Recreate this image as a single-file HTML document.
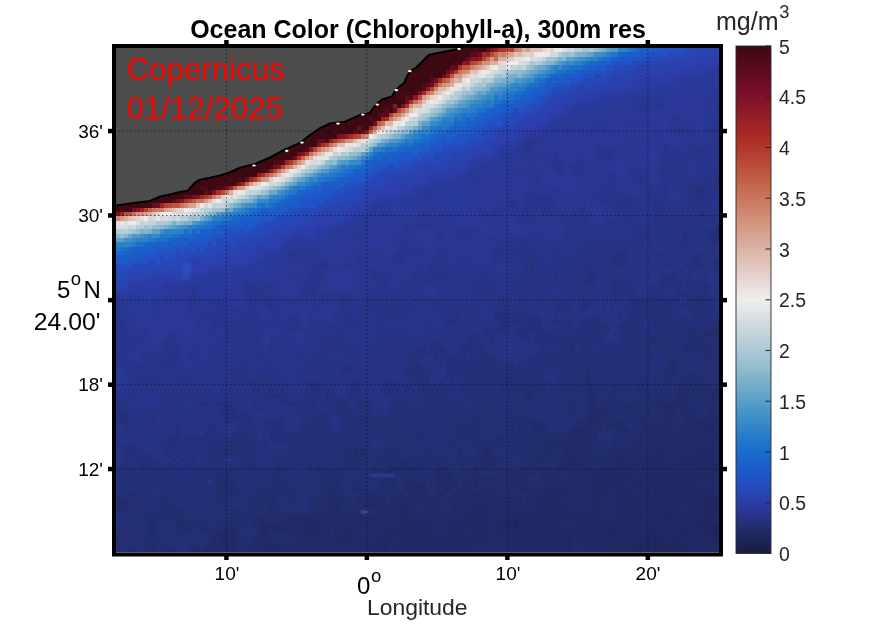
<!DOCTYPE html>
<html><head><meta charset="utf-8"><style>
html,body{margin:0;padding:0;background:#fff;overflow:hidden}
svg{display:block}
text{font-family:"Liberation Sans",sans-serif}
</style></head><body>
<svg width="895" height="626" viewBox="0 0 895 626">
<defs>
<filter id="bl" x="-50%" y="-50%" width="200%" height="200%"><feGaussianBlur stdDeviation="1"/></filter>
<clipPath id="cp"><rect x="116" y="48" width="603" height="505"/></clipPath>
<linearGradient id="cb" x1="0" y1="0" x2="0" y2="1"><stop offset="0.000" stop-color="#3c0911"/><stop offset="0.023" stop-color="#4b0a17"/><stop offset="0.045" stop-color="#5a0c1d"/><stop offset="0.068" stop-color="#690d22"/><stop offset="0.091" stop-color="#790e28"/><stop offset="0.114" stop-color="#851527"/><stop offset="0.136" stop-color="#921d26"/><stop offset="0.159" stop-color="#9f2425"/><stop offset="0.182" stop-color="#ac2b24"/><stop offset="0.205" stop-color="#b23a2d"/><stop offset="0.227" stop-color="#b84836"/><stop offset="0.250" stop-color="#be573f"/><stop offset="0.273" stop-color="#c46549"/><stop offset="0.295" stop-color="#c87359"/><stop offset="0.318" stop-color="#cd8169"/><stop offset="0.341" stop-color="#d18f79"/><stop offset="0.364" stop-color="#d59d89"/><stop offset="0.386" stop-color="#d9aa9a"/><stop offset="0.409" stop-color="#deb8ab"/><stop offset="0.432" stop-color="#e2c5bb"/><stop offset="0.455" stop-color="#e6d2cc"/><stop offset="0.477" stop-color="#ebe0dc"/><stop offset="0.500" stop-color="#f0edec"/><stop offset="0.523" stop-color="#e1e4e5"/><stop offset="0.545" stop-color="#d2dade"/><stop offset="0.568" stop-color="#c2d3da"/><stop offset="0.591" stop-color="#b2cbd6"/><stop offset="0.614" stop-color="#a1c3d1"/><stop offset="0.636" stop-color="#91bccd"/><stop offset="0.659" stop-color="#7db1cb"/><stop offset="0.682" stop-color="#69a7ca"/><stop offset="0.705" stop-color="#559cc8"/><stop offset="0.727" stop-color="#4291c6"/><stop offset="0.750" stop-color="#3486c8"/><stop offset="0.773" stop-color="#267ac9"/><stop offset="0.795" stop-color="#196ecb"/><stop offset="0.818" stop-color="#1a63ca"/><stop offset="0.841" stop-color="#1e58c9"/><stop offset="0.864" stop-color="#234dbf"/><stop offset="0.886" stop-color="#2943b1"/><stop offset="0.909" stop-color="#2a399d"/><stop offset="0.932" stop-color="#263282"/><stop offset="0.955" stop-color="#212b68"/><stop offset="0.977" stop-color="#1c2355"/><stop offset="1.000" stop-color="#171c42"/></linearGradient>
</defs>
<rect width="895" height="626" fill="#fff"/>
<g clip-path="url(#cp)">
<g shape-rendering="crispEdges"><path fill="#3c0911" d="M116 48h181v4h-181zM301 48h40v4h-40zM345 48h129v4h-129zM482 48h4v4h-4zM116 52h92v5h-92zM212 52h61v5h-61zM277 52h52v5h-52zM333 52h125v5h-125zM466 52h4v5h-4zM116 57h44v4h-44zM164 57h93v4h-93zM261 57h128v4h-128zM393 57h73v4h-73zM116 61h133v4h-133zM253 61h28v4h-28zM285 61h169v4h-169zM458 61h4v4h-4zM116 65h201v5h-201zM321 65h56v5h-56zM381 65h69v5h-69zM116 70h201v4h-201zM321 70h105v4h-105zM434 70h12v4h-12zM116 74h12v4h-12zM132 74h97v4h-97zM233 74h100v4h-100zM337 74h4v4h-4zM345 74h73v4h-73zM422 74h8v4h-8zM434 74h8v4h-8zM116 78h133v5h-133zM253 78h12v5h-12zM269 78h56v5h-56zM329 78h24v5h-24zM357 78h16v5h-16zM377 78h53v5h-53zM116 83h117v4h-117zM237 83h96v4h-96zM337 83h85v4h-85zM116 87h113v4h-113zM233 87h8v4h-8zM245 87h88v4h-88zM337 87h8v4h-8zM349 87h64v4h-64zM116 91h44v4h-44zM164 91h133v4h-133zM301 91h100v4h-100zM405 91h13v4h-13zM116 95h20v5h-20zM140 95h117v5h-117zM261 95h24v5h-24zM289 95h96v5h-96zM389 95h8v5h-8zM116 100h52v4h-52zM172 100h61v4h-61zM237 100h64v4h-64zM305 100h12v4h-12zM321 100h24v4h-24zM349 100h56v4h-56zM116 104h4v4h-4zM124 104h265v4h-265zM397 104h4v4h-4zM116 108h129v5h-129zM249 108h132v5h-132zM389 108h4v5h-4zM116 113h8v4h-8zM128 113h4v4h-4zM136 113h72v4h-72zM212 113h165v4h-165zM116 117h8v4h-8zM128 117h4v4h-4zM136 117h197v4h-197zM337 117h32v4h-32zM377 117h4v4h-4zM116 121h88v5h-88zM208 121h157v5h-157zM116 126h8v4h-8zM128 126h185v4h-185zM317 126h24v4h-24zM345 126h12v4h-12zM365 126h4v4h-4zM116 130h28v4h-28zM148 130h169v4h-169zM321 130h12v4h-12zM337 130h4v4h-4zM349 130h4v4h-4zM116 134h125v5h-125zM245 134h92v5h-92zM116 139h60v4h-60zM180 139h133v4h-133zM116 143h141v4h-141zM261 143h32v4h-32zM297 143h20v4h-20zM116 147h173v5h-173zM293 147h8v5h-8zM116 152h137v4h-137zM257 152h28v4h-28zM289 152h8v4h-8zM116 156h173v4h-173zM116 160h157v5h-157zM116 165h100v4h-100zM221 165h40v4h-40zM265 165h4v4h-4zM116 169h80v4h-80zM200 169h61v4h-61zM116 173h133v4h-133zM253 173h4v4h-4zM116 177h113v5h-113zM233 177h4v5h-4zM241 177h4v5h-4zM120 182h84v4h-84zM208 182h8v4h-8zM229 182h4v4h-4zM116 186h84v4h-84zM208 186h8v4h-8zM116 190h32v5h-32zM152 190h52v5h-52zM116 195h28v4h-28zM148 195h32v4h-32zM116 199h44v4h-44zM164 199h8v4h-8zM116 203h32v5h-32zM116 208h4v4h-4zM124 208h8v4h-8z"/><path fill="#410913" d="M297 48h4v4h-4zM341 48h4v4h-4zM478 48h4v4h-4zM208 52h4v5h-4zM458 52h8v5h-8zM257 57h4v4h-4zM281 61h4v4h-4zM317 65h4v5h-4zM377 65h4v5h-4zM317 70h4v4h-4zM426 70h8v4h-8zM128 74h4v4h-4zM229 74h4v4h-4zM333 74h4v4h-4zM341 74h4v4h-4zM418 74h4v4h-4zM430 74h4v4h-4zM249 78h4v5h-4zM353 78h4v5h-4zM373 78h4v5h-4zM233 83h4v4h-4zM333 83h4v4h-4zM229 87h4v4h-4zM241 87h4v4h-4zM333 87h4v4h-4zM345 87h4v4h-4zM413 87h9v4h-9zM160 91h4v4h-4zM297 91h4v4h-4zM401 91h4v4h-4zM136 95h4v5h-4zM257 95h4v5h-4zM285 95h4v5h-4zM385 95h4v5h-4zM397 95h8v5h-8zM301 100h4v4h-4zM317 100h4v4h-4zM345 100h4v4h-4zM120 104h4v4h-4zM389 104h4v4h-4zM245 108h4v5h-4zM381 108h4v5h-4zM124 113h4v4h-4zM124 117h4v4h-4zM132 117h4v4h-4zM373 117h4v4h-4zM204 121h4v5h-4zM365 121h8v5h-8zM124 126h4v4h-4zM313 126h4v4h-4zM361 126h4v4h-4zM144 130h4v4h-4zM317 130h4v4h-4zM341 130h8v4h-8zM241 134h4v5h-4zM176 139h4v4h-4zM313 139h4v4h-4zM257 143h4v4h-4zM293 143h4v4h-4zM289 147h4v5h-4zM301 147h4v5h-4zM253 152h4v4h-4zM285 152h4v4h-4zM289 156h4v4h-4zM216 165h5v4h-5zM261 165h4v4h-4zM269 165h4v4h-4zM196 169h4v4h-4zM261 169h4v4h-4zM249 173h4v4h-4zM204 182h4v4h-4zM216 182h13v4h-13zM148 190h4v5h-4zM144 195h4v4h-4zM180 195h4v4h-4zM160 199h4v4h-4zM148 203h4v5h-4z"/><path fill="#4c0a17" d="M474 48h4v4h-4zM329 52h4v5h-4zM160 57h4v4h-4zM249 61h4v4h-4zM454 61h4v4h-4zM265 78h4v5h-4zM325 78h4v5h-4zM422 83h4v4h-4zM409 95h4v5h-4zM168 100h4v4h-4zM132 113h4v4h-4zM208 113h4v4h-4zM377 113h4v4h-4zM385 113h4v4h-4zM333 117h4v4h-4zM369 117h4v4h-4zM341 126h4v4h-4zM333 130h4v4h-4zM325 139h4v4h-4zM305 147h4v5h-4zM273 160h8v5h-8zM229 177h4v5h-4zM237 177h4v5h-4zM233 182h4v4h-4zM200 186h8v4h-8zM216 186h9v4h-9zM208 190h4v5h-4zM120 208h4v4h-4z"/><path fill="#570b1b" d="M486 48h4v4h-4zM273 52h4v5h-4zM470 52h8v5h-8zM454 65h4v5h-4zM430 78h4v5h-4zM426 83h4v4h-4zM422 87h4v4h-4zM405 95h4v5h-4zM233 100h4v4h-4zM385 108h4v5h-4zM381 113h4v4h-4zM357 130h4v4h-4zM281 160h4v5h-4zM265 169h4v4h-4zM116 182h4v4h-4zM204 190h4v5h-4zM184 195h8v4h-8zM172 199h4v4h-4z"/><path fill="#801227" d="M490 48h4v4h-4zM470 57h8v4h-8zM341 134h4v5h-4zM317 143h4v4h-4zM301 152h4v4h-4zM277 165h4v4h-4zM237 182h4v4h-4zM212 190h4v5h-4zM196 195h4v4h-4zM116 212h4v4h-4z"/><path fill="#921c26" d="M494 48h4v4h-4zM446 74h4v4h-4zM365 130h4v4h-4zM345 134h4v5h-4zM329 139h4v4h-4zM257 173h4v4h-4z"/><path fill="#ad2c25" d="M498 48h4v4h-4zM458 65h4v5h-4zM409 100h4v4h-4zM405 104h4v4h-4zM385 117h4v4h-4zM349 134h4v5h-4zM321 143h4v4h-4zM305 152h4v4h-4zM297 156h4v4h-4zM261 173h4v4h-4zM216 190h5v5h-5zM184 199h4v4h-4z"/><path fill="#b1372b" d="M502 48h4v4h-4zM454 70h4v4h-4zM434 83h4v4h-4zM389 113h4v4h-4zM333 139h4v4h-4zM289 160h4v5h-4zM253 177h4v5h-4zM204 195h4v4h-4z"/><path fill="#b94b38" d="M506 48h4v4h-4zM490 52h4v5h-4zM474 61h4v4h-4zM418 95h4v5h-4zM357 134h4v5h-4zM221 190h4v5h-4zM208 195h4v4h-4zM168 203h4v5h-4zM124 212h8v4h-8z"/><path fill="#b54132" d="M510 48h4v4h-4zM482 57h4v4h-4zM470 61h4v4h-4zM430 87h4v4h-4zM397 108h4v5h-4zM353 134h4v5h-4zM325 143h4v4h-4zM313 147h4v5h-4zM281 165h4v4h-4zM273 169h4v4h-4zM188 199h4v4h-4zM164 203h4v5h-4zM144 208h4v4h-4z"/><path fill="#cb7d64" d="M514 48h4v4h-4zM502 52h4v5h-4zM470 65h4v5h-4zM397 113h4v4h-4zM389 117h4v4h-4zM225 190h4v5h-4zM212 195h4v4h-4zM156 208h8v4h-8z"/><path fill="#ce8770" d="M518 48h4v4h-4zM498 52h4v5h-4zM462 70h4v4h-4zM434 87h4v4h-4zM430 91h4v4h-4zM289 165h4v4h-4zM184 203h4v5h-4zM116 216h4v5h-4z"/><path fill="#daad9e" d="M522 48h4v4h-4zM498 57h8v4h-8zM490 61h8v4h-8zM458 78h4v5h-4zM450 83h4v4h-4zM373 130h4v4h-4zM301 160h4v5h-4zM229 190h4v5h-4zM168 208h4v4h-4zM148 212h4v4h-4zM124 216h4v5h-4z"/><path fill="#d49b86" d="M526 48h4v4h-4zM490 57h4v4h-4zM454 74h4v4h-4zM450 78h4v5h-4zM446 83h4v4h-4zM422 95h4v5h-4zM393 117h4v4h-4zM377 126h4v4h-4zM313 152h4v4h-4zM305 156h4v4h-4zM281 169h4v4h-4zM265 177h4v5h-4zM249 182h4v4h-4zM241 186h4v4h-4zM216 195h5v4h-5zM204 199h4v4h-4zM120 216h4v5h-4z"/><path fill="#e0c0b6" d="M530 48h12v4h-12zM514 52h4v5h-4zM470 70h8v4h-8zM422 100h4v4h-4zM409 108h4v5h-4zM381 126h4v4h-4zM337 143h8v4h-8zM329 147h4v5h-4zM285 169h4v4h-4zM253 182h4v4h-4zM172 208h4v4h-4zM152 212h4v4h-4zM128 216h4v5h-4z"/><path fill="#e6d3cd" d="M542 48h4v4h-4zM550 48h4v4h-4zM526 52h4v5h-4zM498 61h4v4h-4zM446 87h4v4h-4zM430 95h4v5h-4zM357 139h4v4h-4zM297 165h4v4h-4zM257 182h4v4h-4zM176 208h8v4h-8zM156 212h4v4h-4zM136 216h4v5h-4z"/><path fill="#eaddd9" d="M546 48h4v4h-4zM514 57h8v4h-8zM502 61h4v4h-4zM478 70h4v4h-4zM470 74h4v4h-4zM462 78h4v5h-4zM454 83h4v4h-4zM442 91h4v4h-4zM434 95h4v5h-4zM426 100h4v4h-4zM422 104h4v4h-4zM413 108h5v5h-5zM401 117h4v4h-4zM361 139h4v4h-4zM333 147h4v5h-4zM313 156h4v4h-4zM305 160h4v5h-4zM281 173h4v4h-4zM233 190h4v5h-4zM212 199h4v4h-4zM140 216h4v5h-4zM116 221h4v4h-4z"/><path fill="#ede6e4" d="M554 48h8v4h-8zM534 52h4v5h-4zM546 52h4v5h-4zM506 61h4v4h-4zM490 65h4v5h-4zM458 83h4v4h-4zM434 100h4v4h-4zM393 121h4v5h-4zM385 126h4v4h-4zM345 143h4v4h-4zM353 143h4v4h-4zM329 152h4v4h-4zM289 169h4v4h-4zM249 186h4v4h-4zM237 190h8v5h-8zM225 195h4v4h-4zM200 203h4v5h-4zM188 208h4v4h-4zM160 212h4v4h-4zM120 221h4v4h-4z"/><path fill="#d9dee1" d="M562 48h4v4h-4zM530 57h8v4h-8zM518 61h4v4h-4zM490 70h4v4h-4zM474 74h4v4h-4zM462 83h8v4h-8zM458 87h4v4h-4zM450 91h4v4h-4zM442 95h4v5h-4zM438 100h4v4h-4zM426 104h8v4h-8zM418 108h8v5h-8zM389 126h4v4h-4zM373 134h4v5h-4zM357 143h4v4h-4zM345 147h4v5h-4zM309 160h4v5h-4zM317 160h4v5h-4zM297 169h4v4h-4zM289 173h4v4h-4zM281 177h4v5h-4zM196 208h4v4h-4zM172 212h4v4h-4zM184 212h4v4h-4zM164 216h4v5h-4zM124 221h4v4h-4zM136 221h4v4h-4zM116 225h12v4h-12z"/><path fill="#ced8dd" d="M566 48h8v4h-8zM550 52h8v5h-8zM538 57h4v4h-4zM522 61h8v4h-8zM498 65h8v5h-8zM494 70h4v4h-4zM486 74h8v4h-8zM470 78h8v5h-8zM446 95h4v5h-4zM426 108h4v5h-4zM409 117h4v4h-4zM385 130h4v4h-4zM349 147h4v5h-4zM337 152h4v4h-4zM313 160h4v5h-4zM305 165h4v4h-4zM269 182h8v4h-8zM261 186h4v4h-4zM245 190h4v5h-4zM229 195h4v4h-4zM237 195h4v4h-4zM221 199h4v4h-4zM229 199h4v4h-4zM204 203h4v5h-4zM176 212h8v4h-8zM188 212h4v4h-4zM148 216h8v5h-8zM160 216h4v5h-4zM168 216h4v5h-4zM176 216h4v5h-4zM144 221h4v4h-4zM132 225h4v4h-4z"/><path fill="#b7cdd7" d="M574 48h8v4h-8zM558 52h4v5h-4zM534 61h4v4h-4zM518 65h4v5h-4zM502 70h4v4h-4zM486 78h4v5h-4zM462 87h4v4h-4zM454 91h8v4h-8zM450 95h8v5h-8zM409 121h9v5h-9zM401 126h4v4h-4zM381 134h4v5h-4zM361 143h4v4h-4zM353 147h12v5h-12zM345 152h4v4h-4zM329 156h4v4h-4zM309 165h8v4h-8zM301 169h4v4h-4zM257 190h4v5h-4zM233 199h4v4h-4zM204 208h8v4h-8zM192 212h12v4h-12zM180 216h8v5h-8zM136 225h8v4h-8zM116 229h12v5h-12z"/><path fill="#9fc3d1" d="M582 48h8v4h-8zM562 52h4v5h-4zM570 52h4v5h-4zM546 57h8v4h-8zM526 65h4v5h-4zM506 70h8v4h-8zM498 74h4v4h-4zM478 83h4v4h-4zM470 87h4v4h-4zM462 91h4v4h-4zM458 95h4v5h-4zM446 100h8v4h-8zM434 108h4v5h-4zM422 117h4v4h-4zM405 126h4v4h-4zM397 130h4v4h-4zM377 139h4v4h-4zM369 143h4v4h-4zM365 147h4v5h-4zM317 165h4v4h-4zM309 169h4v4h-4zM261 190h4v5h-4zM237 199h4v4h-4zM212 208h9v4h-9zM204 212h4v4h-4zM188 216h4v5h-4zM196 216h4v5h-4zM168 221h4v4h-4zM144 225h4v4h-4zM132 229h4v5h-4z"/><path fill="#abc8d4" d="M590 48h4v4h-4zM530 61h4v4h-4zM538 61h4v4h-4zM494 74h4v4h-4zM502 74h4v4h-4zM482 78h4v5h-4zM490 78h4v5h-4zM474 83h4v4h-4zM482 83h4v4h-4zM438 104h4v4h-4zM430 108h4v5h-4zM422 113h8v4h-8zM418 117h4v4h-4zM393 130h4v4h-4zM385 134h4v5h-4zM373 139h4v4h-4zM341 152h4v4h-4zM333 156h4v4h-4zM305 169h4v4h-4zM297 173h4v4h-4zM289 177h4v5h-4zM281 182h4v4h-4zM269 186h4v4h-4zM245 195h4v4h-4zM225 203h4v5h-4zM156 221h12v4h-12zM148 225h4v4h-4zM128 229h4v5h-4z"/><path fill="#94bdce" d="M594 48h4v4h-4zM566 52h4v5h-4zM554 57h4v4h-4zM542 61h4v4h-4zM530 65h4v5h-4zM514 70h8v4h-8zM474 87h8v4h-8zM466 91h8v4h-8zM442 104h4v4h-4zM438 108h4v5h-4zM430 113h4v4h-4zM409 126h4v4h-4zM389 134h4v5h-4zM349 152h8v4h-8zM337 156h8v4h-8zM325 160h4v5h-4zM333 160h4v5h-4zM301 173h4v4h-4zM273 186h4v4h-4zM265 190h4v5h-4zM249 195h4v4h-4zM229 203h4v5h-4zM221 208h4v4h-4zM192 216h4v5h-4zM176 221h4v4h-4zM152 225h8v4h-8zM136 229h4v5h-4zM120 234h4v4h-4z"/><path fill="#87b6cc" d="M598 48h4v4h-4zM574 52h4v5h-4zM562 57h4v4h-4zM546 61h8v4h-8zM522 70h4v4h-4zM506 74h4v4h-4zM518 74h4v4h-4zM494 78h8v5h-8zM486 83h4v4h-4zM482 87h4v4h-4zM462 95h4v5h-4zM454 100h4v4h-4zM446 104h4v4h-4zM434 113h4v4h-4zM426 117h4v4h-4zM401 130h8v4h-8zM373 143h4v4h-4zM357 152h4v4h-4zM345 156h4v4h-4zM329 160h4v5h-4zM321 165h4v4h-4zM313 169h4v4h-4zM293 177h4v5h-4zM285 182h4v4h-4zM277 186h4v4h-4zM253 195h4v4h-4zM241 199h8v4h-8zM208 212h4v4h-4zM180 221h4v4h-4zM160 225h4v4h-4zM144 229h4v5h-4zM116 234h4v4h-4zM124 234h4v4h-4z"/><path fill="#79afcb" d="M602 48h4v4h-4zM578 52h8v5h-8zM558 57h4v4h-4zM534 65h4v5h-4zM526 70h4v4h-4zM510 74h8v4h-8zM502 78h4v5h-4zM490 83h4v4h-4zM486 87h4v4h-4zM474 91h4v4h-4zM466 95h4v5h-4zM450 104h4v4h-4zM442 108h4v5h-4zM418 121h4v5h-4zM413 126h5v4h-5zM393 134h8v5h-8zM381 139h4v4h-4zM349 156h4v4h-4zM325 165h4v4h-4zM305 173h4v4h-4zM249 199h4v4h-4zM233 203h4v5h-4zM212 212h4v4h-4zM200 216h4v5h-4zM172 221h4v4h-4zM184 221h8v4h-8zM164 225h4v4h-4zM140 229h4v5h-4zM148 229h4v5h-4z"/><path fill="#5da0c8" d="M606 48h4v4h-4zM590 52h4v5h-4zM566 57h8v4h-8zM534 70h4v4h-4zM526 74h4v4h-4zM498 83h8v4h-8zM478 91h4v4h-4zM474 95h4v5h-4zM462 100h4v4h-4zM430 117h4v4h-4zM422 121h8v5h-8zM418 126h4v4h-4zM409 130h4v4h-4zM401 134h4v5h-4zM369 147h4v5h-4zM361 152h4v4h-4zM337 160h4v5h-4zM329 165h4v4h-4zM301 177h4v5h-4zM293 182h4v4h-4zM257 195h4v4h-4zM265 195h4v4h-4zM253 199h4v4h-4zM225 208h4v4h-4zM204 216h4v5h-4zM172 225h4v4h-4zM152 229h8v5h-8zM116 238h8v4h-8z"/><path fill="#4f98c7" d="M610 48h8v4h-8zM574 57h4v4h-4zM558 61h4v4h-4zM546 65h4v5h-4zM538 70h4v4h-4zM530 74h4v4h-4zM514 78h8v5h-8zM506 83h4v4h-4zM490 87h8v4h-8zM486 91h4v4h-4zM478 95h4v5h-4zM466 100h4v4h-4zM458 104h8v4h-8zM446 108h8v5h-8zM442 113h4v4h-4zM434 117h4v4h-4zM389 139h8v4h-8zM377 143h8v4h-8zM365 152h4v4h-4zM357 156h4v4h-4zM341 160h8v5h-8zM333 165h4v4h-4zM321 169h8v4h-8zM313 173h4v4h-4zM285 186h4v4h-4zM241 203h4v5h-4zM216 212h5v4h-5zM208 216h4v5h-4zM192 221h4v4h-4zM176 225h4v4h-4zM132 234h8v4h-8z"/><path fill="#2e81c8" d="M618 48h9v4h-9zM606 52h4v5h-4zM590 57h8v4h-8zM574 61h8v4h-8zM554 65h4v5h-4zM550 70h4v4h-4zM538 74h8v4h-8zM514 83h4v4h-4zM522 83h4v4h-4zM510 87h8v4h-8zM502 91h4v4h-4zM498 95h4v5h-4zM482 100h4v4h-4zM490 100h4v4h-4zM470 104h12v4h-12zM462 108h12v5h-12zM454 113h4v4h-4zM442 117h12v4h-12zM438 121h4v5h-4zM418 130h12v4h-12zM413 134h5v5h-5zM409 139h4v4h-4zM389 143h8v4h-8zM373 147h8v5h-8zM369 152h4v4h-4zM365 156h4v4h-4zM345 165h4v4h-4zM333 169h8v4h-8zM321 173h8v4h-8zM309 177h4v5h-4zM305 182h4v4h-4zM285 190h4v5h-4zM273 195h8v4h-8zM241 208h4v4h-4zM229 212h8v4h-8zM212 216h9v5h-9zM204 221h4v4h-4zM188 225h8v4h-8zM164 229h20v5h-20zM148 234h4v4h-4zM136 238h12v4h-12zM116 242h16v5h-16z"/><path fill="#2478c9" d="M627 48h4v4h-4zM610 52h8v5h-8zM598 57h4v4h-4zM582 61h4v4h-4zM562 65h8v5h-8zM554 70h4v4h-4zM546 74h4v4h-4zM534 78h4v5h-4zM526 83h4v4h-4zM518 87h8v4h-8zM506 91h8v4h-8zM494 95h4v5h-4zM502 95h4v5h-4zM486 100h4v4h-4zM482 104h12v4h-12zM474 108h4v5h-4zM458 113h4v4h-4zM466 113h4v4h-4zM458 117h4v4h-4zM442 121h12v5h-12zM430 126h8v4h-8zM442 126h4v4h-4zM430 130h4v4h-4zM418 134h4v5h-4zM405 139h4v4h-4zM397 143h4v4h-4zM381 147h4v5h-4zM361 160h4v5h-4zM341 165h4v4h-4zM349 165h8v4h-8zM341 169h4v4h-4zM329 173h8v4h-8zM317 177h8v5h-8zM309 182h4v4h-4zM293 186h12v4h-12zM289 190h8v5h-8zM281 195h4v4h-4zM269 199h8v4h-8zM257 203h4v5h-4zM265 203h4v5h-4zM245 208h4v4h-4zM237 212h8v4h-8zM221 216h8v5h-8zM208 221h4v4h-4zM196 225h8v4h-8zM188 229h4v5h-4zM160 234h12v4h-12zM148 238h8v4h-8zM132 242h4v5h-4zM116 247h4v4h-4z"/><path fill="#1b70ca" d="M631 48h4v4h-4zM602 57h8v4h-8zM586 61h4v4h-4zM570 65h12v5h-12zM558 70h8v4h-8zM538 78h8v5h-8zM530 83h8v4h-8zM514 91h8v4h-8zM506 95h8v5h-8zM494 100h8v4h-8zM478 108h8v5h-8zM462 113h4v4h-4zM470 113h8v4h-8zM454 117h4v4h-4zM462 117h4v4h-4zM470 117h4v4h-4zM438 126h4v4h-4zM446 126h4v4h-4zM434 130h4v4h-4zM422 134h8v5h-8zM413 139h9v4h-9zM401 143h12v4h-12zM385 147h12v5h-12zM373 152h4v4h-4zM369 156h4v4h-4zM357 165h4v4h-4zM345 169h8v4h-8zM337 173h8v4h-8zM325 177h8v5h-8zM313 182h8v4h-8zM285 195h4v4h-4zM277 199h4v4h-4zM261 203h4v5h-4zM269 203h4v5h-4zM249 208h8v4h-8zM245 212h4v4h-4zM229 216h4v5h-4zM212 221h9v4h-9zM204 225h8v4h-8zM184 229h4v5h-4zM196 229h4v5h-4zM172 234h8v4h-8zM156 238h12v4h-12zM136 242h8v5h-8zM120 247h8v4h-8z"/><path fill="#1868cb" d="M635 48h4v4h-4zM618 52h5v5h-5zM590 61h8v4h-8zM582 65h4v5h-4zM566 70h8v4h-8zM550 74h4v4h-4zM558 74h4v4h-4zM538 83h4v4h-4zM526 87h8v4h-8zM522 91h8v4h-8zM514 95h8v5h-8zM502 100h4v4h-4zM510 100h4v4h-4zM494 104h4v4h-4zM486 108h4v5h-4zM478 113h4v4h-4zM466 117h4v4h-4zM454 121h12v5h-12zM450 126h4v4h-4zM438 130h8v4h-8zM430 134h4v5h-4zM422 139h8v4h-8zM413 143h5v4h-5zM397 147h8v5h-8zM377 152h12v4h-12zM377 156h4v4h-4zM365 160h4v5h-4zM361 165h8v4h-8zM345 173h4v4h-4zM333 177h4v5h-4zM305 186h8v4h-8zM297 190h8v5h-8zM289 195h4v4h-4zM281 199h4v4h-4zM273 203h4v5h-4zM257 208h4v4h-4zM249 212h4v4h-4zM233 216h8v5h-8zM221 221h8v4h-8zM212 225h4v4h-4zM192 229h4v5h-4zM180 234h12v4h-12zM168 238h4v4h-4zM144 242h8v5h-8zM128 247h8v4h-8zM116 251h8v4h-8z"/><path fill="#1b60ca" d="M639 48h12v4h-12zM623 52h12v5h-12zM610 57h8v4h-8zM598 61h12v4h-12zM586 65h12v5h-12zM574 70h4v4h-4zM554 74h4v4h-4zM562 74h4v4h-4zM546 78h12v5h-12zM542 83h4v4h-4zM534 87h8v4h-8zM530 91h4v4h-4zM522 95h8v5h-8zM506 100h4v4h-4zM498 104h8v4h-8zM490 108h12v5h-12zM482 113h12v4h-12zM474 117h12v4h-12zM466 121h12v5h-12zM454 126h16v4h-16zM446 130h8v4h-8zM458 130h4v4h-4zM434 134h20v5h-20zM430 139h8v4h-8zM418 143h12v4h-12zM405 147h17v5h-17zM389 152h12v4h-12zM413 152h5v4h-5zM373 156h4v4h-4zM381 156h4v4h-4zM389 156h4v4h-4zM369 160h4v5h-4zM353 169h12v4h-12zM349 173h4v4h-4zM337 177h12v5h-12zM321 182h12v4h-12zM337 182h4v4h-4zM313 186h8v4h-8zM305 190h8v5h-8zM317 190h4v5h-4zM293 195h8v4h-8zM285 199h12v4h-12zM277 203h8v5h-8zM261 208h16v4h-16zM253 212h8v4h-8zM241 216h16v5h-16zM229 221h12v4h-12zM216 225h5v4h-5zM225 225h4v4h-4zM200 229h12v5h-12zM192 234h4v4h-4zM172 238h12v4h-12zM188 238h4v4h-4zM152 242h16v5h-16zM172 242h4v5h-4zM136 247h16v4h-16zM124 251h8v4h-8zM136 251h4v4h-4zM120 255h4v4h-4zM128 255h4v4h-4z"/><path fill="#1e59c9" d="M651 48h12v4h-12zM635 52h12v5h-12zM618 57h13v4h-13zM610 61h4v4h-4zM598 65h8v5h-8zM578 70h12v4h-12zM566 74h16v4h-16zM558 78h12v5h-12zM546 83h8v4h-8zM542 87h8v4h-8zM534 91h12v4h-12zM530 95h4v5h-4zM514 100h16v4h-16zM506 104h16v4h-16zM502 108h8v5h-8zM494 113h4v4h-4zM486 117h8v4h-8zM478 121h8v5h-8zM470 126h12v4h-12zM454 130h4v4h-4zM462 130h12v4h-12zM454 134h4v5h-4zM438 139h4v4h-4zM446 139h4v4h-4zM430 143h12v4h-12zM422 147h8v5h-8zM401 152h12v4h-12zM385 156h4v4h-4zM393 156h16v4h-16zM373 160h24v5h-24zM369 165h8v4h-8zM365 169h8v4h-8zM353 173h12v4h-12zM349 177h16v5h-16zM333 182h4v4h-4zM341 182h8v4h-8zM321 186h20v4h-20zM313 190h4v5h-4zM321 190h12v5h-12zM301 195h16v4h-16zM297 199h8v4h-8zM285 203h16v5h-16zM277 208h12v4h-12zM261 212h20v4h-20zM257 216h4v5h-4zM265 216h8v5h-8zM241 221h16v4h-16zM221 225h4v4h-4zM229 225h16v4h-16zM249 225h4v4h-4zM212 229h13v5h-13zM196 234h16v4h-16zM184 238h4v4h-4zM192 238h12v4h-12zM168 242h4v5h-4zM176 242h12v5h-12zM152 247h24v4h-24zM132 251h4v4h-4zM140 251h16v4h-16zM116 255h4v4h-4zM124 255h4v4h-4zM132 255h12v4h-12zM116 259h12v5h-12z"/><path fill="#2151c4" d="M663 48h20v4h-20zM647 52h4v5h-4zM655 52h12v5h-12zM631 57h16v4h-16zM614 61h17v4h-17zM606 65h8v5h-8zM590 70h16v4h-16zM582 74h12v4h-12zM570 78h12v5h-12zM554 83h16v4h-16zM550 87h4v4h-4zM546 91h4v4h-4zM534 95h12v5h-12zM530 100h12v4h-12zM522 104h8v4h-8zM510 108h4v5h-4zM518 108h8v5h-8zM498 113h12v4h-12zM494 117h8v4h-8zM506 117h4v4h-4zM486 121h16v5h-16zM482 126h8v4h-8zM474 130h8v4h-8zM458 134h20v5h-20zM442 139h4v4h-4zM450 139h20v4h-20zM442 143h20v4h-20zM430 147h12v5h-12zM418 152h16v4h-16zM409 156h13v4h-13zM397 160h16v5h-16zM377 165h12v4h-12zM393 165h8v4h-8zM373 169h8v4h-8zM365 173h8v4h-8zM365 177h4v5h-4zM349 182h12v4h-12zM341 186h12v4h-12zM333 190h4v5h-4zM341 190h4v5h-4zM317 195h16v4h-16zM305 199h20v4h-20zM301 203h16v5h-16zM289 208h8v4h-8zM281 212h12v4h-12zM261 216h4v5h-4zM273 216h4v5h-4zM257 221h8v4h-8zM245 225h4v4h-4zM253 225h4v4h-4zM225 229h16v5h-16zM245 229h4v5h-4zM212 234h21v4h-21zM204 238h12v4h-12zM225 238h4v4h-4zM188 242h20v5h-20zM212 242h4v5h-4zM176 247h20v4h-20zM200 247h4v4h-4zM156 251h20v4h-20zM180 251h4v4h-4zM144 255h16v4h-16zM164 255h12v4h-12zM128 259h20v5h-20zM156 259h4v5h-4zM120 264h12v4h-12z"/><path fill="#2549ba" d="M683 48h8v4h-8zM651 52h4v5h-4zM667 52h16v5h-16zM647 57h12v4h-12zM631 61h12v4h-12zM614 65h21v5h-21zM606 70h8v4h-8zM618 70h5v4h-5zM602 74h8v4h-8zM582 78h4v5h-4zM590 78h8v5h-8zM602 78h4v5h-4zM570 83h8v4h-8zM586 83h4v4h-4zM554 87h16v4h-16zM550 91h12v4h-12zM546 95h4v5h-4zM542 100h4v4h-4zM530 104h12v4h-12zM514 108h4v5h-4zM526 108h8v5h-8zM510 113h16v4h-16zM502 117h4v4h-4zM510 117h8v4h-8zM502 121h12v5h-12zM490 126h12v4h-12zM482 130h12v4h-12zM478 134h8v5h-8zM470 139h12v4h-12zM462 143h12v4h-12zM442 147h24v5h-24zM434 152h16v4h-16zM422 156h12v4h-12zM438 156h12v4h-12zM413 160h13v5h-13zM430 160h8v5h-8zM389 165h4v4h-4zM401 165h12v4h-12zM381 169h16v4h-16zM405 169h4v4h-4zM373 173h4v4h-4zM385 173h4v4h-4zM369 177h4v5h-4zM377 177h4v5h-4zM361 182h8v4h-8zM353 186h12v4h-12zM337 190h4v5h-4zM345 190h16v5h-16zM333 195h24v4h-24zM325 199h16v4h-16zM317 203h12v5h-12zM297 208h24v4h-24zM293 212h8v4h-8zM305 212h8v4h-8zM277 216h20v5h-20zM301 216h4v5h-4zM265 221h20v4h-20zM289 221h8v4h-8zM257 225h24v4h-24zM241 229h4v5h-4zM249 229h20v5h-20zM233 234h16v4h-16zM257 234h4v4h-4zM216 238h9v4h-9zM229 238h16v4h-16zM208 242h4v5h-4zM216 242h9v5h-9zM229 242h8v5h-8zM196 247h4v4h-4zM204 247h17v4h-17zM176 251h4v4h-4zM184 251h32v4h-32zM160 255h4v4h-4zM176 255h12v4h-12zM148 259h8v5h-8zM160 259h20v5h-20zM116 264h4v4h-4zM132 264h32v4h-32zM168 264h8v4h-8zM116 268h32v4h-32zM116 272h8v5h-8z"/><path fill="#2746b5" d="M691 48h4v4h-4zM683 52h8v5h-8zM663 57h8v4h-8zM643 61h16v4h-16zM594 74h8v4h-8zM586 78h4v5h-4zM598 78h4v5h-4zM590 83h4v4h-4zM570 87h4v4h-4zM562 91h4v4h-4zM550 95h4v5h-4zM534 108h4v5h-4zM518 117h4v4h-4zM486 134h8v5h-8zM474 143h4v4h-4zM450 152h4v4h-4zM426 160h4v5h-4zM438 160h4v5h-4zM413 165h5v4h-5zM397 169h8v4h-8zM389 173h4v4h-4zM373 177h4v5h-4zM381 177h4v5h-4zM377 182h4v4h-4zM361 190h4v5h-4zM357 195h4v4h-4zM349 199h4v4h-4zM329 203h4v5h-4zM301 212h4v4h-4zM297 221h4v4h-4zM281 225h4v4h-4zM245 238h4v4h-4zM221 247h8v4h-8zM188 255h4v4h-4zM180 259h4v5h-4zM164 264h4v4h-4zM176 264h4v4h-4zM148 268h4v4h-4zM160 268h4v4h-4zM172 268h4v4h-4zM124 272h4v5h-4zM116 277h8v4h-8z"/><path fill="#2844b2" d="M695 48h20v4h-20zM691 52h8v5h-8zM659 57h4v4h-4zM671 57h4v4h-4zM659 61h12v4h-12zM635 65h4v5h-4zM651 65h4v5h-4zM614 70h4v4h-4zM623 70h8v4h-8zM610 74h4v4h-4zM618 74h9v4h-9zM606 78h4v5h-4zM578 83h8v4h-8zM594 83h8v4h-8zM574 87h4v4h-4zM586 87h4v4h-4zM558 95h4v5h-4zM546 100h4v4h-4zM542 104h8v4h-8zM538 108h4v5h-4zM526 113h4v4h-4zM522 117h4v4h-4zM514 121h8v5h-8zM506 126h8v4h-8zM494 130h4v4h-4zM482 139h8v4h-8zM478 143h4v4h-4zM466 147h8v5h-8zM454 152h16v4h-16zM434 156h4v4h-4zM442 160h4v5h-4zM418 165h4v4h-4zM434 165h4v4h-4zM409 169h9v4h-9zM377 173h8v4h-8zM393 173h8v4h-8zM405 173h4v4h-4zM385 177h4v5h-4zM369 182h8v4h-8zM381 182h4v4h-4zM365 186h8v4h-8zM361 195h4v4h-4zM341 199h8v4h-8zM353 199h4v4h-4zM333 203h8v5h-8zM321 208h8v4h-8zM313 212h4v4h-4zM297 216h4v5h-4zM305 216h8v5h-8zM285 221h4v4h-4zM301 221h8v4h-8zM285 225h4v4h-4zM269 229h8v5h-8zM281 229h4v5h-4zM249 234h8v4h-8zM261 234h4v4h-4zM249 238h16v4h-16zM225 242h4v5h-4zM237 242h12v5h-12zM229 247h16v4h-16zM216 251h9v4h-9zM192 255h24v4h-24zM184 259h4v5h-4zM180 264h8v4h-8zM152 268h8v4h-8zM164 268h8v4h-8zM176 268h4v4h-4zM128 272h4v5h-4zM140 272h8v5h-8zM124 277h4v4h-4zM116 281h8v4h-8z"/><path fill="#2942b0" d="M715 48h4v4h-4zM699 52h8v5h-8zM675 57h24v4h-24zM671 61h8v4h-8zM639 65h12v5h-12zM655 65h4v5h-4zM631 70h4v4h-4zM647 70h4v4h-4zM614 74h4v4h-4zM627 74h4v4h-4zM610 78h4v5h-4zM618 78h5v5h-5zM602 83h4v4h-4zM578 87h8v4h-8zM590 87h8v4h-8zM566 91h12v4h-12zM554 95h4v5h-4zM562 95h4v5h-4zM550 100h12v4h-12zM550 104h4v4h-4zM542 108h4v5h-4zM530 113h8v4h-8zM526 117h4v4h-4zM522 121h4v5h-4zM502 126h4v4h-4zM514 126h4v4h-4zM498 130h4v4h-4zM510 130h8v4h-8zM494 134h4v5h-4zM490 139h4v4h-4zM482 143h8v4h-8zM474 147h12v5h-12zM470 152h4v4h-4zM450 156h4v4h-4zM462 156h4v4h-4zM446 160h8v5h-8zM422 165h12v4h-12zM438 165h8v4h-8zM418 169h4v4h-4zM401 173h4v4h-4zM409 173h9v4h-9zM389 177h4v5h-4zM385 182h4v4h-4zM373 186h12v4h-12zM365 190h4v5h-4zM357 199h4v4h-4zM341 203h12v5h-12zM329 208h12v4h-12zM317 212h8v4h-8zM333 212h8v4h-8zM309 221h4v4h-4zM289 225h16v4h-16zM277 229h4v5h-4zM285 229h4v5h-4zM265 234h8v4h-8zM265 238h8v4h-8zM249 242h8v5h-8zM225 251h16v4h-16zM221 255h4v4h-4zM229 255h4v4h-4zM188 259h4v5h-4zM200 259h4v5h-4zM208 259h8v5h-8zM180 268h4v4h-4zM132 272h8v5h-8zM148 272h16v5h-16zM168 272h12v5h-12zM128 277h4v4h-4zM124 281h4v4h-4zM116 285h4v5h-4z"/><path fill="#6c0d23" d="M478 52h4v5h-4zM446 70h4v4h-4zM442 74h4v4h-4zM430 83h4v4h-4zM405 100h4v4h-4zM373 121h4v5h-4zM357 126h4v4h-4zM361 130h4v4h-4zM297 152h4v4h-4zM293 156h4v4h-4zM156 203h4v5h-4z"/><path fill="#a42725" d="M482 52h4v5h-4zM438 78h4v5h-4zM422 91h4v4h-4zM200 195h4v4h-4z"/><path fill="#9b2225" d="M486 52h4v5h-4zM381 117h4v4h-4zM369 126h4v4h-4zM285 160h4v5h-4zM249 177h4v5h-4zM241 182h4v4h-4zM229 186h4v4h-4zM160 203h4v5h-4zM140 208h4v4h-4zM120 212h4v4h-4z"/><path fill="#c56a4e" d="M494 52h4v5h-4zM486 57h4v4h-4zM494 57h4v4h-4zM478 61h4v4h-4zM446 78h4v5h-4zM426 91h4v4h-4zM413 100h5v4h-5zM401 108h4v5h-4zM369 130h4v4h-4zM341 139h4v4h-4zM301 156h4v4h-4zM257 177h4v5h-4z"/><path fill="#d7a492" d="M506 52h8v5h-8zM478 65h4v5h-4zM401 113h4v4h-4zM325 147h4v5h-4zM188 203h8v5h-8zM164 208h4v4h-4zM144 212h4v4h-4z"/><path fill="#ddb7aa" d="M518 52h4v5h-4zM482 65h4v5h-4zM462 74h4v4h-4zM454 78h4v5h-4zM438 87h8v4h-8zM434 91h4v4h-4zM426 95h4v5h-4zM413 104h9v4h-9zM397 117h4v4h-4zM385 121h8v5h-8zM353 139h4v4h-4zM317 152h4v4h-4zM309 156h4v4h-4zM293 165h4v4h-4zM277 173h4v4h-4zM208 199h4v4h-4z"/><path fill="#e3cac2" d="M522 52h4v5h-4zM530 52h4v5h-4zM506 57h8v4h-8zM486 65h4v5h-4zM466 74h4v4h-4zM438 91h4v4h-4zM405 113h4v4h-4zM321 152h4v4h-4zM269 177h4v5h-4zM245 186h4v4h-4zM221 195h4v4h-4zM196 203h4v5h-4zM132 216h4v5h-4z"/><path fill="#edebeb" d="M538 52h8v5h-8zM526 57h4v4h-4zM510 61h8v4h-8zM494 65h4v5h-4zM482 70h4v4h-4zM466 78h4v5h-4zM450 87h4v4h-4zM446 91h4v4h-4zM438 95h4v5h-4zM430 100h4v4h-4zM409 113h9v4h-9zM405 117h4v4h-4zM401 121h4v5h-4zM377 130h4v4h-4zM369 134h4v5h-4zM337 147h4v5h-4zM301 165h4v4h-4zM261 182h4v4h-4zM216 199h5v4h-5zM184 208h4v4h-4zM164 212h8v4h-8zM144 216h4v5h-4zM128 221h8v4h-8z"/><path fill="#6ba7ca" d="M586 52h4v5h-4zM554 61h4v4h-4zM538 65h8v5h-8zM530 70h4v4h-4zM522 74h4v4h-4zM506 78h8v5h-8zM494 83h4v4h-4zM482 91h4v4h-4zM470 95h4v5h-4zM458 100h4v4h-4zM454 104h4v4h-4zM438 113h4v4h-4zM385 139h4v4h-4zM353 156h4v4h-4zM317 169h4v4h-4zM309 173h4v4h-4zM297 177h4v5h-4zM289 182h4v4h-4zM281 186h4v4h-4zM269 190h8v5h-8zM261 195h4v4h-4zM237 203h4v5h-4zM229 208h4v4h-4zM168 225h4v4h-4zM128 234h4v4h-4z"/><path fill="#4191c6" d="M594 52h8v5h-8zM578 57h8v4h-8zM562 61h4v4h-4zM542 70h4v4h-4zM522 78h4v5h-4zM498 87h4v4h-4zM490 91h4v4h-4zM482 95h4v5h-4zM470 100h4v4h-4zM466 104h4v4h-4zM454 108h4v5h-4zM446 113h4v4h-4zM438 117h4v4h-4zM413 130h5v4h-5zM405 134h4v5h-4zM397 139h4v4h-4zM305 177h4v5h-4zM277 190h4v5h-4zM245 203h4v5h-4zM233 208h4v4h-4zM221 212h4v4h-4zM196 221h4v4h-4zM180 225h8v4h-8zM160 229h4v5h-4zM140 234h4v4h-4zM124 238h8v4h-8z"/><path fill="#3789c7" d="M602 52h4v5h-4zM586 57h4v4h-4zM566 61h8v4h-8zM550 65h4v5h-4zM558 65h4v5h-4zM546 70h4v4h-4zM534 74h4v4h-4zM526 78h8v5h-8zM510 83h4v4h-4zM518 83h4v4h-4zM502 87h8v4h-8zM494 91h8v4h-8zM486 95h8v5h-8zM474 100h8v4h-8zM458 108h4v5h-4zM450 113h4v4h-4zM430 121h8v5h-8zM422 126h8v4h-8zM409 134h4v5h-4zM401 139h4v4h-4zM385 143h4v4h-4zM361 156h4v4h-4zM349 160h12v5h-12zM337 165h4v4h-4zM329 169h4v4h-4zM317 173h4v4h-4zM313 177h4v5h-4zM297 182h8v4h-8zM289 186h4v4h-4zM281 190h4v5h-4zM269 195h4v4h-4zM257 199h12v4h-12zM249 203h8v5h-8zM237 208h4v4h-4zM225 212h4v4h-4zM200 221h4v4h-4zM144 234h4v4h-4zM152 234h8v4h-8zM132 238h4v4h-4z"/><path fill="#2a40ad" d="M707 52h12v5h-12zM699 57h12v4h-12zM679 61h20v4h-20zM659 65h20v5h-20zM635 70h12v4h-12zM651 70h12v4h-12zM631 74h8v4h-8zM614 78h4v5h-4zM623 78h4v5h-4zM606 83h12v4h-12zM598 87h4v4h-4zM578 91h16v4h-16zM566 95h8v5h-8zM562 100h8v4h-8zM554 104h8v4h-8zM546 108h4v5h-4zM538 113h8v4h-8zM530 117h8v4h-8zM526 121h8v5h-8zM518 126h4v4h-4zM502 130h8v4h-8zM498 134h16v5h-16zM494 139h4v4h-4zM486 147h4v5h-4zM474 152h8v4h-8zM454 156h8v4h-8zM466 156h4v4h-4zM454 160h4v5h-4zM446 165h12v4h-12zM422 169h16v4h-16zM442 169h4v4h-4zM418 173h4v4h-4zM393 177h20v5h-20zM389 182h4v4h-4zM405 182h4v4h-4zM385 186h4v4h-4zM369 190h4v5h-4zM365 195h4v4h-4zM353 203h4v5h-4zM341 208h8v4h-8zM325 212h8v4h-8zM341 212h4v4h-4zM313 216h4v5h-4zM329 216h12v5h-12zM305 225h8v4h-8zM289 229h4v5h-4zM273 234h12v4h-12zM273 238h4v4h-4zM257 242h12v5h-12zM245 247h8v4h-8zM241 251h8v4h-8zM216 255h5v4h-5zM225 255h4v4h-4zM192 259h8v5h-8zM204 259h4v5h-4zM216 259h9v5h-9zM188 264h12v4h-12zM184 268h8v4h-8zM164 272h4v5h-4zM180 272h4v5h-4zM136 277h12v4h-12zM120 285h8v5h-8z"/><path fill="#610c1f" d="M389 57h4v4h-4zM466 57h4v4h-4zM450 65h4v5h-4zM393 108h4v5h-4zM353 130h4v4h-4zM317 139h8v4h-8zM245 177h4v5h-4zM152 203h4v5h-4z"/><path fill="#891727" d="M478 57h4v4h-4zM462 61h8v4h-8zM450 70h4v4h-4zM426 87h4v4h-4zM413 95h5v5h-5zM393 104h4v4h-4zM309 147h4v5h-4zM269 169h4v4h-4zM180 199h4v4h-4zM136 208h4v4h-4z"/><path fill="#e3e5e6" d="M522 57h4v4h-4zM506 65h4v5h-4zM486 70h4v4h-4zM478 74h8v4h-8zM454 87h4v4h-4zM397 121h4v5h-4zM393 126h4v4h-4zM381 130h4v4h-4zM365 139h4v4h-4zM349 143h4v4h-4zM341 147h4v5h-4zM325 152h4v4h-4zM317 156h12v4h-12zM293 169h4v4h-4zM285 173h4v4h-4zM273 177h8v5h-8zM265 182h4v4h-4zM253 186h8v4h-8zM233 195h4v4h-4zM208 203h4v5h-4zM192 208h4v4h-4zM156 216h4v5h-4z"/><path fill="#c2d3da" d="M542 57h4v4h-4zM510 65h8v5h-8zM522 65h4v5h-4zM498 70h4v4h-4zM478 78h4v5h-4zM470 83h4v4h-4zM466 87h4v4h-4zM442 100h4v4h-4zM434 104h4v4h-4zM418 113h4v4h-4zM413 117h5v4h-5zM405 121h4v5h-4zM397 126h4v4h-4zM389 130h4v4h-4zM377 134h4v5h-4zM369 139h4v4h-4zM365 143h4v4h-4zM333 152h4v4h-4zM321 160h4v5h-4zM293 173h4v4h-4zM285 177h4v5h-4zM277 182h4v4h-4zM265 186h4v4h-4zM249 190h8v5h-8zM241 195h4v4h-4zM225 199h4v4h-4zM212 203h13v5h-13zM200 208h4v4h-4zM172 216h4v5h-4zM140 221h4v4h-4zM148 221h8v4h-8zM128 225h4v4h-4z"/><path fill="#2b3eab" d="M711 57h8v4h-8zM699 61h12v4h-12zM679 65h20v5h-20zM663 70h12v4h-12zM639 74h4v4h-4zM647 74h16v4h-16zM671 74h4v4h-4zM627 78h12v5h-12zM618 83h5v4h-5zM627 83h4v4h-4zM602 87h16v4h-16zM594 91h4v4h-4zM574 95h8v5h-8zM570 100h4v4h-4zM562 104h4v4h-4zM550 108h12v5h-12zM546 113h4v4h-4zM538 117h8v4h-8zM534 121h8v5h-8zM522 126h8v4h-8zM518 130h4v4h-4zM514 134h4v5h-4zM498 139h8v4h-8zM510 139h4v4h-4zM490 143h8v4h-8zM490 147h4v5h-4zM482 152h8v4h-8zM470 156h4v4h-4zM458 160h8v5h-8zM458 165h8v4h-8zM438 169h4v4h-4zM446 169h8v4h-8zM422 173h8v4h-8zM413 177h9v5h-9zM393 182h12v4h-12zM409 182h9v4h-9zM389 186h12v4h-12zM373 190h24v5h-24zM369 195h4v4h-4zM361 199h8v4h-8zM357 203h4v5h-4zM349 208h8v4h-8zM345 212h4v4h-4zM317 216h12v5h-12zM341 216h4v5h-4zM313 221h8v4h-8zM325 221h4v4h-4zM313 225h4v4h-4zM293 229h4v5h-4zM301 229h8v5h-8zM285 234h4v4h-4zM277 238h4v4h-4zM269 242h12v5h-12zM253 247h4v4h-4zM249 251h8v4h-8zM233 255h16v4h-16zM225 259h4v5h-4zM233 259h12v5h-12zM200 264h8v4h-8zM192 268h4v4h-4zM184 272h4v5h-4zM132 277h4v4h-4zM148 277h16v4h-16zM176 277h8v4h-8zM128 281h4v4h-4zM144 281h4v4h-4zM152 281h4v4h-4z"/><path fill="#d1917b" d="M482 61h8v4h-8zM474 65h4v5h-4zM466 70h4v4h-4zM458 74h4v4h-4zM442 83h4v4h-4zM418 100h4v4h-4zM409 104h4v4h-4zM405 108h4v5h-4zM365 134h4v5h-4zM345 139h8v4h-8zM333 143h4v4h-4zM321 147h4v5h-4zM297 160h4v5h-4zM273 173h4v4h-4zM261 177h4v5h-4zM237 186h4v4h-4zM136 212h8v4h-8z"/><path fill="#2c3ca8" d="M711 61h8v4h-8zM699 65h8v5h-8zM675 70h8v4h-8zM687 70h4v4h-4zM695 70h4v4h-4zM643 74h4v4h-4zM663 74h8v4h-8zM675 74h4v4h-4zM639 78h4v5h-4zM651 78h4v5h-4zM659 78h4v5h-4zM667 78h4v5h-4zM623 83h4v4h-4zM631 83h8v4h-8zM618 87h13v4h-13zM598 91h8v4h-8zM614 91h4v4h-4zM582 95h16v5h-16zM574 100h4v4h-4zM566 104h4v4h-4zM562 108h4v5h-4zM550 113h4v4h-4zM546 117h4v4h-4zM542 121h4v5h-4zM530 126h8v4h-8zM522 130h4v4h-4zM518 134h4v5h-4zM506 139h4v4h-4zM514 139h4v4h-4zM498 143h4v4h-4zM490 152h4v4h-4zM474 156h4v4h-4zM466 160h4v5h-4zM454 169h8v4h-8zM430 173h24v4h-24zM422 177h8v5h-8zM418 182h8v4h-8zM401 186h12v4h-12zM397 190h12v5h-12zM373 195h8v4h-8zM393 195h4v4h-4zM369 199h4v4h-4zM361 203h4v5h-4zM357 208h4v4h-4zM349 212h4v4h-4zM321 221h4v4h-4zM329 221h12v4h-12zM321 225h8v4h-8zM297 229h4v5h-4zM309 229h4v5h-4zM289 234h4v4h-4zM305 234h4v4h-4zM281 238h4v4h-4zM257 247h20v4h-20zM249 255h8v4h-8zM229 259h4v5h-4zM245 259h4v5h-4zM208 264h17v4h-17zM241 264h4v4h-4zM196 268h12v4h-12zM164 277h12v4h-12zM184 277h4v4h-4zM132 281h12v4h-12zM148 281h4v4h-4zM156 281h8v4h-8zM128 285h4v5h-4zM148 285h4v5h-4zM156 285h4v5h-4zM116 290h12v4h-12z"/><path fill="#be563e" d="M462 65h8v5h-8zM450 74h4v4h-4zM442 78h4v5h-4zM377 121h4v5h-4zM337 139h4v4h-4zM265 173h4v4h-4zM192 199h4v4h-4zM172 203h8v5h-8z"/><path fill="#2b3ba3" d="M707 65h8v5h-8zM683 70h4v4h-4zM691 70h4v4h-4zM699 70h4v4h-4zM679 74h8v4h-8zM643 78h8v5h-8zM655 78h4v5h-4zM663 78h4v5h-4zM671 78h4v5h-4zM639 83h4v4h-4zM647 83h12v4h-12zM631 87h12v4h-12zM606 91h8v4h-8zM618 91h9v4h-9zM598 95h4v5h-4zM578 100h8v4h-8zM570 104h4v4h-4zM566 108h4v5h-4zM554 113h8v4h-8zM550 117h8v4h-8zM546 121h4v5h-4zM538 126h4v4h-4zM526 130h8v4h-8zM502 143h16v4h-16zM494 147h4v5h-4zM494 152h4v4h-4zM478 156h16v4h-16zM470 160h4v5h-4zM466 165h4v4h-4zM462 169h4v4h-4zM454 173h8v4h-8zM446 177h8v5h-8zM426 182h4v4h-4zM413 186h9v4h-9zM409 190h4v5h-4zM381 195h12v4h-12zM397 195h8v4h-8zM373 199h8v4h-8zM397 199h4v4h-4zM365 203h8v5h-8zM361 208h8v4h-8zM353 212h8v4h-8zM345 216h8v5h-8zM341 221h4v4h-4zM317 225h4v4h-4zM313 229h4v5h-4zM321 229h4v5h-4zM293 234h12v4h-12zM309 234h8v4h-8zM285 238h8v4h-8zM281 242h4v5h-4zM277 247h4v4h-4zM257 251h12v4h-12zM257 255h8v4h-8zM249 259h8v5h-8zM225 264h16v4h-16zM245 264h4v4h-4zM257 264h4v4h-4zM208 268h21v4h-21zM188 272h20v5h-20zM172 281h12v4h-12zM132 285h16v5h-16zM152 285h4v5h-4zM160 285h4v5h-4zM128 290h4v4h-4zM140 290h24v4h-24zM148 294h8v4h-8z"/><path fill="#2a399e" d="M715 65h4v5h-4zM703 70h8v4h-8zM715 70h4v4h-4zM687 74h16v4h-16zM675 78h4v5h-4zM715 78h4v5h-4zM643 83h4v4h-4zM659 83h20v4h-20zM643 87h20v4h-20zM667 87h8v4h-8zM627 91h12v4h-12zM643 91h4v4h-4zM655 91h4v4h-4zM671 91h4v4h-4zM602 95h25v5h-25zM675 95h4v5h-4zM586 100h16v4h-16zM574 104h8v4h-8zM594 104h4v4h-4zM675 104h4v4h-4zM675 108h4v5h-4zM562 113h8v4h-8zM594 113h4v4h-4zM691 113h4v4h-4zM655 117h8v4h-8zM550 121h4v5h-4zM659 121h4v5h-4zM542 126h4v4h-4zM659 126h4v4h-4zM534 130h12v4h-12zM554 130h8v4h-8zM663 130h4v4h-4zM522 134h4v5h-4zM518 139h4v4h-4zM570 139h4v4h-4zM498 147h16v5h-16zM498 152h4v4h-4zM494 156h8v4h-8zM474 160h8v5h-8zM494 160h8v5h-8zM470 165h4v4h-4zM466 169h4v4h-4zM430 177h16v5h-16zM454 177h4v5h-4zM506 177h4v5h-4zM430 182h4v4h-4zM450 182h4v4h-4zM502 182h4v4h-4zM422 186h8v4h-8zM413 190h5v5h-5zM450 190h4v5h-4zM405 195h8v4h-8zM442 195h20v4h-20zM381 199h16v4h-16zM401 199h4v4h-4zM413 199h5v4h-5zM442 199h12v4h-12zM458 199h8v4h-8zM478 199h4v4h-4zM373 203h4v5h-4zM385 203h20v5h-20zM409 203h9v5h-9zM369 208h4v4h-4zM389 208h29v4h-29zM361 212h4v4h-4zM401 212h17v4h-17zM353 216h4v5h-4zM345 221h4v4h-4zM329 225h16v4h-16zM317 229h4v5h-4zM325 229h8v5h-8zM317 234h12v4h-12zM293 238h8v4h-8zM305 238h8v4h-8zM321 238h4v4h-4zM285 242h4v5h-4zM325 242h4v5h-4zM281 247h4v4h-4zM333 247h4v4h-4zM269 251h8v4h-8zM265 255h8v4h-8zM257 259h12v5h-12zM249 264h4v4h-4zM261 264h8v4h-8zM229 268h32v4h-32zM208 272h29v5h-29zM249 272h4v5h-4zM257 272h4v5h-4zM188 277h4v4h-4zM196 277h16v4h-16zM225 277h8v4h-8zM164 281h8v4h-8zM184 281h4v4h-4zM200 281h12v4h-12zM216 281h5v4h-5zM225 281h8v4h-8zM164 285h4v5h-4zM200 285h8v5h-8zM132 290h8v4h-8zM164 290h4v4h-4zM200 290h8v4h-8zM116 294h4v4h-4zM124 294h12v4h-12zM140 294h8v4h-8zM156 294h4v4h-4z"/><path fill="#c87459" d="M458 70h4v4h-4zM438 83h4v4h-4zM393 113h4v4h-4zM381 121h4v5h-4zM361 134h4v5h-4zM329 143h4v4h-4zM317 147h4v5h-4zM309 152h4v4h-4zM285 165h4v4h-4zM277 169h4v4h-4zM269 173h4v4h-4zM196 199h8v4h-8zM180 203h4v5h-4zM152 208h4v4h-4zM132 212h4v4h-4z"/><path fill="#2a389a" d="M711 70h4v4h-4zM703 74h16v4h-16zM679 78h8v5h-8zM703 78h4v5h-4zM711 78h4v5h-4zM679 83h8v4h-8zM707 83h12v4h-12zM663 87h4v4h-4zM675 87h16v4h-16zM703 87h12v4h-12zM639 91h4v4h-4zM647 91h8v4h-8zM659 91h12v4h-12zM675 91h8v4h-8zM691 91h4v4h-4zM711 91h4v4h-4zM627 95h8v5h-8zM667 95h8v5h-8zM715 95h4v5h-4zM602 100h4v4h-4zM610 100h21v4h-21zM671 100h16v4h-16zM691 100h4v4h-4zM582 104h12v4h-12zM598 104h4v4h-4zM610 104h8v4h-8zM671 104h4v4h-4zM679 104h20v4h-20zM570 108h12v5h-12zM594 108h8v5h-8zM623 108h4v5h-4zM659 108h4v5h-4zM671 108h4v5h-4zM679 108h20v5h-20zM570 113h4v4h-4zM578 113h4v4h-4zM590 113h4v4h-4zM598 113h4v4h-4zM618 113h13v4h-13zM647 113h20v4h-20zM683 113h8v4h-8zM695 113h4v4h-4zM715 113h4v4h-4zM558 117h4v4h-4zM618 117h5v4h-5zM651 117h4v4h-4zM663 117h4v4h-4zM691 117h8v4h-8zM554 121h4v5h-4zM610 121h8v5h-8zM655 121h4v5h-4zM663 121h4v5h-4zM546 126h4v4h-4zM554 126h8v4h-8zM610 126h13v4h-13zM643 126h4v4h-4zM655 126h4v4h-4zM663 126h4v4h-4zM550 130h4v4h-4zM570 130h8v4h-8zM606 130h12v4h-12zM643 130h20v4h-20zM667 130h4v4h-4zM526 134h8v5h-8zM546 134h16v5h-16zM566 134h16v5h-16zM602 134h12v5h-12zM618 134h5v5h-5zM663 134h4v5h-4zM546 139h8v4h-8zM562 139h8v4h-8zM574 139h20v4h-20zM602 139h12v4h-12zM518 143h4v4h-4zM546 143h20v4h-20zM570 143h8v4h-8zM586 143h4v4h-4zM514 147h4v5h-4zM546 147h4v5h-4zM554 147h12v5h-12zM570 147h4v5h-4zM582 147h4v5h-4zM651 147h4v5h-4zM506 152h4v4h-4zM514 152h4v4h-4zM562 152h4v4h-4zM586 152h4v4h-4zM639 152h4v4h-4zM502 156h12v4h-12zM570 156h4v4h-4zM643 156h12v4h-12zM482 160h12v5h-12zM502 160h8v5h-8zM474 165h8v4h-8zM490 165h20v4h-20zM470 169h8v4h-8zM490 169h16v4h-16zM618 169h5v4h-5zM462 173h8v4h-8zM482 173h4v4h-4zM490 173h16v4h-16zM510 173h4v4h-4zM542 173h8v4h-8zM458 177h8v5h-8zM486 177h4v5h-4zM498 177h8v5h-8zM542 177h4v5h-4zM554 177h4v5h-4zM562 177h8v5h-8zM434 182h16v4h-16zM454 182h8v4h-8zM498 182h4v4h-4zM506 182h8v4h-8zM554 182h16v4h-16zM438 186h32v4h-32zM494 186h28v4h-28zM566 186h4v4h-4zM418 190h4v5h-4zM434 190h16v5h-16zM454 190h16v5h-16zM474 190h16v5h-16zM502 190h4v5h-4zM514 190h8v5h-8zM413 195h5v4h-5zM430 195h12v4h-12zM462 195h12v4h-12zM478 195h12v4h-12zM405 199h8v4h-8zM434 199h8v4h-8zM454 199h4v4h-4zM466 199h12v4h-12zM482 199h8v4h-8zM377 203h8v5h-8zM405 203h4v5h-4zM418 203h4v5h-4zM434 203h44v5h-44zM486 203h4v5h-4zM373 208h4v4h-4zM385 208h4v4h-4zM418 208h4v4h-4zM450 208h20v4h-20zM365 212h4v4h-4zM385 212h16v4h-16zM462 212h8v4h-8zM357 216h8v5h-8zM397 216h4v5h-4zM405 216h8v5h-8zM466 216h8v5h-8zM349 221h4v4h-4zM357 221h4v4h-4zM385 221h8v4h-8zM397 221h4v4h-4zM458 221h4v4h-4zM470 221h4v4h-4zM482 221h4v4h-4zM510 221h4v4h-4zM385 225h16v4h-16zM482 225h4v4h-4zM510 225h4v4h-4zM333 229h4v5h-4zM385 229h8v5h-8zM450 229h4v5h-4zM365 234h4v4h-4zM377 234h4v4h-4zM301 238h4v4h-4zM313 238h8v4h-8zM325 238h8v4h-8zM365 238h16v4h-16zM289 242h20v5h-20zM313 242h12v5h-12zM329 242h20v5h-20zM361 242h28v5h-28zM285 247h4v4h-4zM293 247h4v4h-4zM325 247h8v4h-8zM337 247h12v4h-12zM365 247h4v4h-4zM373 247h4v4h-4zM277 251h4v4h-4zM325 251h20v4h-20zM273 255h4v4h-4zM269 259h4v5h-4zM253 264h4v4h-4zM269 264h8v4h-8zM281 264h4v4h-4zM261 268h20v4h-20zM237 272h12v5h-12zM253 272h4v5h-4zM261 272h8v5h-8zM281 272h4v5h-4zM333 272h4v5h-4zM192 277h4v4h-4zM221 277h4v4h-4zM233 277h8v4h-8zM253 277h4v4h-4zM273 277h4v4h-4zM329 277h20v4h-20zM188 281h12v4h-12zM212 281h4v4h-4zM221 281h4v4h-4zM233 281h4v4h-4zM289 281h4v4h-4zM333 281h20v4h-20zM168 285h20v5h-20zM208 285h8v5h-8zM221 285h12v5h-12zM289 285h4v5h-4zM208 290h4v4h-4zM216 290h17v4h-17zM289 290h8v4h-8zM120 294h4v4h-4zM136 294h4v4h-4zM160 294h8v4h-8zM172 294h12v4h-12zM200 294h8v4h-8zM212 294h4v4h-4zM221 294h8v4h-8zM233 294h4v4h-4zM241 294h4v4h-4zM289 294h8v4h-8zM128 298h8v5h-8zM140 298h24v5h-24zM172 298h4v5h-4zM233 298h4v5h-4zM136 303h4v4h-4zM144 303h4v4h-4zM200 303h4v4h-4zM140 307h4v4h-4zM164 307h4v4h-4zM176 307h4v4h-4zM132 311h4v5h-4zM144 311h4v5h-4zM160 311h4v5h-4zM172 311h8v5h-8zM148 316h8v4h-8zM176 316h8v4h-8zM152 320h4v4h-4zM176 320h8v4h-8zM184 324h8v5h-8zM156 329h4v4h-4zM188 329h4v4h-4zM152 333h4v4h-4z"/><path fill="#770e27" d="M434 78h4v5h-4zM418 91h4v4h-4zM401 104h4v4h-4zM337 134h4v5h-4zM273 165h4v4h-4zM225 186h4v4h-4zM192 195h4v4h-4zM176 199h4v4h-4zM132 208h4v4h-4z"/><path fill="#293795" d="M687 78h16v5h-16zM707 78h4v5h-4zM687 83h20v4h-20zM691 87h12v4h-12zM715 87h4v4h-4zM683 91h8v4h-8zM695 91h16v4h-16zM715 91h4v4h-4zM635 95h12v5h-12zM651 95h16v5h-16zM679 95h24v5h-24zM707 95h8v5h-8zM606 100h4v4h-4zM631 100h4v4h-4zM651 100h8v4h-8zM663 100h8v4h-8zM687 100h4v4h-4zM695 100h12v4h-12zM711 100h8v4h-8zM602 104h8v4h-8zM618 104h21v4h-21zM663 104h8v4h-8zM699 104h8v4h-8zM711 104h4v4h-4zM582 108h12v5h-12zM602 108h21v5h-21zM627 108h12v5h-12zM651 108h8v5h-8zM663 108h8v5h-8zM699 108h4v5h-4zM711 108h4v5h-4zM574 113h4v4h-4zM582 113h8v4h-8zM602 113h16v4h-16zM631 113h16v4h-16zM667 113h16v4h-16zM699 113h16v4h-16zM562 117h40v4h-40zM606 117h12v4h-12zM623 117h28v4h-28zM667 117h4v4h-4zM683 117h8v4h-8zM699 117h8v4h-8zM558 121h40v5h-40zM606 121h4v5h-4zM618 121h9v5h-9zM635 121h20v5h-20zM667 121h4v5h-4zM687 121h16v5h-16zM550 126h4v4h-4zM562 126h32v4h-32zM598 126h4v4h-4zM606 126h4v4h-4zM623 126h20v4h-20zM647 126h8v4h-8zM667 126h4v4h-4zM695 126h8v4h-8zM546 130h4v4h-4zM562 130h8v4h-8zM578 130h12v4h-12zM594 130h8v4h-8zM618 130h13v4h-13zM635 130h8v4h-8zM671 130h4v4h-4zM699 130h4v4h-4zM534 134h12v5h-12zM562 134h4v5h-4zM582 134h20v5h-20zM614 134h4v5h-4zM623 134h12v5h-12zM643 134h20v5h-20zM667 134h20v5h-20zM699 134h4v5h-4zM522 139h8v4h-8zM542 139h4v4h-4zM554 139h8v4h-8zM594 139h8v4h-8zM614 139h13v4h-13zM655 139h4v4h-4zM663 139h24v4h-24zM691 139h12v4h-12zM534 143h12v4h-12zM566 143h4v4h-4zM578 143h8v4h-8zM590 143h4v4h-4zM598 143h20v4h-20zM635 143h4v4h-4zM651 143h8v4h-8zM671 143h16v4h-16zM518 147h4v5h-4zM534 147h12v5h-12zM550 147h4v5h-4zM566 147h4v5h-4zM574 147h8v5h-8zM586 147h8v5h-8zM623 147h4v5h-4zM635 147h8v5h-8zM647 147h4v5h-4zM502 152h4v4h-4zM510 152h4v4h-4zM518 152h8v4h-8zM530 152h24v4h-24zM558 152h4v4h-4zM566 152h20v4h-20zM590 152h4v4h-4zM631 152h8v4h-8zM643 152h20v4h-20zM514 156h16v4h-16zM538 156h12v4h-12zM558 156h12v4h-12zM582 156h8v4h-8zM614 156h4v4h-4zM635 156h8v4h-8zM655 156h4v4h-4zM510 160h20v5h-20zM534 160h12v5h-12zM566 160h4v5h-4zM614 160h9v5h-9zM639 160h20v5h-20zM691 160h4v5h-4zM486 165h4v4h-4zM510 165h16v4h-16zM530 165h16v4h-16zM598 165h4v4h-4zM606 165h25v4h-25zM651 165h4v4h-4zM478 169h12v4h-12zM506 169h12v4h-12zM538 169h16v4h-16zM566 169h4v4h-4zM598 169h20v4h-20zM623 169h4v4h-4zM470 173h12v4h-12zM486 173h4v4h-4zM506 173h4v4h-4zM514 173h4v4h-4zM526 173h8v4h-8zM538 173h4v4h-4zM550 173h8v4h-8zM566 173h4v4h-4zM590 173h12v4h-12zM618 173h9v4h-9zM651 173h4v4h-4zM466 177h20v5h-20zM490 177h8v5h-8zM510 177h24v5h-24zM546 177h8v5h-8zM558 177h4v5h-4zM570 177h8v5h-8zM590 177h16v5h-16zM651 177h8v5h-8zM462 182h12v4h-12zM478 182h20v4h-20zM514 182h16v4h-16zM538 182h16v4h-16zM570 182h8v4h-8zM623 182h4v4h-4zM430 186h8v4h-8zM470 186h24v4h-24zM522 186h12v4h-12zM542 186h4v4h-4zM554 186h12v4h-12zM570 186h8v4h-8zM623 186h8v4h-8zM422 190h12v5h-12zM470 190h4v5h-4zM490 190h12v5h-12zM506 190h8v5h-8zM522 190h4v5h-4zM538 190h4v5h-4zM562 190h16v5h-16zM635 190h4v5h-4zM418 195h8v4h-8zM474 195h4v4h-4zM490 195h36v4h-36zM570 195h4v4h-4zM418 199h16v4h-16zM490 199h8v4h-8zM502 199h4v4h-4zM518 199h4v4h-4zM558 199h4v4h-4zM422 203h12v5h-12zM478 203h8v5h-8zM490 203h16v5h-16zM558 203h8v5h-8zM586 203h4v5h-4zM598 203h4v5h-4zM377 208h8v4h-8zM422 208h28v4h-28zM470 208h8v4h-8zM482 208h12v4h-12zM498 208h4v4h-4zM562 208h4v4h-4zM590 208h4v4h-4zM598 208h4v4h-4zM369 212h12v4h-12zM418 212h4v4h-4zM430 212h8v4h-8zM442 212h4v4h-4zM450 212h12v4h-12zM470 212h8v4h-8zM502 212h4v4h-4zM594 212h12v4h-12zM365 216h32v5h-32zM401 216h4v5h-4zM413 216h5v5h-5zM438 216h4v5h-4zM446 216h4v5h-4zM454 216h12v5h-12zM474 216h8v5h-8zM486 216h8v5h-8zM502 216h16v5h-16zM594 216h8v5h-8zM353 221h4v4h-4zM361 221h4v4h-4zM369 221h16v4h-16zM393 221h4v4h-4zM401 221h12v4h-12zM430 221h4v4h-4zM442 221h4v4h-4zM450 221h8v4h-8zM462 221h8v4h-8zM474 221h8v4h-8zM486 221h12v4h-12zM506 221h4v4h-4zM514 221h4v4h-4zM554 221h4v4h-4zM598 221h4v4h-4zM345 225h20v4h-20zM369 225h16v4h-16zM401 225h4v4h-4zM442 225h4v4h-4zM450 225h32v4h-32zM486 225h8v4h-8zM502 225h8v4h-8zM514 225h4v4h-4zM522 225h4v4h-4zM538 225h8v4h-8zM550 225h4v4h-4zM558 225h4v4h-4zM337 229h12v5h-12zM353 229h32v5h-32zM393 229h12v5h-12zM413 229h21v5h-21zM446 229h4v5h-4zM482 229h12v5h-12zM502 229h28v5h-28zM554 229h4v5h-4zM329 234h28v4h-28zM361 234h4v4h-4zM369 234h8v4h-8zM381 234h16v4h-16zM409 234h25v4h-25zM446 234h8v4h-8zM478 234h4v4h-4zM486 234h4v4h-4zM510 234h4v4h-4zM518 234h8v4h-8zM550 234h4v4h-4zM333 238h32v4h-32zM381 238h20v4h-20zM413 238h21v4h-21zM446 238h4v4h-4zM478 238h4v4h-4zM309 242h4v5h-4zM349 242h12v5h-12zM389 242h8v5h-8zM422 242h12v5h-12zM462 242h16v5h-16zM289 247h4v4h-4zM297 247h28v4h-28zM349 247h4v4h-4zM357 247h8v4h-8zM369 247h4v4h-4zM377 247h20v4h-20zM426 247h12v4h-12zM281 251h8v4h-8zM301 251h4v4h-4zM317 251h8v4h-8zM345 251h8v4h-8zM365 251h8v4h-8zM381 251h12v4h-12zM430 251h4v4h-4zM478 251h8v4h-8zM277 255h12v4h-12zM305 255h8v4h-8zM321 255h36v4h-36zM365 255h4v4h-4zM389 255h4v4h-4zM426 255h4v4h-4zM450 255h4v4h-4zM273 259h20v5h-20zM305 259h8v5h-8zM329 259h16v5h-16zM349 259h8v5h-8zM365 259h12v5h-12zM418 259h4v5h-4zM277 264h4v4h-4zM285 264h28v4h-28zM333 264h8v4h-8zM353 264h28v4h-28zM385 264h8v4h-8zM281 268h28v4h-28zM325 268h32v4h-32zM377 268h4v4h-4zM389 268h4v4h-4zM409 268h4v4h-4zM269 272h12v5h-12zM285 272h4v5h-4zM293 272h16v5h-16zM325 272h8v5h-8zM337 272h20v5h-20zM361 272h4v5h-4zM212 277h9v4h-9zM241 277h4v4h-4zM249 277h4v4h-4zM257 277h16v4h-16zM277 277h8v4h-8zM297 277h4v4h-4zM325 277h4v4h-4zM349 277h12v4h-12zM365 277h4v4h-4zM237 281h4v4h-4zM261 281h28v4h-28zM293 281h4v4h-4zM329 281h4v4h-4zM361 281h4v4h-4zM188 285h4v5h-4zM196 285h4v5h-4zM216 285h5v5h-5zM233 285h12v5h-12zM277 285h12v5h-12zM293 285h4v5h-4zM325 285h4v5h-4zM333 285h20v5h-20zM389 285h4v5h-4zM430 285h4v5h-4zM168 290h24v4h-24zM196 290h4v4h-4zM212 290h4v4h-4zM233 290h12v4h-12zM281 290h8v4h-8zM297 290h4v4h-4zM325 290h4v4h-4zM426 290h8v4h-8zM168 294h4v4h-4zM184 294h4v4h-4zM196 294h4v4h-4zM208 294h4v4h-4zM216 294h5v4h-5zM229 294h4v4h-4zM237 294h4v4h-4zM245 294h4v4h-4zM281 294h8v4h-8zM297 294h4v4h-4zM116 298h4v5h-4zM124 298h4v5h-4zM136 298h4v5h-4zM164 298h8v5h-8zM176 298h12v5h-12zM196 298h12v5h-12zM221 298h12v5h-12zM237 298h8v5h-8zM128 303h8v4h-8zM140 303h4v4h-4zM148 303h40v4h-40zM204 303h4v4h-4zM229 303h16v4h-16zM124 307h16v4h-16zM144 307h8v4h-8zM156 307h8v4h-8zM168 307h8v4h-8zM180 307h8v4h-8zM192 307h12v4h-12zM241 307h4v4h-4zM261 307h4v4h-4zM293 307h12v4h-12zM120 311h12v5h-12zM136 311h8v5h-8zM148 311h8v5h-8zM164 311h8v5h-8zM180 311h8v5h-8zM261 311h8v5h-8zM297 311h8v5h-8zM321 311h12v5h-12zM124 316h4v4h-4zM132 316h16v4h-16zM156 316h20v4h-20zM184 316h8v4h-8zM301 316h8v4h-8zM325 316h8v4h-8zM128 320h24v4h-24zM156 320h20v4h-20zM184 320h12v4h-12zM200 320h4v4h-4zM305 320h4v4h-4zM132 324h52v5h-52zM192 324h4v5h-4zM132 329h4v4h-4zM148 329h8v4h-8zM160 329h28v4h-28zM192 329h4v4h-4zM148 333h4v4h-4zM156 333h12v4h-12zM180 333h12v4h-12zM293 333h8v4h-8zM152 337h12v5h-12zM188 337h8v5h-8zM265 337h4v5h-4zM297 337h4v5h-4zM148 342h8v4h-8zM180 342h8v4h-8zM136 346h4v4h-4zM136 350h4v4h-4zM132 354h8v5h-8zM200 354h4v5h-4zM188 363h4v4h-4zM116 367h8v5h-8zM116 372h8v4h-8zM116 376h4v4h-4zM116 380h4v5h-4zM116 385h4v4h-4z"/><path fill="#283690" d="M647 95h4v5h-4zM703 95h4v5h-4zM635 100h16v4h-16zM659 100h4v4h-4zM707 100h4v4h-4zM639 104h24v4h-24zM707 104h4v4h-4zM715 104h4v4h-4zM639 108h12v5h-12zM703 108h8v5h-8zM715 108h4v5h-4zM602 117h4v4h-4zM671 117h4v4h-4zM679 117h4v4h-4zM707 117h12v4h-12zM598 121h8v5h-8zM627 121h8v5h-8zM671 121h16v5h-16zM703 121h12v5h-12zM594 126h4v4h-4zM602 126h4v4h-4zM671 126h4v4h-4zM683 126h12v4h-12zM703 126h4v4h-4zM590 130h4v4h-4zM602 130h4v4h-4zM631 130h4v4h-4zM675 130h4v4h-4zM683 130h4v4h-4zM691 130h8v4h-8zM703 130h12v4h-12zM635 134h8v5h-8zM687 134h12v5h-12zM703 134h16v5h-16zM530 139h12v4h-12zM627 139h8v4h-8zM639 139h16v4h-16zM659 139h4v4h-4zM687 139h4v4h-4zM703 139h8v4h-8zM522 143h4v4h-4zM530 143h4v4h-4zM594 143h4v4h-4zM618 143h17v4h-17zM639 143h12v4h-12zM659 143h4v4h-4zM667 143h4v4h-4zM687 143h24v4h-24zM715 143h4v4h-4zM522 147h12v5h-12zM594 147h4v5h-4zM606 147h17v5h-17zM627 147h8v5h-8zM643 147h4v5h-4zM655 147h8v5h-8zM667 147h24v5h-24zM526 152h4v4h-4zM554 152h4v4h-4zM594 152h4v4h-4zM614 152h17v4h-17zM675 152h8v4h-8zM530 156h8v4h-8zM550 156h8v4h-8zM574 156h8v4h-8zM590 156h8v4h-8zM602 156h4v4h-4zM610 156h4v4h-4zM618 156h17v4h-17zM659 156h4v4h-4zM675 156h4v4h-4zM687 156h8v4h-8zM530 160h4v5h-4zM546 160h12v5h-12zM562 160h4v5h-4zM570 160h8v5h-8zM582 160h32v5h-32zM623 160h16v5h-16zM659 160h4v5h-4zM687 160h4v5h-4zM695 160h4v5h-4zM482 165h4v4h-4zM526 165h4v4h-4zM546 165h8v4h-8zM562 165h8v4h-8zM578 165h8v4h-8zM590 165h8v4h-8zM602 165h4v4h-4zM631 165h20v4h-20zM655 165h4v4h-4zM687 165h8v4h-8zM699 165h4v4h-4zM518 169h20v4h-20zM554 169h4v4h-4zM562 169h4v4h-4zM570 169h8v4h-8zM582 169h16v4h-16zM627 169h8v4h-8zM647 169h12v4h-12zM687 169h12v4h-12zM707 169h4v4h-4zM518 173h8v4h-8zM534 173h4v4h-4zM558 173h8v4h-8zM570 173h4v4h-4zM586 173h4v4h-4zM602 173h16v4h-16zM627 173h4v4h-4zM647 173h4v4h-4zM655 173h4v4h-4zM691 173h4v4h-4zM534 177h8v5h-8zM578 177h12v5h-12zM606 177h4v5h-4zM614 177h21v5h-21zM647 177h4v5h-4zM659 177h4v5h-4zM671 177h8v5h-8zM474 182h4v4h-4zM530 182h8v4h-8zM578 182h12v4h-12zM594 182h8v4h-8zM618 182h5v4h-5zM627 182h12v4h-12zM647 182h12v4h-12zM667 182h8v4h-8zM534 186h8v4h-8zM546 186h8v4h-8zM578 186h24v4h-24zM614 186h9v4h-9zM631 186h12v4h-12zM655 186h4v4h-4zM671 186h8v4h-8zM526 190h8v5h-8zM542 190h20v5h-20zM578 190h20v5h-20zM618 190h17v5h-17zM639 190h4v5h-4zM667 190h12v5h-12zM426 195h4v4h-4zM554 195h16v4h-16zM574 195h24v4h-24zM635 195h8v4h-8zM667 195h12v4h-12zM498 199h4v4h-4zM506 199h4v4h-4zM514 199h4v4h-4zM522 199h4v4h-4zM554 199h4v4h-4zM562 199h8v4h-8zM574 199h24v4h-24zM671 199h4v4h-4zM506 203h4v5h-4zM518 203h8v5h-8zM530 203h4v5h-4zM538 203h4v5h-4zM554 203h4v5h-4zM566 203h16v5h-16zM590 203h8v5h-8zM602 203h12v5h-12zM639 203h4v5h-4zM667 203h4v5h-4zM478 208h4v4h-4zM494 208h4v4h-4zM502 208h12v4h-12zM518 208h4v4h-4zM538 208h4v4h-4zM550 208h12v4h-12zM566 208h12v4h-12zM586 208h4v4h-4zM594 208h4v4h-4zM602 208h12v4h-12zM381 212h4v4h-4zM422 212h8v4h-8zM438 212h4v4h-4zM446 212h4v4h-4zM478 212h24v4h-24zM506 212h16v4h-16zM530 212h12v4h-12zM554 212h16v4h-16zM590 212h4v4h-4zM606 212h8v4h-8zM639 212h4v4h-4zM418 216h20v5h-20zM442 216h4v5h-4zM450 216h4v5h-4zM482 216h4v5h-4zM494 216h8v5h-8zM518 216h4v5h-4zM530 216h36v5h-36zM590 216h4v5h-4zM602 216h16v5h-16zM639 216h4v5h-4zM365 221h4v4h-4zM413 221h9v4h-9zM426 221h4v4h-4zM434 221h8v4h-8zM446 221h4v4h-4zM498 221h8v4h-8zM518 221h8v4h-8zM534 221h4v4h-4zM542 221h12v4h-12zM558 221h8v4h-8zM590 221h8v4h-8zM602 221h4v4h-4zM365 225h4v4h-4zM405 225h37v4h-37zM446 225h4v4h-4zM494 225h8v4h-8zM518 225h4v4h-4zM526 225h12v4h-12zM546 225h4v4h-4zM554 225h4v4h-4zM562 225h4v4h-4zM590 225h8v4h-8zM349 229h4v5h-4zM405 229h8v5h-8zM434 229h12v5h-12zM454 229h8v5h-8zM466 229h16v5h-16zM494 229h8v5h-8zM530 229h8v5h-8zM542 229h12v5h-12zM558 229h8v5h-8zM586 229h8v5h-8zM618 229h9v5h-9zM357 234h4v4h-4zM397 234h12v4h-12zM434 234h4v4h-4zM442 234h4v4h-4zM454 234h4v4h-4zM470 234h8v4h-8zM482 234h4v4h-4zM490 234h4v4h-4zM498 234h12v4h-12zM514 234h4v4h-4zM526 234h4v4h-4zM538 234h12v4h-12zM554 234h8v4h-8zM582 234h8v4h-8zM405 238h8v4h-8zM434 238h12v4h-12zM450 238h8v4h-8zM462 238h16v4h-16zM482 238h4v4h-4zM494 238h16v4h-16zM514 238h4v4h-4zM546 238h16v4h-16zM397 242h4v5h-4zM409 242h13v5h-13zM434 242h28v5h-28zM478 242h20v5h-20zM502 242h4v5h-4zM550 242h4v5h-4zM353 247h4v4h-4zM397 247h4v4h-4zM405 247h4v4h-4zM418 247h8v4h-8zM442 247h4v4h-4zM450 247h8v4h-8zM462 247h32v4h-32zM289 251h12v4h-12zM305 251h12v4h-12zM353 251h12v4h-12zM373 251h8v4h-8zM422 251h8v4h-8zM434 251h4v4h-4zM442 251h28v4h-28zM474 251h4v4h-4zM486 251h4v4h-4zM506 251h4v4h-4zM289 255h16v4h-16zM313 255h8v4h-8zM357 255h8v4h-8zM369 255h20v4h-20zM393 255h4v4h-4zM405 255h4v4h-4zM413 255h13v4h-13zM430 255h8v4h-8zM446 255h4v4h-4zM454 255h8v4h-8zM466 255h8v4h-8zM478 255h12v4h-12zM293 259h12v5h-12zM313 259h8v5h-8zM325 259h4v5h-4zM345 259h4v5h-4zM357 259h8v5h-8zM377 259h16v5h-16zM405 259h13v5h-13zM422 259h16v5h-16zM442 259h4v5h-4zM450 259h8v5h-8zM466 259h24v5h-24zM313 264h4v4h-4zM329 264h4v4h-4zM341 264h12v4h-12zM381 264h4v4h-4zM393 264h37v4h-37zM466 264h4v4h-4zM482 264h32v4h-32zM518 264h4v4h-4zM309 268h4v4h-4zM317 268h8v4h-8zM357 268h20v4h-20zM381 268h8v4h-8zM393 268h16v4h-16zM413 268h5v4h-5zM422 268h4v4h-4zM454 268h8v4h-8zM478 268h4v4h-4zM494 268h16v4h-16zM289 272h4v5h-4zM321 272h4v5h-4zM357 272h4v5h-4zM365 272h4v5h-4zM385 272h28v5h-28zM466 272h8v5h-8zM490 272h4v5h-4zM498 272h4v5h-4zM245 277h4v4h-4zM285 277h12v4h-12zM301 277h8v4h-8zM313 277h12v4h-12zM361 277h4v4h-4zM369 277h4v4h-4zM389 277h20v4h-20zM450 277h8v4h-8zM494 277h4v4h-4zM241 281h4v4h-4zM249 281h12v4h-12zM297 281h8v4h-8zM321 281h8v4h-8zM353 281h8v4h-8zM365 281h8v4h-8zM389 281h8v4h-8zM426 281h4v4h-4zM434 281h4v4h-4zM450 281h4v4h-4zM192 285h4v5h-4zM253 285h24v5h-24zM297 285h4v5h-4zM317 285h8v5h-8zM329 285h4v5h-4zM353 285h24v5h-24zM385 285h4v5h-4zM393 285h8v5h-8zM422 285h8v5h-8zM434 285h4v5h-4zM502 285h4v5h-4zM192 290h4v4h-4zM245 290h12v4h-12zM261 290h20v4h-20zM301 290h4v4h-4zM317 290h8v4h-8zM329 290h28v4h-28zM365 290h12v4h-12zM385 290h12v4h-12zM418 290h8v4h-8zM434 290h4v4h-4zM188 294h8v4h-8zM253 294h28v4h-28zM301 294h4v4h-4zM337 294h4v4h-4zM349 294h16v4h-16zM422 294h4v4h-4zM430 294h8v4h-8zM120 298h4v5h-4zM188 298h8v5h-8zM208 298h13v5h-13zM245 298h4v5h-4zM257 298h4v5h-4zM277 298h28v5h-28zM309 298h4v5h-4zM317 298h4v5h-4zM329 298h8v5h-8zM357 298h4v5h-4zM120 303h8v4h-8zM188 303h12v4h-12zM208 303h4v4h-4zM225 303h4v4h-4zM245 303h4v4h-4zM257 303h8v4h-8zM277 303h40v4h-40zM325 303h4v4h-4zM333 303h8v4h-8zM353 303h4v4h-4zM116 307h8v4h-8zM152 307h4v4h-4zM188 307h4v4h-4zM204 307h12v4h-12zM221 307h20v4h-20zM245 307h4v4h-4zM253 307h8v4h-8zM265 307h4v4h-4zM273 307h20v4h-20zM305 307h8v4h-8zM321 307h20v4h-20zM116 311h4v5h-4zM156 311h4v5h-4zM188 311h28v5h-28zM225 311h24v5h-24zM257 311h4v5h-4zM269 311h28v5h-28zM305 311h4v5h-4zM313 311h8v5h-8zM333 311h8v5h-8zM116 316h8v4h-8zM128 316h4v4h-4zM192 316h8v4h-8zM204 316h4v4h-4zM212 316h4v4h-4zM229 316h12v4h-12zM245 316h4v4h-4zM257 316h16v4h-16zM277 316h8v4h-8zM297 316h4v4h-4zM309 316h16v4h-16zM333 316h4v4h-4zM116 320h4v4h-4zM124 320h4v4h-4zM196 320h4v4h-4zM204 320h8v4h-8zM261 320h20v4h-20zM301 320h4v4h-4zM321 320h16v4h-16zM124 324h8v5h-8zM196 324h16v5h-16zM269 324h4v5h-4zM301 324h8v5h-8zM401 324h4v5h-4zM128 329h4v4h-4zM136 329h12v4h-12zM196 329h16v4h-16zM216 329h9v4h-9zM237 329h4v4h-4zM265 329h16v4h-16zM301 329h4v4h-4zM124 333h16v4h-16zM168 333h4v4h-4zM176 333h4v4h-4zM192 333h33v4h-33zM229 333h12v4h-12zM257 333h24v4h-24zM289 333h4v4h-4zM301 333h4v4h-4zM116 337h4v5h-4zM124 337h4v5h-4zM140 337h12v5h-12zM164 337h8v5h-8zM176 337h12v5h-12zM196 337h20v5h-20zM221 337h4v5h-4zM233 337h4v5h-4zM261 337h4v5h-4zM273 337h8v5h-8zM293 337h4v5h-4zM301 337h4v5h-4zM116 342h12v4h-12zM136 342h12v4h-12zM156 342h8v4h-8zM176 342h4v4h-4zM188 342h16v4h-16zM208 342h13v4h-13zM261 342h8v4h-8zM301 342h4v4h-4zM120 346h4v4h-4zM140 346h24v4h-24zM180 346h16v4h-16zM200 346h12v4h-12zM225 346h8v4h-8zM265 346h4v4h-4zM305 346h4v4h-4zM128 350h8v4h-8zM140 350h8v4h-8zM156 350h4v4h-4zM180 350h8v4h-8zM192 350h16v4h-16zM221 350h8v4h-8zM309 350h4v4h-4zM124 354h8v5h-8zM140 354h4v5h-4zM180 354h8v5h-8zM196 354h4v5h-4zM204 354h4v5h-4zM120 359h24v4h-24zM180 359h20v4h-20zM204 359h4v4h-4zM212 359h4v4h-4zM116 363h8v4h-8zM132 363h4v4h-4zM184 363h4v4h-4zM192 363h4v4h-4zM204 363h4v4h-4zM253 363h4v4h-4zM184 367h12v5h-12zM200 367h4v5h-4zM225 367h4v5h-4zM124 372h4v4h-4zM188 372h4v4h-4zM120 376h12v4h-12zM120 380h16v5h-16zM120 385h8v4h-8zM216 385h5v4h-5zM116 389h12v4h-12z"/><path fill="#27348b" d="M675 117h4v4h-4zM715 121h4v5h-4zM675 126h8v4h-8zM707 126h12v4h-12zM679 130h4v4h-4zM687 130h4v4h-4zM715 130h4v4h-4zM635 139h4v4h-4zM711 139h8v4h-8zM526 143h4v4h-4zM663 143h4v4h-4zM711 143h4v4h-4zM598 147h8v5h-8zM663 147h4v5h-4zM691 147h28v5h-28zM598 152h16v4h-16zM663 152h12v4h-12zM683 152h16v4h-16zM707 152h4v4h-4zM715 152h4v4h-4zM598 156h4v4h-4zM606 156h4v4h-4zM663 156h12v4h-12zM679 156h8v4h-8zM695 156h4v4h-4zM707 156h12v4h-12zM558 160h4v5h-4zM578 160h4v5h-4zM667 160h20v5h-20zM703 160h16v5h-16zM554 165h8v4h-8zM570 165h8v4h-8zM586 165h4v4h-4zM659 165h4v4h-4zM671 165h16v4h-16zM695 165h4v4h-4zM703 165h8v4h-8zM715 165h4v4h-4zM558 169h4v4h-4zM578 169h4v4h-4zM635 169h12v4h-12zM659 169h8v4h-8zM671 169h12v4h-12zM699 169h8v4h-8zM711 169h4v4h-4zM574 173h12v4h-12zM631 173h4v4h-4zM659 173h4v4h-4zM671 173h8v4h-8zM683 173h8v4h-8zM695 173h12v4h-12zM610 177h4v5h-4zM635 177h12v5h-12zM663 177h8v5h-8zM679 177h4v5h-4zM691 177h8v5h-8zM590 182h4v4h-4zM602 182h16v4h-16zM643 182h4v4h-4zM659 182h8v4h-8zM675 182h8v4h-8zM610 186h4v4h-4zM643 186h12v4h-12zM659 186h4v4h-4zM667 186h4v4h-4zM679 186h4v4h-4zM711 186h4v4h-4zM534 190h4v5h-4zM598 190h4v5h-4zM606 190h4v5h-4zM614 190h4v5h-4zM643 190h24v5h-24zM679 190h8v5h-8zM715 190h4v5h-4zM526 195h28v4h-28zM598 195h8v4h-8zM610 195h25v4h-25zM643 195h4v4h-4zM651 195h4v4h-4zM659 195h8v4h-8zM679 195h8v4h-8zM715 195h4v4h-4zM510 199h4v4h-4zM526 199h28v4h-28zM570 199h4v4h-4zM598 199h4v4h-4zM606 199h12v4h-12zM631 199h16v4h-16zM663 199h8v4h-8zM675 199h12v4h-12zM711 199h8v4h-8zM510 203h8v5h-8zM526 203h4v5h-4zM534 203h4v5h-4zM542 203h12v5h-12zM582 203h4v5h-4zM614 203h4v5h-4zM635 203h4v5h-4zM643 203h12v5h-12zM663 203h4v5h-4zM671 203h12v5h-12zM711 203h8v5h-8zM514 208h4v4h-4zM522 208h16v4h-16zM542 208h4v4h-4zM578 208h8v4h-8zM614 208h9v4h-9zM635 208h16v4h-16zM671 208h8v4h-8zM683 208h4v4h-4zM711 208h8v4h-8zM522 212h8v4h-8zM542 212h12v4h-12zM570 212h8v4h-8zM582 212h4v4h-4zM614 212h9v4h-9zM635 212h4v4h-4zM643 212h4v4h-4zM522 216h8v5h-8zM566 216h8v5h-8zM578 216h4v5h-4zM586 216h4v5h-4zM618 216h5v5h-5zM635 216h4v5h-4zM643 216h12v5h-12zM422 221h4v4h-4zM526 221h8v4h-8zM538 221h4v4h-4zM566 221h8v4h-8zM586 221h4v4h-4zM606 221h12v4h-12zM623 221h4v4h-4zM635 221h12v4h-12zM651 221h4v4h-4zM566 225h8v4h-8zM582 225h8v4h-8zM598 225h29v4h-29zM647 225h8v4h-8zM691 225h8v4h-8zM462 229h4v5h-4zM538 229h4v5h-4zM566 229h4v5h-4zM574 229h12v5h-12zM598 229h8v5h-8zM610 229h8v5h-8zM627 229h4v5h-4zM655 229h4v5h-4zM695 229h4v5h-4zM438 234h4v4h-4zM458 234h12v4h-12zM494 234h4v4h-4zM530 234h8v4h-8zM562 234h4v4h-4zM574 234h8v4h-8zM590 234h8v4h-8zM606 234h4v4h-4zM618 234h9v4h-9zM401 238h4v4h-4zM458 238h4v4h-4zM486 238h8v4h-8zM510 238h4v4h-4zM518 238h28v4h-28zM562 238h24v4h-24zM590 238h4v4h-4zM618 238h5v4h-5zM401 242h8v5h-8zM498 242h4v5h-4zM506 242h12v5h-12zM530 242h4v5h-4zM538 242h12v5h-12zM554 242h28v5h-28zM401 247h4v4h-4zM409 247h9v4h-9zM438 247h4v4h-4zM446 247h4v4h-4zM458 247h4v4h-4zM494 247h4v4h-4zM502 247h12v4h-12zM534 247h20v4h-20zM562 247h12v4h-12zM393 251h29v4h-29zM438 251h4v4h-4zM470 251h4v4h-4zM542 251h4v4h-4zM566 251h4v4h-4zM397 255h8v4h-8zM409 255h4v4h-4zM438 255h8v4h-8zM462 255h4v4h-4zM474 255h4v4h-4zM490 255h8v4h-8zM502 255h12v4h-12zM542 255h8v4h-8zM566 255h4v4h-4zM631 255h4v4h-4zM321 259h4v5h-4zM393 259h12v5h-12zM438 259h4v5h-4zM446 259h4v5h-4zM458 259h8v5h-8zM490 259h4v5h-4zM498 259h20v5h-20zM542 259h8v5h-8zM639 259h4v5h-4zM317 264h12v4h-12zM430 264h8v4h-8zM442 264h4v4h-4zM450 264h16v4h-16zM470 264h12v4h-12zM514 264h4v4h-4zM538 264h4v4h-4zM602 264h4v4h-4zM313 268h4v4h-4zM418 268h4v4h-4zM426 268h4v4h-4zM442 268h12v4h-12zM462 268h16v4h-16zM482 268h12v4h-12zM510 268h12v4h-12zM647 268h4v4h-4zM309 272h12v5h-12zM369 272h16v5h-16zM418 272h8v5h-8zM446 272h20v5h-20zM474 272h4v5h-4zM486 272h4v5h-4zM494 272h4v5h-4zM502 272h12v5h-12zM518 272h4v5h-4zM639 272h4v5h-4zM309 277h4v4h-4zM377 277h12v4h-12zM409 277h4v4h-4zM422 277h4v4h-4zM430 277h4v4h-4zM458 277h12v4h-12zM498 277h12v4h-12zM245 281h4v4h-4zM305 281h16v4h-16zM373 281h16v4h-16zM397 281h29v4h-29zM430 281h4v4h-4zM438 281h4v4h-4zM454 281h8v4h-8zM502 281h8v4h-8zM643 281h8v4h-8zM245 285h8v5h-8zM301 285h8v5h-8zM313 285h4v5h-4zM377 285h8v5h-8zM401 285h4v5h-4zM409 285h13v5h-13zM438 285h4v5h-4zM446 285h12v5h-12zM466 285h4v5h-4zM506 285h4v5h-4zM546 285h8v5h-8zM257 290h4v4h-4zM305 290h8v4h-8zM357 290h8v4h-8zM377 290h8v4h-8zM397 290h8v4h-8zM409 290h9v4h-9zM438 290h32v4h-32zM498 290h12v4h-12zM550 290h8v4h-8zM249 294h4v4h-4zM305 294h32v4h-32zM341 294h8v4h-8zM365 294h12v4h-12zM381 294h24v4h-24zM413 294h9v4h-9zM426 294h4v4h-4zM438 294h4v4h-4zM450 294h20v4h-20zM490 294h4v4h-4zM510 294h4v4h-4zM566 294h8v4h-8zM249 298h8v5h-8zM261 298h16v5h-16zM305 298h4v5h-4zM313 298h4v5h-4zM325 298h4v5h-4zM337 298h4v5h-4zM349 298h8v5h-8zM361 298h4v5h-4zM393 298h8v5h-8zM405 298h8v5h-8zM422 298h8v5h-8zM446 298h20v5h-20zM478 298h4v5h-4zM486 298h4v5h-4zM116 303h4v4h-4zM212 303h13v4h-13zM249 303h8v4h-8zM265 303h12v4h-12zM317 303h8v4h-8zM329 303h4v4h-4zM341 303h12v4h-12zM357 303h4v4h-4zM413 303h9v4h-9zM426 303h4v4h-4zM482 303h4v4h-4zM216 307h5v4h-5zM249 307h4v4h-4zM269 307h4v4h-4zM313 307h8v4h-8zM341 307h20v4h-20zM373 307h4v4h-4zM422 307h8v4h-8zM478 307h16v4h-16zM216 311h9v5h-9zM249 311h8v5h-8zM309 311h4v5h-4zM341 311h4v5h-4zM353 311h8v5h-8zM369 311h8v5h-8zM418 311h16v5h-16zM482 311h12v5h-12zM200 316h4v4h-4zM208 316h4v4h-4zM216 316h13v4h-13zM241 316h4v4h-4zM249 316h4v4h-4zM273 316h4v4h-4zM285 316h4v4h-4zM293 316h4v4h-4zM337 316h8v4h-8zM369 316h4v4h-4zM389 316h4v4h-4zM397 316h41v4h-41zM482 316h8v4h-8zM120 320h4v4h-4zM212 320h9v4h-9zM233 320h8v4h-8zM245 320h16v4h-16zM281 320h8v4h-8zM297 320h4v4h-4zM309 320h12v4h-12zM337 320h4v4h-4zM369 320h4v4h-4zM389 320h33v4h-33zM434 320h8v4h-8zM116 324h8v5h-8zM212 324h13v5h-13zM233 324h8v5h-8zM253 324h16v5h-16zM273 324h28v5h-28zM309 324h28v5h-28zM349 324h4v5h-4zM369 324h8v5h-8zM385 324h16v5h-16zM405 324h21v5h-21zM434 324h8v5h-8zM116 329h12v4h-12zM212 329h4v4h-4zM225 329h12v4h-12zM245 329h20v4h-20zM281 329h20v4h-20zM305 329h8v4h-8zM325 329h12v4h-12zM349 329h4v4h-4zM357 329h4v4h-4zM365 329h12v4h-12zM413 329h9v4h-9zM116 333h4v4h-4zM140 333h8v4h-8zM172 333h4v4h-4zM225 333h4v4h-4zM241 333h16v4h-16zM281 333h8v4h-8zM305 333h4v4h-4zM313 333h8v4h-8zM329 333h4v4h-4zM345 333h12v4h-12zM361 333h16v4h-16zM413 333h9v4h-9zM120 337h4v5h-4zM128 337h12v5h-12zM172 337h4v5h-4zM216 337h5v5h-5zM225 337h8v5h-8zM237 337h24v5h-24zM269 337h4v5h-4zM281 337h12v5h-12zM305 337h12v5h-12zM345 337h4v5h-4zM357 337h16v5h-16zM401 337h4v5h-4zM128 342h8v4h-8zM164 342h4v4h-4zM204 342h4v4h-4zM221 342h40v4h-40zM269 342h32v4h-32zM305 342h12v4h-12zM357 342h12v4h-12zM450 342h4v4h-4zM116 346h4v4h-4zM124 346h12v4h-12zM172 346h8v4h-8zM196 346h4v4h-4zM212 346h13v4h-13zM241 346h12v4h-12zM257 346h8v4h-8zM273 346h32v4h-32zM309 346h8v4h-8zM116 350h12v4h-12zM148 350h8v4h-8zM160 350h8v4h-8zM172 350h8v4h-8zM188 350h4v4h-4zM208 350h13v4h-13zM229 350h4v4h-4zM237 350h12v4h-12zM261 350h8v4h-8zM273 350h16v4h-16zM297 350h12v4h-12zM313 350h4v4h-4zM333 350h4v4h-4zM341 350h4v4h-4zM120 354h4v5h-4zM144 354h12v5h-12zM160 354h8v5h-8zM188 354h8v5h-8zM208 354h8v5h-8zM221 354h16v5h-16zM241 354h4v5h-4zM253 354h4v5h-4zM269 354h4v5h-4zM277 354h16v5h-16zM305 354h4v5h-4zM333 354h8v5h-8zM116 359h4v4h-4zM144 359h8v4h-8zM176 359h4v4h-4zM200 359h4v4h-4zM208 359h4v4h-4zM216 359h21v4h-21zM253 359h4v4h-4zM273 359h4v4h-4zM281 359h12v4h-12zM124 363h8v4h-8zM136 363h12v4h-12zM152 363h4v4h-4zM176 363h8v4h-8zM196 363h8v4h-8zM208 363h21v4h-21zM233 363h4v4h-4zM249 363h4v4h-4zM257 363h4v4h-4zM269 363h4v4h-4zM285 363h12v4h-12zM301 363h4v4h-4zM124 367h36v5h-36zM164 367h20v5h-20zM196 367h4v5h-4zM204 367h21v5h-21zM249 367h12v5h-12zM269 367h4v5h-4zM281 367h8v5h-8zM293 367h4v5h-4zM325 367h4v5h-4zM128 372h28v4h-28zM164 372h24v4h-24zM192 372h37v4h-37zM281 372h12v4h-12zM132 376h4v4h-4zM148 376h8v4h-8zM160 376h16v4h-16zM188 376h33v4h-33zM285 376h12v4h-12zM164 380h4v5h-4zM192 380h4v5h-4zM200 380h4v5h-4zM208 380h8v5h-8zM128 385h8v4h-8zM208 385h4v4h-4zM221 385h4v4h-4zM289 385h4v4h-4zM337 385h4v4h-4zM128 389h8v4h-8zM148 389h4v4h-4zM156 389h4v4h-4zM212 389h9v4h-9zM241 389h4v4h-4zM116 393h12v5h-12zM140 393h20v5h-20zM128 398h4v4h-4zM136 398h4v4h-4zM144 398h12v4h-12zM132 402h28v4h-28zM188 402h4v4h-4zM132 406h16v5h-16zM152 406h4v5h-4zM188 406h4v5h-4zM132 428h4v4h-4zM116 432h4v4h-4zM132 432h4v4h-4zM136 436h4v5h-4zM144 441h4v4h-4z"/><path fill="#c26045" d="M373 126h4v4h-4zM293 160h4v5h-4zM245 182h4v4h-4zM233 186h4v4h-4zM148 208h4v4h-4z"/><path fill="#263386" d="M699 152h8v4h-8zM711 152h4v4h-4zM699 156h8v4h-8zM663 160h4v5h-4zM699 160h4v5h-4zM663 165h8v4h-8zM711 165h4v4h-4zM667 169h4v4h-4zM683 169h4v4h-4zM715 169h4v4h-4zM635 173h12v4h-12zM663 173h8v4h-8zM679 173h4v4h-4zM707 173h8v4h-8zM683 177h8v5h-8zM699 177h16v5h-16zM639 182h4v4h-4zM683 182h12v4h-12zM699 182h12v4h-12zM715 182h4v4h-4zM602 186h8v4h-8zM663 186h4v4h-4zM683 186h12v4h-12zM707 186h4v4h-4zM715 186h4v4h-4zM602 190h4v5h-4zM610 190h4v5h-4zM687 190h8v5h-8zM707 190h8v5h-8zM606 195h4v4h-4zM647 195h4v4h-4zM655 195h4v4h-4zM687 195h8v4h-8zM711 195h4v4h-4zM602 199h4v4h-4zM618 199h9v4h-9zM647 199h16v4h-16zM687 199h4v4h-4zM707 199h4v4h-4zM618 203h17v5h-17zM655 203h8v5h-8zM683 203h8v5h-8zM695 203h4v5h-4zM707 203h4v5h-4zM546 208h4v4h-4zM623 208h12v4h-12zM651 208h4v4h-4zM659 208h12v4h-12zM679 208h4v4h-4zM707 208h4v4h-4zM578 212h4v4h-4zM586 212h4v4h-4zM623 212h4v4h-4zM631 212h4v4h-4zM647 212h8v4h-8zM667 212h28v4h-28zM711 212h8v4h-8zM574 216h4v5h-4zM582 216h4v5h-4zM623 216h12v5h-12zM659 216h4v5h-4zM675 216h20v5h-20zM574 221h12v4h-12zM618 221h5v4h-5zM627 221h8v4h-8zM647 221h4v4h-4zM655 221h8v4h-8zM675 221h4v4h-4zM687 221h4v4h-4zM695 221h4v4h-4zM707 221h4v4h-4zM574 225h8v4h-8zM627 225h16v4h-16zM655 225h12v4h-12zM675 225h4v4h-4zM683 225h8v4h-8zM699 225h4v4h-4zM570 229h4v5h-4zM594 229h4v5h-4zM606 229h4v5h-4zM631 229h4v5h-4zM647 229h8v5h-8zM671 229h4v5h-4zM691 229h4v5h-4zM699 229h4v5h-4zM566 234h8v4h-8zM598 234h8v4h-8zM610 234h8v4h-8zM627 234h8v4h-8zM647 234h12v4h-12zM667 234h8v4h-8zM695 234h8v4h-8zM586 238h4v4h-4zM594 238h24v4h-24zM623 238h8v4h-8zM659 238h16v4h-16zM699 238h4v4h-4zM518 242h12v5h-12zM534 242h4v5h-4zM582 242h4v5h-4zM590 242h4v5h-4zM598 242h4v5h-4zM606 242h4v5h-4zM618 242h21v5h-21zM643 242h4v5h-4zM655 242h4v5h-4zM667 242h12v5h-12zM691 242h12v5h-12zM498 247h4v4h-4zM514 247h8v4h-8zM526 247h8v4h-8zM554 247h8v4h-8zM574 247h4v4h-4zM594 247h12v4h-12zM627 247h8v4h-8zM647 247h4v4h-4zM655 247h32v4h-32zM691 247h12v4h-12zM490 251h16v4h-16zM510 251h12v4h-12zM530 251h12v4h-12zM546 251h20v4h-20zM570 251h4v4h-4zM590 251h4v4h-4zM602 251h4v4h-4zM631 251h16v4h-16zM675 251h12v4h-12zM498 255h4v4h-4zM514 255h8v4h-8zM538 255h4v4h-4zM550 255h4v4h-4zM570 255h8v4h-8zM590 255h4v4h-4zM602 255h4v4h-4zM610 255h4v4h-4zM627 255h4v4h-4zM635 255h8v4h-8zM675 255h12v4h-12zM715 255h4v4h-4zM494 259h4v5h-4zM518 259h8v5h-8zM538 259h4v5h-4zM550 259h12v5h-12zM570 259h8v5h-8zM602 259h8v5h-8zM627 259h8v5h-8zM643 259h4v5h-4zM438 264h4v4h-4zM446 264h4v4h-4zM522 264h4v4h-4zM534 264h4v4h-4zM542 264h16v4h-16zM566 264h20v4h-20zM606 264h4v4h-4zM627 264h36v4h-36zM430 268h12v4h-12zM522 268h4v4h-4zM538 268h12v4h-12zM562 268h4v4h-4zM570 268h4v4h-4zM578 268h4v4h-4zM602 268h8v4h-8zM639 268h8v4h-8zM651 268h12v4h-12zM675 268h4v4h-4zM413 272h5v5h-5zM426 272h20v5h-20zM478 272h8v5h-8zM514 272h4v5h-4zM522 272h4v5h-4zM566 272h4v5h-4zM574 272h4v5h-4zM614 272h4v5h-4zM643 272h16v5h-16zM373 277h4v4h-4zM413 277h9v4h-9zM426 277h4v4h-4zM434 277h16v4h-16zM470 277h24v4h-24zM510 277h16v4h-16zM542 277h8v4h-8zM566 277h4v4h-4zM635 277h24v4h-24zM711 277h4v4h-4zM442 281h8v4h-8zM462 281h20v4h-20zM486 281h16v4h-16zM510 281h4v4h-4zM522 281h4v4h-4zM542 281h16v4h-16zM562 281h4v4h-4zM639 281h4v4h-4zM309 285h4v5h-4zM405 285h4v5h-4zM442 285h4v5h-4zM458 285h8v5h-8zM470 285h4v5h-4zM486 285h16v5h-16zM510 285h4v5h-4zM538 285h8v5h-8zM554 285h12v5h-12zM639 285h8v5h-8zM313 290h4v4h-4zM405 290h4v4h-4zM470 290h8v4h-8zM486 290h4v4h-4zM494 290h4v4h-4zM510 290h4v4h-4zM526 290h8v4h-8zM538 290h12v4h-12zM558 290h24v4h-24zM598 290h8v4h-8zM377 294h4v4h-4zM405 294h8v4h-8zM442 294h8v4h-8zM470 294h20v4h-20zM494 294h16v4h-16zM514 294h8v4h-8zM526 294h12v4h-12zM546 294h8v4h-8zM558 294h8v4h-8zM578 294h4v4h-4zM598 294h4v4h-4zM321 298h4v5h-4zM341 298h8v5h-8zM365 298h20v5h-20zM389 298h4v5h-4zM401 298h4v5h-4zM413 298h9v5h-9zM430 298h16v5h-16zM466 298h12v5h-12zM482 298h4v5h-4zM490 298h8v5h-8zM506 298h12v5h-12zM530 298h4v5h-4zM546 298h4v5h-4zM562 298h4v5h-4zM361 303h4v4h-4zM369 303h44v4h-44zM422 303h4v4h-4zM430 303h4v4h-4zM438 303h12v4h-12zM454 303h28v4h-28zM486 303h12v4h-12zM510 303h4v4h-4zM530 303h8v4h-8zM618 303h5v4h-5zM361 307h12v4h-12zM377 307h4v4h-4zM389 307h12v4h-12zM409 307h13v4h-13zM430 307h20v4h-20zM454 307h20v4h-20zM530 307h4v4h-4zM546 307h4v4h-4zM590 307h4v4h-4zM349 311h4v5h-4zM361 311h8v5h-8zM377 311h8v5h-8zM389 311h8v5h-8zM405 311h13v5h-13zM434 311h8v5h-8zM458 311h8v5h-8zM478 311h4v5h-4zM542 311h4v5h-4zM586 311h4v5h-4zM253 316h4v4h-4zM289 316h4v4h-4zM345 316h20v4h-20zM373 316h12v4h-12zM393 316h4v4h-4zM438 316h8v4h-8zM462 316h4v4h-4zM470 316h4v4h-4zM478 316h4v4h-4zM490 316h4v4h-4zM542 316h4v4h-4zM221 320h12v4h-12zM241 320h4v4h-4zM289 320h8v4h-8zM341 320h28v4h-28zM373 320h16v4h-16zM422 320h12v4h-12zM442 320h4v4h-4zM482 320h12v4h-12zM542 320h4v4h-4zM225 324h8v5h-8zM241 324h12v5h-12zM337 324h12v5h-12zM353 324h16v5h-16zM377 324h8v5h-8zM426 324h8v5h-8zM442 324h8v5h-8zM241 329h4v4h-4zM313 329h12v4h-12zM337 329h12v4h-12zM353 329h4v4h-4zM361 329h4v4h-4zM377 329h36v4h-36zM422 329h24v4h-24zM120 333h4v4h-4zM309 333h4v4h-4zM321 333h8v4h-8zM333 333h12v4h-12zM357 333h4v4h-4zM377 333h36v4h-36zM422 333h4v4h-4zM446 333h8v4h-8zM458 333h8v4h-8zM317 337h8v5h-8zM329 337h4v5h-4zM337 337h8v5h-8zM349 337h8v5h-8zM373 337h8v5h-8zM389 337h12v5h-12zM413 337h13v5h-13zM446 337h12v5h-12zM502 337h8v5h-8zM168 342h8v4h-8zM317 342h20v4h-20zM349 342h8v4h-8zM369 342h4v4h-4zM393 342h12v4h-12zM413 342h9v4h-9zM446 342h4v4h-4zM454 342h4v4h-4zM506 342h12v4h-12zM164 346h8v4h-8zM233 346h8v4h-8zM253 346h4v4h-4zM269 346h4v4h-4zM317 346h20v4h-20zM345 346h4v4h-4zM353 346h4v4h-4zM361 346h12v4h-12zM385 346h24v4h-24zM450 346h4v4h-4zM506 346h16v4h-16zM168 350h4v4h-4zM233 350h4v4h-4zM249 350h12v4h-12zM269 350h4v4h-4zM289 350h8v4h-8zM317 350h16v4h-16zM337 350h4v4h-4zM345 350h4v4h-4zM361 350h8v4h-8zM373 350h28v4h-28zM506 350h4v4h-4zM522 350h4v4h-4zM116 354h4v5h-4zM156 354h4v5h-4zM168 354h12v5h-12zM216 354h5v5h-5zM237 354h4v5h-4zM245 354h8v5h-8zM257 354h12v5h-12zM273 354h4v5h-4zM293 354h12v5h-12zM309 354h24v5h-24zM341 354h12v5h-12zM361 354h20v5h-20zM385 354h20v5h-20zM506 354h8v5h-8zM152 359h20v4h-20zM237 359h16v4h-16zM257 359h16v4h-16zM277 359h4v4h-4zM293 359h16v4h-16zM325 359h28v4h-28zM365 359h4v4h-4zM381 359h12v4h-12zM397 359h4v4h-4zM426 359h4v4h-4zM148 363h4v4h-4zM156 363h20v4h-20zM229 363h4v4h-4zM237 363h12v4h-12zM261 363h8v4h-8zM273 363h12v4h-12zM297 363h4v4h-4zM305 363h4v4h-4zM325 363h8v4h-8zM353 363h16v4h-16zM389 363h4v4h-4zM397 363h4v4h-4zM426 363h4v4h-4zM160 367h4v5h-4zM229 367h20v5h-20zM261 367h8v5h-8zM273 367h8v5h-8zM289 367h4v5h-4zM297 367h8v5h-8zM321 367h4v5h-4zM329 367h4v5h-4zM357 367h4v5h-4zM365 367h4v5h-4zM434 367h4v5h-4zM156 372h8v4h-8zM229 372h28v4h-28zM261 372h20v4h-20zM293 372h16v4h-16zM313 372h4v4h-4zM321 372h20v4h-20zM373 372h12v4h-12zM389 372h4v4h-4zM136 376h12v4h-12zM156 376h4v4h-4zM176 376h12v4h-12zM221 376h12v4h-12zM241 376h12v4h-12zM269 376h16v4h-16zM297 376h16v4h-16zM317 376h24v4h-24zM377 376h4v4h-4zM136 380h28v5h-28zM168 380h24v5h-24zM196 380h4v5h-4zM204 380h4v5h-4zM216 380h21v5h-21zM241 380h8v5h-8zM289 380h16v5h-16zM329 380h16v5h-16zM136 385h8v4h-8zM148 385h24v4h-24zM176 385h32v4h-32zM212 385h4v4h-4zM225 385h4v4h-4zM233 385h20v4h-20zM273 385h4v4h-4zM293 385h12v4h-12zM341 385h4v4h-4zM369 385h4v4h-4zM136 389h12v4h-12zM152 389h4v4h-4zM160 389h20v4h-20zM184 389h4v4h-4zM200 389h12v4h-12zM221 389h4v4h-4zM245 389h8v4h-8zM293 389h4v4h-4zM337 389h8v4h-8zM369 389h4v4h-4zM128 393h12v5h-12zM160 393h24v5h-24zM208 393h4v5h-4zM216 393h9v5h-9zM241 393h16v5h-16zM341 393h4v5h-4zM377 393h4v5h-4zM120 398h8v4h-8zM132 398h4v4h-4zM140 398h4v4h-4zM156 398h8v4h-8zM168 398h28v4h-28zM233 398h4v4h-4zM241 398h12v4h-12zM128 402h4v4h-4zM160 402h8v4h-8zM180 402h8v4h-8zM245 402h4v4h-4zM148 406h4v5h-4zM156 406h16v5h-16zM180 406h8v5h-8zM192 406h4v5h-4zM265 406h12v5h-12zM132 411h16v4h-16zM164 411h12v4h-12zM180 411h4v4h-4zM188 411h8v4h-8zM200 411h16v4h-16zM257 411h24v4h-24zM132 415h4v4h-4zM168 415h4v4h-4zM180 415h4v4h-4zM188 415h28v4h-28zM132 419h8v5h-8zM156 419h4v5h-4zM188 419h4v5h-4zM333 419h4v5h-4zM116 424h8v4h-8zM132 424h8v4h-8zM156 424h4v4h-4zM164 424h4v4h-4zM192 424h8v4h-8zM229 424h4v4h-4zM116 428h8v4h-8zM128 428h4v4h-4zM136 428h4v4h-4zM188 428h4v4h-4zM196 428h8v4h-8zM225 428h8v4h-8zM120 432h12v4h-12zM136 432h4v4h-4zM156 432h4v4h-4zM200 432h4v4h-4zM116 436h12v5h-12zM132 436h4v5h-4zM140 436h12v5h-12zM120 441h4v4h-4zM140 441h4v4h-4zM148 441h4v4h-4zM140 445h12v4h-12zM116 449h4v5h-4zM116 454h4v4h-4z"/><path fill="#263282" d="M715 173h4v4h-4zM695 182h4v4h-4zM711 182h4v4h-4zM695 186h4v4h-4zM703 186h4v4h-4zM703 190h4v5h-4zM695 195h4v4h-4zM703 195h8v4h-8zM627 199h4v4h-4zM691 199h16v4h-16zM691 203h4v5h-4zM699 203h8v5h-8zM655 208h4v4h-4zM687 208h20v4h-20zM627 212h4v4h-4zM655 212h12v4h-12zM695 212h4v4h-4zM703 212h8v4h-8zM655 216h4v5h-4zM663 216h12v5h-12zM695 216h24v5h-24zM663 221h12v4h-12zM679 221h8v4h-8zM691 221h4v4h-4zM699 221h8v4h-8zM711 221h8v4h-8zM643 225h4v4h-4zM667 225h8v4h-8zM679 225h4v4h-4zM703 225h12v4h-12zM635 229h12v5h-12zM659 229h12v5h-12zM675 229h8v5h-8zM687 229h4v5h-4zM703 229h4v5h-4zM635 234h12v4h-12zM659 234h8v4h-8zM675 234h8v4h-8zM687 234h8v4h-8zM703 234h4v4h-4zM631 238h8v4h-8zM643 238h16v4h-16zM675 238h8v4h-8zM687 238h12v4h-12zM703 238h4v4h-4zM586 242h4v5h-4zM594 242h4v5h-4zM602 242h4v5h-4zM610 242h8v5h-8zM639 242h4v5h-4zM647 242h8v5h-8zM659 242h8v5h-8zM687 242h4v5h-4zM703 242h16v5h-16zM522 247h4v4h-4zM578 247h16v4h-16zM606 247h21v4h-21zM635 247h12v4h-12zM651 247h4v4h-4zM687 247h4v4h-4zM703 247h16v4h-16zM522 251h8v4h-8zM574 251h16v4h-16zM594 251h8v4h-8zM606 251h12v4h-12zM627 251h4v4h-4zM647 251h12v4h-12zM663 251h12v4h-12zM687 251h8v4h-8zM699 251h12v4h-12zM715 251h4v4h-4zM522 255h16v4h-16zM554 255h12v4h-12zM578 255h12v4h-12zM594 255h8v4h-8zM606 255h4v4h-4zM643 255h16v4h-16zM663 255h12v4h-12zM687 255h4v4h-4zM699 255h8v4h-8zM711 255h4v4h-4zM526 259h12v5h-12zM562 259h8v5h-8zM578 259h24v5h-24zM623 259h4v5h-4zM635 259h4v5h-4zM647 259h20v5h-20zM671 259h20v5h-20zM703 259h12v5h-12zM526 264h8v4h-8zM558 264h8v4h-8zM586 264h4v4h-4zM594 264h8v4h-8zM610 264h8v4h-8zM623 264h4v4h-4zM663 264h4v4h-4zM675 264h12v4h-12zM703 264h12v4h-12zM526 268h4v4h-4zM534 268h4v4h-4zM550 268h12v4h-12zM566 268h4v4h-4zM574 268h4v4h-4zM582 268h4v4h-4zM590 268h12v4h-12zM610 268h29v4h-29zM663 268h12v4h-12zM683 268h8v4h-8zM695 268h8v4h-8zM707 268h12v4h-12zM526 272h28v5h-28zM558 272h8v5h-8zM570 272h4v5h-4zM578 272h8v5h-8zM594 272h20v5h-20zM618 272h21v5h-21zM659 272h12v5h-12zM675 272h12v5h-12zM691 272h12v5h-12zM707 272h12v5h-12zM526 277h8v4h-8zM538 277h4v4h-4zM550 277h16v4h-16zM570 277h12v4h-12zM598 277h16v4h-16zM618 277h5v4h-5zM627 277h8v4h-8zM683 277h16v4h-16zM703 277h8v4h-8zM715 277h4v4h-4zM482 281h4v4h-4zM514 281h8v4h-8zM526 281h16v4h-16zM558 281h4v4h-4zM566 281h16v4h-16zM594 281h16v4h-16zM631 281h8v4h-8zM651 281h8v4h-8zM683 281h4v4h-4zM695 281h4v4h-4zM707 281h12v4h-12zM474 285h12v5h-12zM514 285h24v5h-24zM566 285h24v5h-24zM594 285h16v5h-16zM627 285h4v5h-4zM635 285h4v5h-4zM647 285h4v5h-4zM667 285h8v5h-8zM679 285h8v5h-8zM711 285h8v5h-8zM478 290h8v4h-8zM490 290h4v4h-4zM514 290h12v4h-12zM534 290h4v4h-4zM582 290h4v4h-4zM590 290h8v4h-8zM606 290h4v4h-4zM635 290h16v4h-16zM663 290h12v4h-12zM687 290h4v4h-4zM707 290h12v4h-12zM522 294h4v4h-4zM538 294h8v4h-8zM554 294h4v4h-4zM574 294h4v4h-4zM582 294h16v4h-16zM602 294h4v4h-4zM618 294h9v4h-9zM631 294h16v4h-16zM663 294h12v4h-12zM711 294h4v4h-4zM385 298h4v5h-4zM498 298h8v5h-8zM518 298h12v5h-12zM534 298h12v5h-12zM550 298h12v5h-12zM566 298h16v5h-16zM590 298h24v5h-24zM618 298h9v5h-9zM679 298h8v5h-8zM715 298h4v5h-4zM365 303h4v4h-4zM434 303h4v4h-4zM450 303h4v4h-4zM498 303h4v4h-4zM506 303h4v4h-4zM514 303h16v4h-16zM538 303h16v4h-16zM570 303h8v4h-8zM590 303h28v4h-28zM623 303h4v4h-4zM715 303h4v4h-4zM381 307h8v4h-8zM401 307h8v4h-8zM450 307h4v4h-4zM474 307h4v4h-4zM494 307h36v4h-36zM534 307h12v4h-12zM550 307h8v4h-8zM570 307h12v4h-12zM586 307h4v4h-4zM594 307h8v4h-8zM606 307h4v4h-4zM614 307h9v4h-9zM675 307h12v4h-12zM715 307h4v4h-4zM345 311h4v5h-4zM385 311h4v5h-4zM397 311h8v5h-8zM442 311h16v5h-16zM466 311h12v5h-12zM510 311h4v5h-4zM526 311h16v5h-16zM546 311h8v5h-8zM558 311h28v5h-28zM590 311h28v5h-28zM623 311h4v5h-4zM679 311h12v5h-12zM365 316h4v4h-4zM385 316h4v4h-4zM446 316h8v4h-8zM458 316h4v4h-4zM466 316h4v4h-4zM474 316h4v4h-4zM546 316h36v4h-36zM590 316h4v4h-4zM602 316h16v4h-16zM458 320h24v4h-24zM494 320h4v4h-4zM546 320h4v4h-4zM570 320h12v4h-12zM602 320h21v4h-21zM450 324h36v5h-36zM490 324h8v5h-8zM510 324h12v5h-12zM542 324h16v5h-16zM574 324h4v5h-4zM610 324h8v5h-8zM643 324h4v5h-4zM446 329h36v4h-36zM490 329h4v4h-4zM506 329h12v4h-12zM610 329h8v4h-8zM426 333h20v4h-20zM454 333h4v4h-4zM466 333h4v4h-4zM478 333h4v4h-4zM494 333h20v4h-20zM530 333h4v4h-4zM606 333h8v4h-8zM325 337h4v5h-4zM333 337h4v5h-4zM381 337h8v5h-8zM405 337h8v5h-8zM426 337h20v5h-20zM458 337h12v5h-12zM478 337h12v5h-12zM494 337h8v5h-8zM510 337h12v5h-12zM530 337h4v5h-4zM602 337h16v5h-16zM337 342h12v4h-12zM373 342h4v4h-4zM381 342h12v4h-12zM405 342h8v4h-8zM422 342h8v4h-8zM442 342h4v4h-4zM458 342h4v4h-4zM482 342h24v4h-24zM518 342h20v4h-20zM337 346h8v4h-8zM349 346h4v4h-4zM357 346h4v4h-4zM373 346h12v4h-12zM409 346h9v4h-9zM426 346h4v4h-4zM446 346h4v4h-4zM454 346h4v4h-4zM486 346h20v4h-20zM522 346h16v4h-16zM550 346h4v4h-4zM574 346h4v4h-4zM598 346h4v4h-4zM349 350h12v4h-12zM369 350h4v4h-4zM401 350h12v4h-12zM450 350h8v4h-8zM470 350h4v4h-4zM486 350h20v4h-20zM510 350h12v4h-12zM526 350h12v4h-12zM353 354h8v5h-8zM381 354h4v5h-4zM405 354h4v5h-4zM422 354h12v5h-12zM438 354h4v5h-4zM466 354h4v5h-4zM498 354h8v5h-8zM514 354h16v5h-16zM172 359h4v4h-4zM309 359h16v4h-16zM353 359h12v4h-12zM369 359h12v4h-12zM393 359h4v4h-4zM401 359h8v4h-8zM418 359h8v4h-8zM430 359h8v4h-8zM442 359h4v4h-4zM502 359h20v4h-20zM309 363h16v4h-16zM333 363h20v4h-20zM369 363h20v4h-20zM393 363h4v4h-4zM401 363h8v4h-8zM422 363h4v4h-4zM430 363h16v4h-16zM514 363h4v4h-4zM305 367h16v5h-16zM333 367h8v5h-8zM353 367h4v5h-4zM361 367h4v5h-4zM369 367h36v5h-36zM430 367h4v5h-4zM438 367h8v5h-8zM257 372h4v4h-4zM309 372h4v4h-4zM317 372h4v4h-4zM345 372h28v4h-28zM385 372h4v4h-4zM393 372h12v4h-12zM434 372h12v4h-12zM550 372h4v4h-4zM233 376h8v4h-8zM253 376h16v4h-16zM313 376h4v4h-4zM341 376h36v4h-36zM381 376h24v4h-24zM430 376h16v4h-16zM546 376h8v4h-8zM237 380h4v5h-4zM253 380h4v5h-4zM261 380h28v5h-28zM305 380h4v5h-4zM313 380h4v5h-4zM321 380h8v5h-8zM345 380h8v5h-8zM361 380h24v5h-24zM397 380h12v5h-12zM430 380h8v5h-8zM446 380h4v5h-4zM454 380h4v5h-4zM144 385h4v4h-4zM172 385h4v4h-4zM229 385h4v4h-4zM253 385h20v4h-20zM277 385h12v4h-12zM305 385h4v4h-4zM321 385h16v4h-16zM345 385h4v4h-4zM361 385h8v4h-8zM373 385h8v4h-8zM397 385h4v4h-4zM413 385h5v4h-5zM546 385h4v4h-4zM180 389h4v4h-4zM188 389h12v4h-12zM225 389h16v4h-16zM253 389h4v4h-4zM261 389h8v4h-8zM273 389h8v4h-8zM285 389h8v4h-8zM297 389h8v4h-8zM329 389h8v4h-8zM361 389h8v4h-8zM373 389h8v4h-8zM401 389h4v4h-4zM184 393h24v5h-24zM212 393h4v5h-4zM225 393h16v5h-16zM257 393h8v5h-8zM289 393h16v5h-16zM321 393h4v5h-4zM337 393h4v5h-4zM345 393h4v5h-4zM361 393h16v5h-16zM381 393h4v5h-4zM401 393h12v5h-12zM116 398h4v4h-4zM164 398h4v4h-4zM196 398h37v4h-37zM237 398h4v4h-4zM253 398h28v4h-28zM289 398h4v4h-4zM297 398h4v4h-4zM317 398h8v4h-8zM353 398h4v4h-4zM373 398h20v4h-20zM413 398h5v4h-5zM116 402h12v4h-12zM168 402h12v4h-12zM192 402h8v4h-8zM208 402h4v4h-4zM233 402h12v4h-12zM249 402h4v4h-4zM257 402h24v4h-24zM317 402h4v4h-4zM349 402h8v4h-8zM373 402h16v4h-16zM116 406h8v5h-8zM128 406h4v5h-4zM172 406h8v5h-8zM196 406h25v5h-25zM237 406h20v5h-20zM261 406h4v5h-4zM277 406h20v5h-20zM321 406h8v5h-8zM373 406h4v5h-4zM381 406h8v5h-8zM128 411h4v4h-4zM148 411h16v4h-16zM176 411h4v4h-4zM184 411h4v4h-4zM196 411h4v4h-4zM216 411h5v4h-5zM237 411h4v4h-4zM245 411h12v4h-12zM281 411h12v4h-12zM329 411h4v4h-4zM369 411h16v4h-16zM128 415h4v4h-4zM136 415h32v4h-32zM172 415h8v4h-8zM184 415h4v4h-4zM216 415h5v4h-5zM249 415h56v4h-56zM329 415h8v4h-8zM116 419h4v5h-4zM128 419h4v5h-4zM140 419h12v5h-12zM160 419h28v5h-28zM192 419h33v5h-33zM229 419h12v5h-12zM253 419h12v5h-12zM285 419h16v5h-16zM329 419h4v5h-4zM337 419h4v5h-4zM128 424h4v4h-4zM140 424h16v4h-16zM160 424h4v4h-4zM168 424h8v4h-8zM180 424h12v4h-12zM200 424h8v4h-8zM216 424h13v4h-13zM233 424h8v4h-8zM257 424h8v4h-8zM285 424h16v4h-16zM329 424h12v4h-12zM124 428h4v4h-4zM140 428h32v4h-32zM180 428h8v4h-8zM192 428h4v4h-4zM204 428h4v4h-4zM216 428h9v4h-9zM233 428h4v4h-4zM253 428h12v4h-12zM285 428h12v4h-12zM333 428h4v4h-4zM140 432h16v4h-16zM160 432h16v4h-16zM180 432h20v4h-20zM221 432h12v4h-12zM257 432h12v4h-12zM128 436h4v5h-4zM152 436h16v5h-16zM180 436h4v5h-4zM257 436h4v5h-4zM265 436h4v5h-4zM116 441h4v4h-4zM124 441h16v4h-16zM152 441h8v4h-8zM269 441h8v4h-8zM373 441h4v4h-4zM116 445h4v4h-4zM136 445h4v4h-4zM152 445h8v4h-8zM180 445h4v4h-4zM269 445h16v4h-16zM120 449h4v5h-4zM144 449h20v5h-20zM120 454h4v4h-4zM152 454h12v4h-12zM172 454h4v4h-4zM196 454h4v4h-4zM116 458h8v4h-8zM156 458h16v4h-16zM176 458h4v4h-4zM196 458h8v4h-8zM225 458h12v4h-12zM116 462h4v5h-4zM132 462h4v5h-4zM160 462h8v5h-8zM180 462h4v5h-4zM208 480h4v4h-4z"/><path fill="#25307d" d="M715 177h4v5h-4zM699 186h4v4h-4zM695 190h8v5h-8zM699 195h4v4h-4zM699 212h4v4h-4zM715 225h4v4h-4zM683 229h4v5h-4zM707 229h8v5h-8zM683 234h4v4h-4zM707 234h4v4h-4zM639 238h4v4h-4zM683 238h4v4h-4zM707 238h8v4h-8zM679 242h8v5h-8zM618 251h9v4h-9zM659 251h4v4h-4zM695 251h4v4h-4zM711 251h4v4h-4zM614 255h13v4h-13zM659 255h4v4h-4zM691 255h8v4h-8zM707 255h4v4h-4zM610 259h13v5h-13zM667 259h4v5h-4zM691 259h12v5h-12zM715 259h4v5h-4zM590 264h4v4h-4zM618 264h5v4h-5zM667 264h8v4h-8zM687 264h16v4h-16zM715 264h4v4h-4zM530 268h4v4h-4zM586 268h4v4h-4zM679 268h4v4h-4zM691 268h4v4h-4zM703 268h4v4h-4zM554 272h4v5h-4zM586 272h4v5h-4zM671 272h4v5h-4zM687 272h4v5h-4zM703 272h4v5h-4zM534 277h4v4h-4zM582 277h16v4h-16zM614 277h4v4h-4zM623 277h4v4h-4zM659 277h24v4h-24zM699 277h4v4h-4zM582 281h12v4h-12zM610 281h21v4h-21zM659 281h24v4h-24zM687 281h8v4h-8zM699 281h8v4h-8zM590 285h4v5h-4zM610 285h17v5h-17zM631 285h4v5h-4zM651 285h16v5h-16zM675 285h4v5h-4zM687 285h24v5h-24zM586 290h4v4h-4zM610 290h4v4h-4zM618 290h17v4h-17zM651 290h12v4h-12zM675 290h12v4h-12zM691 290h16v4h-16zM606 294h12v4h-12zM627 294h4v4h-4zM647 294h16v4h-16zM675 294h12v4h-12zM691 294h4v4h-4zM703 294h8v4h-8zM715 294h4v4h-4zM582 298h8v5h-8zM614 298h4v5h-4zM627 298h24v5h-24zM655 298h16v5h-16zM675 298h4v5h-4zM707 298h8v5h-8zM502 303h4v4h-4zM554 303h16v4h-16zM578 303h12v4h-12zM627 303h24v4h-24zM655 303h8v4h-8zM667 303h20v4h-20zM707 303h8v4h-8zM558 307h12v4h-12zM582 307h4v4h-4zM602 307h4v4h-4zM610 307h4v4h-4zM623 307h12v4h-12zM639 307h12v4h-12zM671 307h4v4h-4zM707 307h8v4h-8zM494 311h4v5h-4zM502 311h8v5h-8zM514 311h12v5h-12zM554 311h4v5h-4zM618 311h5v5h-5zM627 311h4v5h-4zM635 311h12v5h-12zM667 311h12v5h-12zM691 311h4v5h-4zM707 311h12v5h-12zM454 316h4v4h-4zM494 316h4v4h-4zM506 316h36v4h-36zM582 316h8v4h-8zM594 316h8v4h-8zM618 316h13v4h-13zM639 316h8v4h-8zM667 316h28v4h-28zM703 316h8v4h-8zM715 316h4v4h-4zM446 320h12v4h-12zM498 320h4v4h-4zM510 320h20v4h-20zM538 320h4v4h-4zM550 320h20v4h-20zM582 320h20v4h-20zM623 320h4v4h-4zM639 320h16v4h-16zM667 320h8v4h-8zM683 320h32v4h-32zM486 324h4v5h-4zM498 324h12v5h-12zM522 324h4v5h-4zM534 324h8v5h-8zM558 324h16v5h-16zM578 324h8v5h-8zM602 324h8v5h-8zM618 324h9v5h-9zM639 324h4v5h-4zM647 324h12v5h-12zM482 329h8v4h-8zM494 329h12v4h-12zM518 329h8v4h-8zM530 329h8v4h-8zM542 329h16v4h-16zM562 329h12v4h-12zM578 329h12v4h-12zM602 329h8v4h-8zM618 329h5v4h-5zM639 329h20v4h-20zM470 333h8v4h-8zM482 333h12v4h-12zM514 333h8v4h-8zM526 333h4v4h-4zM534 333h4v4h-4zM558 333h16v4h-16zM582 333h8v4h-8zM602 333h4v4h-4zM614 333h9v4h-9zM470 337h8v5h-8zM490 337h4v5h-4zM522 337h8v5h-8zM534 337h4v5h-4zM546 337h4v5h-4zM574 337h4v5h-4zM598 337h4v5h-4zM618 337h5v5h-5zM675 337h4v5h-4zM377 342h4v4h-4zM430 342h12v4h-12zM462 342h20v4h-20zM538 342h20v4h-20zM574 342h8v4h-8zM594 342h29v4h-29zM715 342h4v4h-4zM418 346h8v4h-8zM430 346h16v4h-16zM458 346h4v4h-4zM474 346h12v4h-12zM538 346h12v4h-12zM558 346h12v4h-12zM578 346h4v4h-4zM590 346h8v4h-8zM610 346h8v4h-8zM413 350h25v4h-25zM446 350h4v4h-4zM458 350h4v4h-4zM466 350h4v4h-4zM474 350h8v4h-8zM538 350h4v4h-4zM546 350h8v4h-8zM574 350h4v4h-4zM594 350h4v4h-4zM409 354h13v5h-13zM434 354h4v5h-4zM450 354h12v5h-12zM470 354h8v5h-8zM490 354h8v5h-8zM530 354h8v5h-8zM566 354h16v5h-16zM586 354h8v5h-8zM614 354h4v5h-4zM655 354h8v5h-8zM413 359h5v4h-5zM438 359h4v4h-4zM446 359h4v4h-4zM454 359h24v4h-24zM494 359h8v4h-8zM522 359h16v4h-16zM570 359h4v4h-4zM578 359h4v4h-4zM606 359h8v4h-8zM655 359h4v4h-4zM409 363h4v4h-4zM418 363h4v4h-4zM446 363h8v4h-8zM466 363h4v4h-4zM474 363h4v4h-4zM502 363h8v4h-8zM518 363h8v4h-8zM534 363h4v4h-4zM542 363h8v4h-8zM562 363h8v4h-8zM574 363h12v4h-12zM606 363h4v4h-4zM659 363h4v4h-4zM341 367h12v5h-12zM405 367h4v5h-4zM422 367h8v5h-8zM446 367h4v5h-4zM514 367h8v5h-8zM538 367h24v5h-24zM566 367h4v5h-4zM574 367h4v5h-4zM606 367h4v5h-4zM635 367h4v5h-4zM651 367h4v5h-4zM341 372h4v4h-4zM405 372h4v4h-4zM422 372h12v4h-12zM446 372h16v4h-16zM542 372h8v4h-8zM554 372h8v4h-8zM570 372h4v4h-4zM631 372h4v4h-4zM405 376h8v4h-8zM422 376h8v4h-8zM446 376h16v4h-16zM466 376h4v4h-4zM542 376h4v4h-4zM554 376h4v4h-4zM635 376h4v4h-4zM249 380h4v5h-4zM257 380h4v5h-4zM309 380h4v5h-4zM317 380h4v5h-4zM353 380h8v5h-8zM385 380h12v5h-12zM409 380h21v5h-21zM438 380h8v5h-8zM450 380h4v5h-4zM458 380h20v5h-20zM542 380h16v5h-16zM309 385h12v4h-12zM349 385h12v4h-12zM381 385h4v4h-4zM393 385h4v4h-4zM401 385h12v4h-12zM418 385h4v4h-4zM426 385h36v4h-36zM470 385h8v4h-8zM490 385h8v4h-8zM542 385h4v4h-4zM550 385h8v4h-8zM257 389h4v4h-4zM269 389h4v4h-4zM281 389h4v4h-4zM305 389h24v4h-24zM345 389h8v4h-8zM357 389h4v4h-4zM381 389h8v4h-8zM393 389h8v4h-8zM405 389h17v4h-17zM450 389h12v4h-12zM474 389h4v4h-4zM482 389h4v4h-4zM494 389h4v4h-4zM546 389h4v4h-4zM265 393h24v5h-24zM305 393h4v5h-4zM317 393h4v5h-4zM325 393h12v5h-12zM349 393h12v5h-12zM385 393h16v5h-16zM413 393h9v5h-9zM450 393h16v5h-16zM494 393h4v5h-4zM546 393h8v5h-8zM281 398h4v4h-4zM293 398h4v4h-4zM301 398h16v4h-16zM325 398h28v4h-28zM357 398h16v4h-16zM393 398h20v4h-20zM418 398h4v4h-4zM438 398h4v4h-4zM446 398h24v4h-24zM506 398h4v4h-4zM546 398h12v4h-12zM200 402h8v4h-8zM212 402h21v4h-21zM253 402h4v4h-4zM281 402h36v4h-36zM321 402h16v4h-16zM341 402h4v4h-4zM357 402h4v4h-4zM369 402h4v4h-4zM389 402h8v4h-8zM401 402h4v4h-4zM409 402h13v4h-13zM446 402h8v4h-8zM458 402h16v4h-16zM506 402h4v4h-4zM124 406h4v5h-4zM221 406h4v5h-4zM229 406h8v5h-8zM257 406h4v5h-4zM297 406h8v5h-8zM309 406h12v5h-12zM329 406h8v5h-8zM345 406h16v5h-16zM369 406h4v5h-4zM377 406h4v5h-4zM409 406h9v5h-9zM438 406h4v5h-4zM446 406h4v5h-4zM466 406h8v5h-8zM542 406h4v5h-4zM116 411h4v4h-4zM124 411h4v4h-4zM221 411h4v4h-4zM229 411h8v4h-8zM241 411h4v4h-4zM293 411h36v4h-36zM333 411h4v4h-4zM349 411h12v4h-12zM385 411h4v4h-4zM409 411h4v4h-4zM418 411h4v4h-4zM442 411h4v4h-4zM546 411h4v4h-4zM116 415h8v4h-8zM221 415h28v4h-28zM305 415h12v4h-12zM321 415h8v4h-8zM337 415h4v4h-4zM369 415h4v4h-4zM381 415h8v4h-8zM409 415h4v4h-4zM442 415h4v4h-4zM546 415h4v4h-4zM120 419h4v5h-4zM152 419h4v5h-4zM225 419h4v5h-4zM241 419h12v5h-12zM265 419h20v5h-20zM301 419h12v5h-12zM317 419h4v5h-4zM325 419h4v5h-4zM413 419h5v5h-5zM558 419h4v5h-4zM124 424h4v4h-4zM176 424h4v4h-4zM208 424h8v4h-8zM241 424h16v4h-16zM305 424h4v4h-4zM325 424h4v4h-4zM341 424h4v4h-4zM558 424h4v4h-4zM172 428h8v4h-8zM208 428h4v4h-4zM237 428h16v4h-16zM265 428h8v4h-8zM281 428h4v4h-4zM297 428h4v4h-4zM329 428h4v4h-4zM337 428h8v4h-8zM357 428h8v4h-8zM176 432h4v4h-4zM204 432h17v4h-17zM233 432h4v4h-4zM249 432h8v4h-8zM269 432h4v4h-4zM285 432h12v4h-12zM325 432h28v4h-28zM361 432h4v4h-4zM381 432h4v4h-4zM168 436h12v5h-12zM184 436h45v5h-45zM245 436h12v5h-12zM261 436h4v5h-4zM273 436h4v5h-4zM321 436h4v5h-4zM345 436h4v5h-4zM365 436h20v5h-20zM434 436h4v5h-4zM160 441h8v4h-8zM176 441h36v4h-36zM216 441h9v4h-9zM249 441h20v4h-20zM277 441h8v4h-8zM321 441h8v4h-8zM377 441h8v4h-8zM120 445h12v4h-12zM160 445h12v4h-12zM176 445h4v4h-4zM184 445h24v4h-24zM257 445h12v4h-12zM285 445h8v4h-8zM325 445h8v4h-8zM373 445h8v4h-8zM124 449h8v5h-8zM136 449h8v5h-8zM164 449h44v5h-44zM253 449h36v5h-36zM124 454h4v4h-4zM140 454h12v4h-12zM164 454h8v4h-8zM176 454h12v4h-12zM192 454h4v4h-4zM200 454h8v4h-8zM225 454h12v4h-12zM253 454h24v4h-24zM281 454h4v4h-4zM128 458h4v4h-4zM144 458h12v4h-12zM172 458h4v4h-4zM180 458h16v4h-16zM204 458h4v4h-4zM221 458h4v4h-4zM237 458h4v4h-4zM257 458h16v4h-16zM120 462h4v5h-4zM128 462h4v5h-4zM136 462h4v5h-4zM152 462h8v5h-8zM168 462h12v5h-12zM184 462h57v5h-57zM257 462h16v5h-16zM116 467h4v4h-4zM124 467h16v4h-16zM148 467h8v4h-8zM160 467h40v4h-40zM204 467h8v4h-8zM216 467h5v4h-5zM293 467h12v4h-12zM116 471h4v4h-4zM128 471h12v4h-12zM168 471h16v4h-16zM188 471h4v4h-4zM208 471h4v4h-4zM301 471h4v4h-4zM116 475h4v5h-4zM168 475h4v5h-4zM184 475h4v5h-4zM208 475h4v5h-4zM116 480h8v4h-8zM132 480h4v4h-4zM160 480h4v4h-4zM188 480h4v4h-4zM200 480h8v4h-8zM120 484h12v4h-12zM156 484h8v4h-8zM184 484h12v4h-12zM120 488h12v5h-12zM140 488h20v5h-20zM188 488h12v5h-12zM152 493h4v4h-4zM305 497h4v4h-4zM196 501h4v5h-4zM301 501h4v5h-4zM120 514h4v4h-4zM116 518h4v5h-4zM120 523h4v4h-4z"/><path fill="#242f78" d="M715 229h4v5h-4zM711 234h8v4h-8zM715 238h4v4h-4zM590 272h4v5h-4zM614 290h4v4h-4zM687 294h4v4h-4zM695 294h8v4h-8zM651 298h4v5h-4zM671 298h4v5h-4zM687 298h8v5h-8zM699 298h8v5h-8zM651 303h4v4h-4zM663 303h4v4h-4zM687 303h4v4h-4zM699 303h8v4h-8zM635 307h4v4h-4zM651 307h20v4h-20zM687 307h8v4h-8zM498 311h4v5h-4zM631 311h4v5h-4zM647 311h20v5h-20zM695 311h12v5h-12zM498 316h8v4h-8zM631 316h8v4h-8zM647 316h20v4h-20zM695 316h4v4h-4zM711 316h4v4h-4zM502 320h8v4h-8zM530 320h8v4h-8zM627 320h12v4h-12zM655 320h4v4h-4zM675 320h8v4h-8zM715 320h4v4h-4zM526 324h8v5h-8zM586 324h8v5h-8zM598 324h4v5h-4zM659 324h4v5h-4zM667 324h44v5h-44zM526 329h4v4h-4zM538 329h4v4h-4zM558 329h4v4h-4zM574 329h4v4h-4zM590 329h4v4h-4zM598 329h4v4h-4zM623 329h8v4h-8zM635 329h4v4h-4zM659 329h4v4h-4zM667 329h4v4h-4zM675 329h12v4h-12zM522 333h4v4h-4zM538 333h20v4h-20zM574 333h8v4h-8zM590 333h12v4h-12zM635 333h12v4h-12zM651 333h12v4h-12zM671 333h16v4h-16zM538 337h8v5h-8zM550 337h8v5h-8zM566 337h8v5h-8zM578 337h8v5h-8zM594 337h4v5h-4zM623 337h24v5h-24zM667 337h8v5h-8zM679 337h8v5h-8zM558 342h16v4h-16zM582 342h4v4h-4zM590 342h4v4h-4zM623 342h4v4h-4zM631 342h8v4h-8zM643 342h4v4h-4zM671 342h12v4h-12zM711 342h4v4h-4zM462 346h12v4h-12zM554 346h4v4h-4zM570 346h4v4h-4zM582 346h4v4h-4zM602 346h8v4h-8zM618 346h9v4h-9zM631 346h16v4h-16zM651 346h4v4h-4zM675 346h8v4h-8zM438 350h8v4h-8zM462 350h4v4h-4zM482 350h4v4h-4zM542 350h4v4h-4zM554 350h20v4h-20zM578 350h16v4h-16zM602 350h21v4h-21zM635 350h16v4h-16zM655 350h4v4h-4zM442 354h8v5h-8zM462 354h4v5h-4zM478 354h12v5h-12zM538 354h28v5h-28zM582 354h4v5h-4zM594 354h4v5h-4zM602 354h12v5h-12zM618 354h5v5h-5zM635 354h8v5h-8zM647 354h8v5h-8zM663 354h4v5h-4zM695 354h8v5h-8zM409 359h4v4h-4zM450 359h4v4h-4zM478 359h8v4h-8zM490 359h4v4h-4zM538 359h12v4h-12zM554 359h16v4h-16zM574 359h4v4h-4zM582 359h24v4h-24zM614 359h4v4h-4zM635 359h12v4h-12zM651 359h4v4h-4zM659 359h8v4h-8zM683 359h20v4h-20zM413 363h5v4h-5zM454 363h12v4h-12zM470 363h4v4h-4zM478 363h4v4h-4zM490 363h12v4h-12zM510 363h4v4h-4zM526 363h8v4h-8zM538 363h4v4h-4zM550 363h12v4h-12zM570 363h4v4h-4zM586 363h4v4h-4zM594 363h12v4h-12zM610 363h4v4h-4zM631 363h16v4h-16zM651 363h8v4h-8zM663 363h4v4h-4zM691 363h12v4h-12zM711 363h4v4h-4zM409 367h13v5h-13zM450 367h8v5h-8zM462 367h16v5h-16zM490 367h24v5h-24zM522 367h16v5h-16zM562 367h4v5h-4zM570 367h4v5h-4zM578 367h8v5h-8zM590 367h16v5h-16zM610 367h8v5h-8zM627 367h8v5h-8zM639 367h12v5h-12zM655 367h8v5h-8zM683 367h12v5h-12zM699 367h4v5h-4zM715 367h4v5h-4zM409 372h13v4h-13zM462 372h12v4h-12zM486 372h56v4h-56zM562 372h8v4h-8zM574 372h8v4h-8zM594 372h4v4h-4zM602 372h16v4h-16zM627 372h4v4h-4zM635 372h8v4h-8zM651 372h8v4h-8zM413 376h9v4h-9zM462 376h4v4h-4zM470 376h12v4h-12zM486 376h20v4h-20zM518 376h8v4h-8zM538 376h4v4h-4zM558 376h8v4h-8zM574 376h4v4h-4zM594 376h20v4h-20zM627 376h8v4h-8zM478 380h20v5h-20zM530 380h12v5h-12zM558 380h4v5h-4zM578 380h4v5h-4zM598 380h4v5h-4zM606 380h4v5h-4zM623 380h8v5h-8zM647 380h8v5h-8zM675 380h4v5h-4zM385 385h8v4h-8zM422 385h4v4h-4zM462 385h8v4h-8zM478 385h12v4h-12zM498 385h4v4h-4zM518 385h4v4h-4zM558 385h8v4h-8zM598 385h8v4h-8zM627 385h4v4h-4zM651 385h4v4h-4zM353 389h4v4h-4zM389 389h4v4h-4zM422 389h28v4h-28zM462 389h4v4h-4zM470 389h4v4h-4zM478 389h4v4h-4zM486 389h8v4h-8zM498 389h4v4h-4zM510 389h12v4h-12zM542 389h4v4h-4zM550 389h28v4h-28zM598 389h4v4h-4zM618 389h9v4h-9zM671 389h4v4h-4zM309 393h8v5h-8zM422 393h8v5h-8zM434 393h16v5h-16zM466 393h28v5h-28zM498 393h24v5h-24zM534 393h12v5h-12zM554 393h4v5h-4zM570 393h12v5h-12zM285 398h4v4h-4zM422 398h16v4h-16zM442 398h4v4h-4zM470 398h8v4h-8zM482 398h4v4h-4zM490 398h4v4h-4zM498 398h8v4h-8zM510 398h12v4h-12zM534 398h12v4h-12zM558 398h4v4h-4zM578 398h4v4h-4zM337 402h4v4h-4zM345 402h4v4h-4zM361 402h8v4h-8zM397 402h4v4h-4zM405 402h4v4h-4zM422 402h24v4h-24zM454 402h4v4h-4zM474 402h4v4h-4zM498 402h8v4h-8zM510 402h8v4h-8zM538 402h20v4h-20zM578 402h4v4h-4zM225 406h4v5h-4zM305 406h4v5h-4zM337 406h8v5h-8zM361 406h8v5h-8zM389 406h20v5h-20zM418 406h8v5h-8zM430 406h8v5h-8zM442 406h4v5h-4zM450 406h8v5h-8zM462 406h4v5h-4zM474 406h4v5h-4zM498 406h12v5h-12zM530 406h12v5h-12zM546 406h4v5h-4zM120 411h4v4h-4zM225 411h4v4h-4zM337 411h12v4h-12zM361 411h8v4h-8zM389 411h4v4h-4zM401 411h8v4h-8zM413 411h5v4h-5zM422 411h4v4h-4zM430 411h12v4h-12zM446 411h28v4h-28zM498 411h4v4h-4zM530 411h16v4h-16zM578 411h4v4h-4zM124 415h4v4h-4zM317 415h4v4h-4zM341 415h28v4h-28zM373 415h8v4h-8zM389 415h8v4h-8zM401 415h8v4h-8zM413 415h13v4h-13zM434 415h8v4h-8zM446 415h8v4h-8zM462 415h4v4h-4zM494 415h4v4h-4zM530 415h16v4h-16zM550 415h20v4h-20zM124 419h4v5h-4zM313 419h4v5h-4zM321 419h4v5h-4zM341 419h16v5h-16zM365 419h4v5h-4zM377 419h4v5h-4zM385 419h8v5h-8zM405 419h8v5h-8zM418 419h4v5h-4zM434 419h20v5h-20zM462 419h4v5h-4zM494 419h8v5h-8zM550 419h8v5h-8zM562 419h12v5h-12zM265 424h20v4h-20zM301 424h4v4h-4zM309 424h8v4h-8zM321 424h4v4h-4zM345 424h4v4h-4zM353 424h16v4h-16zM401 424h4v4h-4zM413 424h5v4h-5zM426 424h4v4h-4zM434 424h16v4h-16zM494 424h8v4h-8zM550 424h8v4h-8zM562 424h8v4h-8zM212 428h4v4h-4zM273 428h8v4h-8zM301 428h8v4h-8zM313 428h4v4h-4zM321 428h8v4h-8zM345 428h12v4h-12zM365 428h4v4h-4zM413 428h9v4h-9zM430 428h4v4h-4zM438 428h4v4h-4zM498 428h4v4h-4zM237 432h12v4h-12zM273 432h12v4h-12zM297 432h12v4h-12zM317 432h8v4h-8zM353 432h8v4h-8zM365 432h16v4h-16zM385 432h4v4h-4zM426 432h8v4h-8zM606 432h4v4h-4zM229 436h8v5h-8zM241 436h4v5h-4zM269 436h4v5h-4zM277 436h4v5h-4zM285 436h20v5h-20zM317 436h4v5h-4zM325 436h20v5h-20zM349 436h16v5h-16zM385 436h8v5h-8zM401 436h4v5h-4zM426 436h8v5h-8zM438 436h4v5h-4zM482 436h8v5h-8zM168 441h8v4h-8zM212 441h4v4h-4zM225 441h4v4h-4zM245 441h4v4h-4zM285 441h16v4h-16zM313 441h8v4h-8zM329 441h8v4h-8zM341 441h32v4h-32zM385 441h4v4h-4zM413 441h9v4h-9zM426 441h16v4h-16zM132 445h4v4h-4zM172 445h4v4h-4zM208 445h21v4h-21zM245 445h4v4h-4zM253 445h4v4h-4zM305 445h4v4h-4zM313 445h12v4h-12zM333 445h8v4h-8zM365 445h8v4h-8zM381 445h4v4h-4zM409 445h4v4h-4zM422 445h4v4h-4zM430 445h4v4h-4zM462 445h8v4h-8zM132 449h4v5h-4zM208 449h17v5h-17zM233 449h8v5h-8zM249 449h4v5h-4zM289 449h8v5h-8zM301 449h12v5h-12zM317 449h28v5h-28zM373 449h4v5h-4zM413 449h5v5h-5zM462 449h4v5h-4zM470 449h4v5h-4zM128 454h12v4h-12zM188 454h4v4h-4zM208 454h17v4h-17zM237 454h8v4h-8zM249 454h4v4h-4zM277 454h4v4h-4zM285 454h8v4h-8zM297 454h12v4h-12zM313 454h4v4h-4zM333 454h8v4h-8zM401 454h4v4h-4zM124 458h4v4h-4zM132 458h12v4h-12zM208 458h13v4h-13zM241 458h16v4h-16zM273 458h20v4h-20zM301 458h16v4h-16zM446 458h4v4h-4zM124 462h4v5h-4zM140 462h12v5h-12zM241 462h8v5h-8zM253 462h4v5h-4zM273 462h4v5h-4zM285 462h12v5h-12zM301 462h8v5h-8zM120 467h4v4h-4zM140 467h8v4h-8zM156 467h4v4h-4zM200 467h4v4h-4zM212 467h4v4h-4zM221 467h16v4h-16zM241 467h8v4h-8zM257 467h12v4h-12zM289 467h4v4h-4zM305 467h4v4h-4zM361 467h4v4h-4zM120 471h8v4h-8zM140 471h28v4h-28zM184 471h4v4h-4zM192 471h16v4h-16zM212 471h9v4h-9zM241 471h12v4h-12zM257 471h16v4h-16zM289 471h12v4h-12zM305 471h4v4h-4zM120 475h40v5h-40zM164 475h4v5h-4zM172 475h12v5h-12zM188 475h20v5h-20zM212 475h4v5h-4zM241 475h12v5h-12zM261 475h12v5h-12zM289 475h24v5h-24zM345 475h4v5h-4zM124 480h8v4h-8zM136 480h24v4h-24zM164 480h12v4h-12zM180 480h8v4h-8zM192 480h8v4h-8zM212 480h4v4h-4zM237 480h24v4h-24zM265 480h4v4h-4zM305 480h8v4h-8zM116 484h4v4h-4zM132 484h24v4h-24zM164 484h20v4h-20zM196 484h20v4h-20zM237 484h12v4h-12zM253 484h4v4h-4zM301 484h8v4h-8zM116 488h4v5h-4zM132 488h4v5h-4zM160 488h12v5h-12zM180 488h8v5h-8zM200 488h4v5h-4zM301 488h8v5h-8zM116 493h12v4h-12zM136 493h16v4h-16zM156 493h4v4h-4zM176 493h8v4h-8zM196 493h4v4h-4zM297 493h8v4h-8zM144 497h12v4h-12zM172 497h4v4h-4zM180 497h4v4h-4zM188 497h12v4h-12zM297 497h8v4h-8zM148 501h4v5h-4zM180 501h8v5h-8zM200 501h4v5h-4zM233 501h12v5h-12zM297 501h4v5h-4zM305 501h4v5h-4zM152 506h4v4h-4zM180 506h4v4h-4zM188 506h20v4h-20zM212 506h4v4h-4zM297 506h8v4h-8zM120 510h4v4h-4zM140 510h4v4h-4zM188 510h12v4h-12zM204 510h12v4h-12zM116 514h4v4h-4zM124 514h4v4h-4zM136 514h8v4h-8zM188 514h8v4h-8zM208 514h8v4h-8zM120 518h8v5h-8zM140 518h4v5h-4zM116 523h4v4h-4zM124 523h4v4h-4zM164 523h4v4h-4zM116 527h8v4h-8zM132 527h4v4h-4zM160 527h8v4h-8zM132 531h4v5h-4zM172 531h4v5h-4zM132 536h4v4h-4zM164 536h8v4h-8zM188 536h8v4h-8zM120 540h4v4h-4zM128 540h4v4h-4zM184 540h8v4h-8zM120 544h4v5h-4zM180 544h8v5h-8zM124 549h4v4h-4zM176 549h12v4h-12z"/><path fill="#232e73" d="M695 298h4v5h-4zM691 303h8v4h-8zM695 307h12v4h-12zM699 316h4v4h-4zM659 320h8v4h-8zM594 324h4v5h-4zM627 324h12v5h-12zM663 324h4v5h-4zM711 324h8v5h-8zM594 329h4v4h-4zM631 329h4v4h-4zM663 329h4v4h-4zM671 329h4v4h-4zM687 329h4v4h-4zM695 329h16v4h-16zM623 333h12v4h-12zM647 333h4v4h-4zM663 333h8v4h-8zM699 333h4v4h-4zM558 337h8v5h-8zM586 337h8v5h-8zM647 337h4v5h-4zM655 337h12v5h-12zM687 337h4v5h-4zM695 337h4v5h-4zM703 337h16v5h-16zM586 342h4v4h-4zM627 342h4v4h-4zM639 342h4v4h-4zM647 342h12v4h-12zM663 342h8v4h-8zM683 342h4v4h-4zM699 342h12v4h-12zM586 346h4v4h-4zM627 346h4v4h-4zM647 346h4v4h-4zM655 346h8v4h-8zM667 346h8v4h-8zM699 346h4v4h-4zM707 346h12v4h-12zM598 350h4v4h-4zM623 350h12v4h-12zM651 350h4v4h-4zM659 350h16v4h-16zM679 350h4v4h-4zM687 350h16v4h-16zM711 350h8v4h-8zM598 354h4v5h-4zM623 354h12v5h-12zM643 354h4v5h-4zM667 354h28v5h-28zM711 354h8v5h-8zM486 359h4v4h-4zM550 359h4v4h-4zM618 359h17v4h-17zM647 359h4v4h-4zM667 359h4v4h-4zM675 359h8v4h-8zM703 359h16v4h-16zM482 363h8v4h-8zM590 363h4v4h-4zM614 363h17v4h-17zM647 363h4v4h-4zM675 363h16v4h-16zM703 363h8v4h-8zM715 363h4v4h-4zM458 367h4v5h-4zM478 367h12v5h-12zM586 367h4v5h-4zM618 367h9v5h-9zM663 367h8v5h-8zM675 367h8v5h-8zM695 367h4v5h-4zM703 367h12v5h-12zM474 372h12v4h-12zM582 372h4v4h-4zM590 372h4v4h-4zM598 372h4v4h-4zM618 372h9v4h-9zM643 372h8v4h-8zM659 372h4v4h-4zM675 372h16v4h-16zM699 372h20v4h-20zM482 376h4v4h-4zM506 376h12v4h-12zM526 376h12v4h-12zM566 376h8v4h-8zM578 376h8v4h-8zM590 376h4v4h-4zM614 376h13v4h-13zM639 376h28v4h-28zM675 376h12v4h-12zM703 376h16v4h-16zM498 380h32v5h-32zM562 380h16v5h-16zM590 380h8v5h-8zM602 380h4v5h-4zM610 380h4v5h-4zM618 380h5v5h-5zM631 380h16v5h-16zM655 380h8v5h-8zM667 380h8v5h-8zM679 380h4v5h-4zM703 380h16v5h-16zM502 385h8v4h-8zM514 385h4v4h-4zM522 385h8v4h-8zM534 385h8v4h-8zM566 385h12v4h-12zM582 385h4v4h-4zM594 385h4v4h-4zM606 385h4v4h-4zM618 385h9v4h-9zM631 385h4v4h-4zM643 385h8v4h-8zM655 385h24v4h-24zM711 385h4v4h-4zM466 389h4v4h-4zM502 389h8v4h-8zM522 389h20v4h-20zM578 389h8v4h-8zM594 389h4v4h-4zM602 389h8v4h-8zM614 389h4v4h-4zM627 389h4v4h-4zM647 389h12v4h-12zM663 389h8v4h-8zM675 389h4v4h-4zM430 393h4v5h-4zM522 393h4v5h-4zM558 393h12v5h-12zM582 393h4v5h-4zM598 393h8v5h-8zM618 393h21v5h-21zM651 393h8v5h-8zM663 393h12v5h-12zM691 393h8v5h-8zM478 398h4v4h-4zM486 398h4v4h-4zM494 398h4v4h-4zM522 398h4v4h-4zM530 398h4v4h-4zM562 398h16v4h-16zM582 398h4v4h-4zM598 398h29v4h-29zM631 398h8v4h-8zM695 398h8v4h-8zM478 402h4v4h-4zM486 402h12v4h-12zM518 402h20v4h-20zM558 402h8v4h-8zM582 402h4v4h-4zM614 402h4v4h-4zM635 402h4v4h-4zM691 402h12v4h-12zM426 406h4v5h-4zM458 406h4v5h-4zM478 406h20v5h-20zM510 406h8v5h-8zM522 406h8v5h-8zM550 406h20v5h-20zM574 406h12v5h-12zM614 406h9v5h-9zM393 411h8v4h-8zM426 411h4v4h-4zM474 411h12v4h-12zM490 411h8v4h-8zM502 411h28v4h-28zM550 411h16v4h-16zM570 411h8v4h-8zM610 411h8v4h-8zM651 411h4v4h-4zM703 411h4v4h-4zM397 415h4v4h-4zM430 415h4v4h-4zM454 415h8v4h-8zM466 415h12v4h-12zM482 415h4v4h-4zM490 415h4v4h-4zM498 415h20v4h-20zM526 415h4v4h-4zM570 415h16v4h-16zM614 415h13v4h-13zM647 415h4v4h-4zM655 415h4v4h-4zM675 415h8v4h-8zM357 419h8v5h-8zM369 419h8v5h-8zM381 419h4v5h-4zM393 419h12v5h-12zM422 419h12v5h-12zM454 419h8v5h-8zM466 419h8v5h-8zM478 419h16v5h-16zM502 419h16v5h-16zM522 419h8v5h-8zM538 419h4v5h-4zM546 419h4v5h-4zM317 424h4v4h-4zM349 424h4v4h-4zM369 424h4v4h-4zM377 424h24v4h-24zM405 424h8v4h-8zM418 424h8v4h-8zM430 424h4v4h-4zM450 424h8v4h-8zM466 424h4v4h-4zM474 424h20v4h-20zM502 424h16v4h-16zM522 424h8v4h-8zM546 424h4v4h-4zM570 424h4v4h-4zM602 424h4v4h-4zM627 424h12v4h-12zM309 428h4v4h-4zM317 428h4v4h-4zM369 428h44v4h-44zM422 428h8v4h-8zM434 428h4v4h-4zM442 428h8v4h-8zM454 428h4v4h-4zM474 428h24v4h-24zM502 428h8v4h-8zM514 428h4v4h-4zM522 428h8v4h-8zM546 428h24v4h-24zM602 428h12v4h-12zM309 432h8v4h-8zM389 432h8v4h-8zM401 432h17v4h-17zM422 432h4v4h-4zM434 432h8v4h-8zM446 432h8v4h-8zM478 432h28v4h-28zM522 432h4v4h-4zM550 432h4v4h-4zM558 432h4v4h-4zM598 432h4v4h-4zM610 432h4v4h-4zM237 436h4v5h-4zM281 436h4v5h-4zM305 436h12v5h-12zM393 436h8v5h-8zM405 436h21v5h-21zM442 436h20v5h-20zM474 436h8v5h-8zM490 436h4v5h-4zM506 436h4v5h-4zM518 436h4v5h-4zM598 436h16v5h-16zM229 441h16v4h-16zM301 441h12v4h-12zM337 441h4v4h-4zM389 441h24v4h-24zM422 441h4v4h-4zM442 441h4v4h-4zM450 441h4v4h-4zM458 441h20v4h-20zM482 441h16v4h-16zM506 441h8v4h-8zM518 441h8v4h-8zM598 441h12v4h-12zM229 445h8v4h-8zM241 445h4v4h-4zM249 445h4v4h-4zM293 445h12v4h-12zM309 445h4v4h-4zM341 445h24v4h-24zM385 445h12v4h-12zM401 445h8v4h-8zM413 445h9v4h-9zM426 445h4v4h-4zM434 445h16v4h-16zM458 445h4v4h-4zM470 445h4v4h-4zM478 445h4v4h-4zM498 445h8v4h-8zM522 445h4v4h-4zM534 445h8v4h-8zM554 445h4v4h-4zM606 445h4v4h-4zM225 449h8v5h-8zM241 449h8v5h-8zM297 449h4v5h-4zM313 449h4v5h-4zM349 449h4v5h-4zM365 449h8v5h-8zM377 449h4v5h-4zM385 449h8v5h-8zM397 449h16v5h-16zM418 449h4v5h-4zM430 449h28v5h-28zM466 449h4v5h-4zM474 449h4v5h-4zM494 449h12v5h-12zM518 449h12v5h-12zM245 454h4v4h-4zM293 454h4v4h-4zM309 454h4v4h-4zM317 454h16v4h-16zM341 454h4v4h-4zM349 454h4v4h-4zM365 454h20v4h-20zM393 454h8v4h-8zM405 454h17v4h-17zM430 454h8v4h-8zM442 454h36v4h-36zM498 454h8v4h-8zM510 454h12v4h-12zM293 458h8v4h-8zM317 458h8v4h-8zM329 458h20v4h-20zM361 458h4v4h-4zM369 458h8v4h-8zM381 458h4v4h-4zM393 458h4v4h-4zM405 458h4v4h-4zM413 458h5v4h-5zM426 458h8v4h-8zM438 458h4v4h-4zM450 458h4v4h-4zM466 458h4v4h-4zM498 458h12v4h-12zM514 458h12v4h-12zM249 462h4v5h-4zM277 462h8v5h-8zM297 462h4v5h-4zM309 462h36v5h-36zM353 462h4v5h-4zM361 462h12v5h-12zM377 462h12v5h-12zM409 462h4v5h-4zM426 462h4v5h-4zM442 462h8v5h-8zM454 462h4v5h-4zM466 462h8v5h-8zM498 462h20v5h-20zM237 467h4v4h-4zM249 467h8v4h-8zM269 467h8v4h-8zM281 467h8v4h-8zM309 467h8v4h-8zM321 467h20v4h-20zM349 467h12v4h-12zM365 467h4v4h-4zM377 467h8v4h-8zM422 467h8v4h-8zM450 467h8v4h-8zM462 467h4v4h-4zM486 467h4v4h-4zM506 467h4v4h-4zM514 467h4v4h-4zM221 471h8v4h-8zM233 471h8v4h-8zM253 471h4v4h-4zM273 471h4v4h-4zM281 471h8v4h-8zM309 471h8v4h-8zM321 471h4v4h-4zM337 471h32v4h-32zM418 471h12v4h-12zM454 471h4v4h-4zM482 471h16v4h-16zM160 475h4v5h-4zM221 475h4v5h-4zM229 475h12v5h-12zM253 475h8v5h-8zM277 475h12v5h-12zM313 475h8v5h-8zM337 475h4v5h-4zM349 475h20v5h-20zM373 475h8v5h-8zM397 475h4v5h-4zM418 475h12v5h-12zM530 475h8v5h-8zM176 480h4v4h-4zM233 480h4v4h-4zM261 480h4v4h-4zM269 480h8v4h-8zM285 480h20v4h-20zM313 480h8v4h-8zM325 480h4v4h-4zM341 480h40v4h-40zM397 480h4v4h-4zM426 480h4v4h-4zM534 480h4v4h-4zM216 484h5v4h-5zM249 484h4v4h-4zM257 484h12v4h-12zM277 484h4v4h-4zM285 484h16v4h-16zM309 484h12v4h-12zM341 484h12v4h-12zM361 484h20v4h-20zM397 484h4v4h-4zM426 484h8v4h-8zM458 484h4v4h-4zM136 488h4v5h-4zM172 488h8v5h-8zM204 488h17v5h-17zM233 488h36v5h-36zM293 488h8v5h-8zM309 488h12v5h-12zM337 488h4v5h-4zM345 488h8v5h-8zM369 488h8v5h-8zM393 488h4v5h-4zM401 488h4v5h-4zM430 488h4v5h-4zM128 493h4v4h-4zM160 493h16v4h-16zM184 493h12v4h-12zM200 493h4v4h-4zM208 493h8v4h-8zM221 493h8v4h-8zM237 493h20v4h-20zM285 493h4v4h-4zM305 493h12v4h-12zM341 493h16v4h-16zM430 493h4v4h-4zM446 493h4v4h-4zM116 497h28v4h-28zM156 497h4v4h-4zM176 497h4v4h-4zM184 497h4v4h-4zM200 497h4v4h-4zM208 497h13v4h-13zM225 497h32v4h-32zM277 497h12v4h-12zM293 497h4v4h-4zM309 497h4v4h-4zM317 497h4v4h-4zM349 497h4v4h-4zM385 497h4v4h-4zM128 501h20v5h-20zM152 501h8v5h-8zM168 501h12v5h-12zM188 501h8v5h-8zM204 501h29v5h-29zM245 501h4v5h-4zM277 501h20v5h-20zM349 501h4v5h-4zM124 506h28v4h-28zM156 506h4v4h-4zM176 506h4v4h-4zM184 506h4v4h-4zM208 506h4v4h-4zM216 506h29v4h-29zM249 506h4v4h-4zM281 506h16v4h-16zM305 506h8v4h-8zM349 506h4v4h-4zM116 510h4v4h-4zM124 510h16v4h-16zM144 510h16v4h-16zM184 510h4v4h-4zM200 510h4v4h-4zM216 510h17v4h-17zM241 510h4v4h-4zM253 510h12v4h-12zM285 510h8v4h-8zM297 510h4v4h-4zM305 510h4v4h-4zM128 514h8v4h-8zM144 514h8v4h-8zM160 514h8v4h-8zM184 514h4v4h-4zM196 514h12v4h-12zM216 514h13v4h-13zM241 514h12v4h-12zM128 518h12v5h-12zM144 518h4v5h-4zM160 518h12v5h-12zM192 518h12v5h-12zM208 518h8v5h-8zM221 518h8v5h-8zM237 518h4v5h-4zM245 518h8v5h-8zM128 523h20v4h-20zM156 523h8v4h-8zM168 523h8v4h-8zM200 523h25v4h-25zM241 523h12v4h-12zM124 527h8v4h-8zM136 527h4v4h-4zM156 527h4v4h-4zM168 527h8v4h-8zM196 527h4v4h-4zM212 527h9v4h-9zM241 527h12v4h-12zM116 531h16v5h-16zM136 531h12v5h-12zM156 531h16v5h-16zM176 531h4v5h-4zM184 531h24v5h-24zM241 531h16v5h-16zM120 536h12v4h-12zM136 536h12v4h-12zM160 536h4v4h-4zM172 536h16v4h-16zM196 536h12v4h-12zM241 536h8v4h-8zM273 536h4v4h-4zM285 536h4v4h-4zM124 540h4v4h-4zM132 540h12v4h-12zM164 540h20v4h-20zM192 540h16v4h-16zM116 544h4v5h-4zM124 544h20v5h-20zM148 544h4v5h-4zM156 544h8v5h-8zM168 544h12v5h-12zM188 544h4v5h-4zM200 544h4v5h-4zM120 549h4v4h-4zM140 549h8v4h-8zM156 549h12v4h-12zM172 549h4v4h-4z"/><path fill="#222d6e" d="M691 329h4v4h-4zM711 329h8v4h-8zM687 333h12v4h-12zM703 333h16v4h-16zM651 337h4v5h-4zM691 337h4v5h-4zM699 337h4v5h-4zM659 342h4v4h-4zM687 342h12v4h-12zM663 346h4v4h-4zM683 346h16v4h-16zM703 346h4v4h-4zM675 350h4v4h-4zM683 350h4v4h-4zM703 350h8v4h-8zM703 354h8v5h-8zM671 359h4v4h-4zM667 363h8v4h-8zM671 367h4v5h-4zM586 372h4v4h-4zM663 372h12v4h-12zM691 372h8v4h-8zM586 376h4v4h-4zM667 376h8v4h-8zM687 376h16v4h-16zM582 380h8v5h-8zM614 380h4v5h-4zM663 380h4v5h-4zM683 380h20v5h-20zM510 385h4v4h-4zM530 385h4v4h-4zM578 385h4v4h-4zM586 385h8v4h-8zM610 385h8v4h-8zM635 385h8v4h-8zM679 385h16v4h-16zM699 385h12v4h-12zM715 385h4v4h-4zM586 389h8v4h-8zM610 389h4v4h-4zM631 389h16v4h-16zM659 389h4v4h-4zM679 389h4v4h-4zM687 389h4v4h-4zM695 389h20v4h-20zM526 393h8v5h-8zM586 393h12v5h-12zM606 393h12v5h-12zM639 393h12v5h-12zM659 393h4v5h-4zM675 393h4v5h-4zM687 393h4v5h-4zM699 393h12v5h-12zM526 398h4v4h-4zM586 398h4v4h-4zM594 398h4v4h-4zM627 398h4v4h-4zM639 398h40v4h-40zM687 398h8v4h-8zM703 398h4v4h-4zM715 398h4v4h-4zM482 402h4v4h-4zM566 402h12v4h-12zM586 402h4v4h-4zM594 402h20v4h-20zM618 402h17v4h-17zM639 402h20v4h-20zM687 402h4v4h-4zM703 402h8v4h-8zM715 402h4v4h-4zM518 406h4v5h-4zM570 406h4v5h-4zM586 406h4v5h-4zM594 406h20v5h-20zM631 406h32v5h-32zM675 406h4v5h-4zM691 406h20v5h-20zM715 406h4v5h-4zM486 411h4v4h-4zM566 411h4v4h-4zM582 411h8v4h-8zM606 411h4v4h-4zM618 411h33v4h-33zM655 411h8v4h-8zM675 411h8v4h-8zM695 411h8v4h-8zM707 411h4v4h-4zM715 411h4v4h-4zM426 415h4v4h-4zM478 415h4v4h-4zM486 415h4v4h-4zM518 415h8v4h-8zM586 415h4v4h-4zM602 415h12v4h-12zM631 415h16v4h-16zM651 415h4v4h-4zM659 415h8v4h-8zM695 415h12v4h-12zM474 419h4v5h-4zM518 419h4v5h-4zM530 419h8v5h-8zM542 419h4v5h-4zM574 419h12v5h-12zM602 419h37v5h-37zM647 419h20v5h-20zM671 419h16v5h-16zM373 424h4v4h-4zM458 424h8v4h-8zM470 424h4v4h-4zM518 424h4v4h-4zM530 424h4v4h-4zM542 424h4v4h-4zM574 424h12v4h-12zM594 424h8v4h-8zM606 424h8v4h-8zM623 424h4v4h-4zM639 424h16v4h-16zM671 424h12v4h-12zM695 424h8v4h-8zM450 428h4v4h-4zM458 428h16v4h-16zM510 428h4v4h-4zM518 428h4v4h-4zM530 428h4v4h-4zM538 428h8v4h-8zM594 428h8v4h-8zM614 428h9v4h-9zM627 428h16v4h-16zM647 428h4v4h-4zM675 428h4v4h-4zM683 428h4v4h-4zM691 428h4v4h-4zM397 432h4v4h-4zM418 432h4v4h-4zM442 432h4v4h-4zM454 432h12v4h-12zM470 432h8v4h-8zM506 432h16v4h-16zM526 432h8v4h-8zM538 432h4v4h-4zM546 432h4v4h-4zM554 432h4v4h-4zM562 432h8v4h-8zM594 432h4v4h-4zM602 432h4v4h-4zM614 432h9v4h-9zM627 432h32v4h-32zM691 432h8v4h-8zM462 436h12v5h-12zM494 436h12v5h-12zM510 436h8v5h-8zM522 436h44v5h-44zM590 436h4v5h-4zM614 436h21v5h-21zM643 436h8v5h-8zM446 441h4v4h-4zM454 441h4v4h-4zM478 441h4v4h-4zM498 441h8v4h-8zM514 441h4v4h-4zM526 441h24v4h-24zM590 441h8v4h-8zM610 441h4v4h-4zM618 441h9v4h-9zM643 441h8v4h-8zM663 441h8v4h-8zM687 441h4v4h-4zM237 445h4v4h-4zM397 445h4v4h-4zM450 445h8v4h-8zM474 445h4v4h-4zM482 445h16v4h-16zM506 445h16v4h-16zM526 445h8v4h-8zM542 445h4v4h-4zM558 445h4v4h-4zM586 445h20v4h-20zM618 445h17v4h-17zM345 449h4v5h-4zM357 449h4v5h-4zM381 449h4v5h-4zM393 449h4v5h-4zM422 449h8v5h-8zM458 449h4v5h-4zM478 449h4v5h-4zM490 449h4v5h-4zM506 449h12v5h-12zM530 449h16v5h-16zM550 449h12v5h-12zM582 449h4v5h-4zM590 449h20v5h-20zM345 454h4v4h-4zM361 454h4v4h-4zM385 454h8v4h-8zM422 454h8v4h-8zM438 454h4v4h-4zM478 454h4v4h-4zM494 454h4v4h-4zM506 454h4v4h-4zM522 454h40v4h-40zM586 454h20v4h-20zM325 458h4v4h-4zM349 458h12v4h-12zM365 458h4v4h-4zM377 458h4v4h-4zM385 458h8v4h-8zM397 458h8v4h-8zM409 458h4v4h-4zM418 458h8v4h-8zM434 458h4v4h-4zM442 458h4v4h-4zM454 458h12v4h-12zM470 458h12v4h-12zM494 458h4v4h-4zM510 458h4v4h-4zM526 458h12v4h-12zM542 458h16v4h-16zM590 458h4v4h-4zM598 458h4v4h-4zM345 462h8v5h-8zM357 462h4v5h-4zM373 462h4v5h-4zM389 462h16v5h-16zM413 462h13v5h-13zM430 462h8v5h-8zM450 462h4v5h-4zM458 462h8v5h-8zM474 462h12v5h-12zM494 462h4v5h-4zM518 462h12v5h-12zM538 462h20v5h-20zM586 462h4v5h-4zM594 462h4v5h-4zM277 467h4v4h-4zM317 467h4v4h-4zM341 467h8v4h-8zM369 467h8v4h-8zM385 467h8v4h-8zM401 467h21v4h-21zM430 467h8v4h-8zM446 467h4v4h-4zM458 467h4v4h-4zM466 467h8v4h-8zM478 467h8v4h-8zM490 467h16v4h-16zM510 467h4v4h-4zM518 467h4v4h-4zM550 467h4v4h-4zM229 471h4v4h-4zM277 471h4v4h-4zM317 471h4v4h-4zM325 471h12v4h-12zM369 471h16v4h-16zM393 471h25v4h-25zM430 471h4v4h-4zM450 471h4v4h-4zM458 471h8v4h-8zM470 471h4v4h-4zM478 471h4v4h-4zM498 471h12v4h-12zM526 471h8v4h-8zM538 471h4v4h-4zM554 471h12v4h-12zM216 475h5v5h-5zM225 475h4v5h-4zM273 475h4v5h-4zM321 475h16v5h-16zM341 475h4v5h-4zM369 475h4v5h-4zM381 475h4v5h-4zM389 475h8v5h-8zM401 475h17v5h-17zM430 475h4v5h-4zM454 475h16v5h-16zM482 475h24v5h-24zM526 475h4v5h-4zM538 475h4v5h-4zM558 475h12v5h-12zM216 480h17v4h-17zM277 480h8v4h-8zM321 480h4v4h-4zM329 480h12v4h-12zM381 480h16v4h-16zM401 480h8v4h-8zM418 480h8v4h-8zM430 480h8v4h-8zM458 480h8v4h-8zM482 480h24v4h-24zM526 480h8v4h-8zM538 480h8v4h-8zM221 484h16v4h-16zM269 484h8v4h-8zM281 484h4v4h-4zM321 484h20v4h-20zM353 484h8v4h-8zM381 484h16v4h-16zM401 484h4v4h-4zM434 484h4v4h-4zM450 484h8v4h-8zM462 484h12v4h-12zM478 484h8v4h-8zM490 484h20v4h-20zM530 484h12v4h-12zM221 488h12v5h-12zM269 488h24v5h-24zM321 488h12v5h-12zM341 488h4v5h-4zM357 488h12v5h-12zM377 488h16v5h-16zM397 488h4v5h-4zM426 488h4v5h-4zM434 488h8v5h-8zM450 488h12v5h-12zM466 488h16v5h-16zM490 488h16v5h-16zM510 488h8v5h-8zM530 488h4v5h-4zM132 493h4v4h-4zM204 493h4v4h-4zM216 493h5v4h-5zM229 493h8v4h-8zM257 493h16v4h-16zM277 493h8v4h-8zM289 493h8v4h-8zM317 493h12v4h-12zM337 493h4v4h-4zM357 493h4v4h-4zM365 493h4v4h-4zM373 493h24v4h-24zM405 493h4v4h-4zM426 493h4v4h-4zM434 493h4v4h-4zM442 493h4v4h-4zM450 493h4v4h-4zM482 493h4v4h-4zM502 493h28v4h-28zM160 497h12v4h-12zM204 497h4v4h-4zM221 497h4v4h-4zM257 497h20v4h-20zM289 497h4v4h-4zM313 497h4v4h-4zM321 497h8v4h-8zM333 497h4v4h-4zM341 497h8v4h-8zM353 497h4v4h-4zM361 497h4v4h-4zM373 497h4v4h-4zM389 497h4v4h-4zM442 497h12v4h-12zM498 497h4v4h-4zM514 497h4v4h-4zM522 497h4v4h-4zM116 501h12v5h-12zM160 501h8v5h-8zM249 501h20v5h-20zM273 501h4v5h-4zM309 501h20v5h-20zM341 501h8v5h-8zM353 501h8v5h-8zM385 501h4v5h-4zM418 501h16v5h-16zM438 501h12v5h-12zM522 501h4v5h-4zM116 506h8v4h-8zM160 506h16v4h-16zM245 506h4v4h-4zM253 506h16v4h-16zM273 506h8v4h-8zM313 506h16v4h-16zM341 506h8v4h-8zM353 506h8v4h-8zM413 506h9v4h-9zM442 506h12v4h-12zM160 510h16v4h-16zM180 510h4v4h-4zM233 510h8v4h-8zM245 510h8v4h-8zM265 510h4v4h-4zM277 510h8v4h-8zM293 510h4v4h-4zM301 510h4v4h-4zM325 510h4v4h-4zM341 510h8v4h-8zM353 510h4v4h-4zM369 510h8v4h-8zM418 510h4v4h-4zM446 510h4v4h-4zM152 514h8v4h-8zM168 514h4v4h-4zM176 514h8v4h-8zM229 514h12v4h-12zM253 514h32v4h-32zM297 514h4v4h-4zM345 514h8v4h-8zM152 518h8v5h-8zM172 518h4v5h-4zM180 518h12v5h-12zM204 518h4v5h-4zM216 518h5v5h-5zM229 518h8v5h-8zM241 518h4v5h-4zM253 518h8v5h-8zM265 518h20v5h-20zM321 518h4v5h-4zM377 518h8v5h-8zM148 523h4v4h-4zM176 523h4v4h-4zM188 523h12v4h-12zM225 523h16v4h-16zM253 523h4v4h-4zM325 523h4v4h-4zM369 523h8v4h-8zM389 523h4v4h-4zM140 527h16v4h-16zM176 527h20v4h-20zM200 527h12v4h-12zM221 527h4v4h-4zM237 527h4v4h-4zM253 527h4v4h-4zM329 527h4v4h-4zM377 527h4v4h-4zM152 531h4v5h-4zM180 531h4v5h-4zM208 531h8v5h-8zM237 531h4v5h-4zM269 531h24v5h-24zM329 531h4v5h-4zM361 531h4v5h-4zM116 536h4v4h-4zM148 536h12v4h-12zM208 536h4v4h-4zM216 536h5v4h-5zM237 536h4v4h-4zM249 536h4v4h-4zM269 536h4v4h-4zM277 536h8v4h-8zM289 536h8v4h-8zM357 536h4v4h-4zM116 540h4v4h-4zM144 540h8v4h-8zM156 540h8v4h-8zM208 540h4v4h-4zM216 540h5v4h-5zM237 540h16v4h-16zM273 540h24v4h-24zM301 540h4v4h-4zM144 544h4v5h-4zM152 544h4v5h-4zM164 544h4v5h-4zM192 544h8v5h-8zM204 544h8v5h-8zM237 544h12v5h-12zM305 544h4v5h-4zM313 544h4v5h-4zM116 549h4v4h-4zM128 549h12v4h-12zM148 549h8v4h-8zM188 549h4v4h-4zM200 549h4v4h-4zM237 549h8v4h-8zM249 549h12v4h-12zM305 549h4v4h-4zM313 549h8v4h-8zM325 549h4v4h-4z"/><path fill="#222b6a" d="M695 385h4v4h-4zM683 389h4v4h-4zM691 389h4v4h-4zM715 389h4v4h-4zM679 393h8v5h-8zM711 393h8v5h-8zM590 398h4v4h-4zM679 398h8v4h-8zM707 398h8v4h-8zM590 402h4v4h-4zM659 402h28v4h-28zM711 402h4v4h-4zM590 406h4v5h-4zM623 406h8v5h-8zM671 406h4v5h-4zM679 406h12v5h-12zM711 406h4v5h-4zM590 411h16v4h-16zM663 411h12v4h-12zM683 411h12v4h-12zM711 411h4v4h-4zM590 415h12v4h-12zM627 415h4v4h-4zM667 415h8v4h-8zM683 415h12v4h-12zM711 415h4v4h-4zM586 419h4v5h-4zM594 419h8v5h-8zM639 419h8v5h-8zM667 419h4v5h-4zM691 419h20v5h-20zM534 424h8v4h-8zM586 424h8v4h-8zM614 424h9v4h-9zM655 424h16v4h-16zM683 424h12v4h-12zM534 428h4v4h-4zM570 428h24v4h-24zM623 428h4v4h-4zM643 428h4v4h-4zM651 428h24v4h-24zM679 428h4v4h-4zM687 428h4v4h-4zM695 428h8v4h-8zM466 432h4v4h-4zM534 432h4v4h-4zM542 432h4v4h-4zM570 432h4v4h-4zM578 432h16v4h-16zM623 432h4v4h-4zM659 432h32v4h-32zM699 432h8v4h-8zM566 436h24v5h-24zM594 436h4v5h-4zM635 436h8v5h-8zM651 436h68v5h-68zM550 441h40v4h-40zM614 441h4v4h-4zM627 441h16v4h-16zM655 441h8v4h-8zM671 441h16v4h-16zM691 441h4v4h-4zM707 441h12v4h-12zM546 445h8v4h-8zM562 445h24v4h-24zM610 445h8v4h-8zM635 445h60v4h-60zM715 445h4v4h-4zM353 449h4v5h-4zM361 449h4v5h-4zM482 449h4v5h-4zM546 449h4v5h-4zM562 449h20v5h-20zM586 449h4v5h-4zM610 449h45v5h-45zM667 449h4v5h-4zM675 449h4v5h-4zM683 449h16v5h-16zM715 449h4v5h-4zM353 454h8v4h-8zM482 454h12v4h-12zM562 454h4v4h-4zM570 454h4v4h-4zM578 454h8v4h-8zM606 454h4v4h-4zM614 454h4v4h-4zM631 454h8v4h-8zM667 454h4v4h-4zM711 454h8v4h-8zM482 458h12v4h-12zM558 458h4v4h-4zM594 458h4v4h-4zM602 458h4v4h-4zM610 458h4v4h-4zM631 458h4v4h-4zM667 458h8v4h-8zM715 458h4v4h-4zM405 462h4v5h-4zM438 462h4v5h-4zM486 462h8v5h-8zM530 462h8v5h-8zM558 462h8v5h-8zM582 462h4v5h-4zM590 462h4v5h-4zM598 462h8v5h-8zM610 462h4v5h-4zM631 462h12v5h-12zM663 462h4v5h-4zM393 467h8v4h-8zM442 467h4v4h-4zM474 467h4v4h-4zM522 467h28v4h-28zM554 467h8v4h-8zM566 467h12v4h-12zM582 467h4v4h-4zM590 467h12v4h-12zM631 467h12v4h-12zM385 471h8v4h-8zM434 471h4v4h-4zM446 471h4v4h-4zM466 471h4v4h-4zM474 471h4v4h-4zM510 471h16v4h-16zM534 471h4v4h-4zM542 471h12v4h-12zM566 471h8v4h-8zM578 471h8v4h-8zM643 471h4v4h-4zM385 475h4v5h-4zM434 475h4v5h-4zM446 475h8v5h-8zM470 475h12v5h-12zM506 475h4v5h-4zM518 475h8v5h-8zM542 475h16v5h-16zM570 475h4v5h-4zM578 475h12v5h-12zM639 475h4v5h-4zM647 475h4v5h-4zM703 475h4v5h-4zM413 480h5v4h-5zM446 480h12v4h-12zM466 480h8v4h-8zM478 480h4v4h-4zM506 480h8v4h-8zM546 480h28v4h-28zM578 480h12v4h-12zM618 480h5v4h-5zM627 480h4v4h-4zM643 480h8v4h-8zM699 480h8v4h-8zM405 484h8v4h-8zM422 484h4v4h-4zM438 484h12v4h-12zM474 484h4v4h-4zM486 484h4v4h-4zM510 484h4v4h-4zM518 484h12v4h-12zM542 484h16v4h-16zM582 484h8v4h-8zM643 484h4v4h-4zM715 484h4v4h-4zM333 488h4v5h-4zM353 488h4v5h-4zM405 488h4v5h-4zM422 488h4v5h-4zM442 488h8v5h-8zM462 488h4v5h-4zM482 488h8v5h-8zM506 488h4v5h-4zM518 488h12v5h-12zM534 488h4v5h-4zM582 488h8v5h-8zM610 488h4v5h-4zM635 488h4v5h-4zM715 488h4v5h-4zM273 493h4v4h-4zM329 493h8v4h-8zM361 493h4v4h-4zM369 493h4v4h-4zM397 493h8v4h-8zM409 493h9v4h-9zM422 493h4v4h-4zM438 493h4v4h-4zM454 493h28v4h-28zM486 493h16v4h-16zM570 493h4v4h-4zM578 493h12v4h-12zM606 493h8v4h-8zM329 497h4v4h-4zM337 497h4v4h-4zM357 497h4v4h-4zM365 497h8v4h-8zM377 497h8v4h-8zM393 497h4v4h-4zM405 497h37v4h-37zM454 497h16v4h-16zM486 497h4v4h-4zM494 497h4v4h-4zM502 497h12v4h-12zM518 497h4v4h-4zM526 497h8v4h-8zM562 497h4v4h-4zM578 497h8v4h-8zM606 497h8v4h-8zM269 501h4v5h-4zM329 501h12v5h-12zM361 501h24v5h-24zM389 501h4v5h-4zM409 501h9v5h-9zM434 501h4v5h-4zM450 501h8v5h-8zM462 501h12v5h-12zM498 501h8v5h-8zM510 501h12v5h-12zM526 501h8v5h-8zM570 501h16v5h-16zM602 501h8v5h-8zM687 501h4v5h-4zM269 506h4v4h-4zM329 506h8v4h-8zM361 506h8v4h-8zM373 506h20v4h-20zM409 506h4v4h-4zM422 506h8v4h-8zM434 506h8v4h-8zM462 506h8v4h-8zM494 506h8v4h-8zM510 506h4v4h-4zM518 506h8v4h-8zM534 506h4v4h-4zM574 506h8v4h-8zM586 506h4v4h-4zM606 506h12v4h-12zM683 506h4v4h-4zM176 510h4v4h-4zM269 510h8v4h-8zM309 510h16v4h-16zM329 510h4v4h-4zM337 510h4v4h-4zM349 510h4v4h-4zM357 510h12v4h-12zM377 510h20v4h-20zM409 510h9v4h-9zM422 510h8v4h-8zM438 510h8v4h-8zM450 510h8v4h-8zM490 510h4v4h-4zM498 510h4v4h-4zM574 510h4v4h-4zM606 510h12v4h-12zM647 510h4v4h-4zM172 514h4v4h-4zM285 514h12v4h-12zM301 514h8v4h-8zM317 514h28v4h-28zM353 514h4v4h-4zM361 514h36v4h-36zM418 514h8v4h-8zM434 514h20v4h-20zM490 514h8v4h-8zM602 514h4v4h-4zM148 518h4v5h-4zM176 518h4v5h-4zM261 518h4v5h-4zM285 518h12v5h-12zM317 518h4v5h-4zM325 518h8v5h-8zM341 518h12v5h-12zM357 518h4v5h-4zM365 518h12v5h-12zM385 518h12v5h-12zM430 518h20v5h-20zM486 518h8v5h-8zM152 523h4v4h-4zM180 523h8v4h-8zM257 523h4v4h-4zM265 523h36v4h-36zM321 523h4v4h-4zM329 523h4v4h-4zM345 523h12v4h-12zM361 523h8v4h-8zM377 523h12v4h-12zM393 523h4v4h-4zM434 523h12v4h-12zM486 523h4v4h-4zM566 523h8v4h-8zM225 527h12v4h-12zM257 527h4v4h-4zM273 527h28v4h-28zM321 527h8v4h-8zM353 527h4v4h-4zM361 527h16v4h-16zM430 527h16v4h-16zM490 527h4v4h-4zM570 527h4v4h-4zM148 531h4v5h-4zM216 531h21v5h-21zM257 531h4v5h-4zM293 531h4v5h-4zM321 531h8v5h-8zM333 531h4v5h-4zM353 531h8v5h-8zM365 531h16v5h-16zM462 531h4v5h-4zM212 536h4v4h-4zM221 536h16v4h-16zM253 536h4v4h-4zM261 536h8v4h-8zM297 536h4v4h-4zM325 536h8v4h-8zM361 536h16v4h-16zM389 536h4v4h-4zM494 536h8v4h-8zM546 536h4v4h-4zM574 536h4v4h-4zM152 540h4v4h-4zM212 540h4v4h-4zM221 540h4v4h-4zM229 540h8v4h-8zM253 540h4v4h-4zM265 540h8v4h-8zM297 540h4v4h-4zM305 540h8v4h-8zM317 540h4v4h-4zM325 540h8v4h-8zM349 540h8v4h-8zM361 540h4v4h-4zM494 540h12v4h-12zM212 544h9v5h-9zM249 544h4v5h-4zM257 544h4v5h-4zM265 544h4v5h-4zM273 544h4v5h-4zM285 544h20v5h-20zM309 544h4v5h-4zM317 544h12v5h-12zM345 544h12v5h-12zM365 544h4v5h-4zM478 544h4v5h-4zM490 544h4v5h-4zM498 544h4v5h-4zM582 544h4v5h-4zM168 549h4v4h-4zM192 549h8v4h-8zM204 549h8v4h-8zM233 549h4v4h-4zM245 549h4v4h-4zM285 549h20v4h-20zM309 549h4v4h-4zM321 549h4v4h-4zM329 549h8v4h-8zM341 549h12v4h-12zM478 549h16v4h-16zM574 549h8v4h-8z"/><path fill="#212a67" d="M663 406h8v5h-8zM707 415h4v4h-4zM715 415h4v4h-4zM590 419h4v5h-4zM687 419h4v5h-4zM711 419h8v5h-8zM703 424h16v4h-16zM703 428h8v4h-8zM715 428h4v4h-4zM574 432h4v4h-4zM707 432h8v4h-8zM651 441h4v4h-4zM695 441h12v4h-12zM695 445h20v4h-20zM486 449h4v5h-4zM655 449h12v5h-12zM671 449h4v5h-4zM679 449h4v5h-4zM699 449h4v5h-4zM707 449h8v5h-8zM574 454h4v4h-4zM610 454h4v4h-4zM618 454h13v4h-13zM639 454h20v4h-20zM663 454h4v4h-4zM671 454h8v4h-8zM683 454h16v4h-16zM707 454h4v4h-4zM538 458h4v4h-4zM562 458h4v4h-4zM570 458h20v4h-20zM606 458h4v4h-4zM614 458h4v4h-4zM623 458h8v4h-8zM635 458h16v4h-16zM659 458h8v4h-8zM675 458h4v4h-4zM683 458h16v4h-16zM707 458h8v4h-8zM566 462h16v5h-16zM606 462h4v5h-4zM614 462h4v5h-4zM623 462h8v5h-8zM643 462h20v5h-20zM667 462h12v5h-12zM683 462h8v5h-8zM703 462h4v5h-4zM711 462h4v5h-4zM438 467h4v4h-4zM562 467h4v4h-4zM578 467h4v4h-4zM586 467h4v4h-4zM602 467h8v4h-8zM614 467h4v4h-4zM627 467h4v4h-4zM643 467h48v4h-48zM438 471h8v4h-8zM574 471h4v4h-4zM586 471h20v4h-20zM610 471h4v4h-4zM618 471h25v4h-25zM647 471h28v4h-28zM699 471h4v4h-4zM438 475h8v5h-8zM510 475h8v5h-8zM574 475h4v5h-4zM590 475h4v5h-4zM598 475h41v5h-41zM643 475h4v5h-4zM651 475h36v5h-36zM695 475h8v5h-8zM715 475h4v5h-4zM409 480h4v4h-4zM438 480h8v4h-8zM474 480h4v4h-4zM514 480h12v4h-12zM574 480h4v4h-4zM598 480h4v4h-4zM610 480h8v4h-8zM623 480h4v4h-4zM639 480h4v4h-4zM651 480h16v4h-16zM691 480h8v4h-8zM707 480h12v4h-12zM413 484h9v4h-9zM514 484h4v4h-4zM558 484h24v4h-24zM590 484h4v4h-4zM606 484h12v4h-12zM623 484h20v4h-20zM647 484h8v4h-8zM659 484h12v4h-12zM679 484h8v4h-8zM691 484h24v4h-24zM409 488h13v5h-13zM538 488h44v5h-44zM590 488h4v5h-4zM602 488h8v5h-8zM614 488h21v5h-21zM639 488h16v5h-16zM667 488h4v5h-4zM679 488h8v5h-8zM691 488h4v5h-4zM711 488h4v5h-4zM418 493h4v4h-4zM530 493h40v4h-40zM574 493h4v4h-4zM598 493h8v4h-8zM614 493h4v4h-4zM627 493h24v4h-24zM683 493h12v4h-12zM397 497h8v4h-8zM470 497h16v4h-16zM490 497h4v4h-4zM534 497h28v4h-28zM566 497h12v4h-12zM586 497h8v4h-8zM602 497h4v4h-4zM614 497h4v4h-4zM623 497h4v4h-4zM631 497h16v4h-16zM683 497h12v4h-12zM393 501h4v5h-4zM405 501h4v5h-4zM458 501h4v5h-4zM474 501h24v5h-24zM506 501h4v5h-4zM534 501h24v5h-24zM562 501h8v5h-8zM586 501h8v5h-8zM598 501h4v5h-4zM610 501h8v5h-8zM639 501h12v5h-12zM679 501h8v5h-8zM691 501h4v5h-4zM337 506h4v4h-4zM369 506h4v4h-4zM393 506h8v4h-8zM405 506h4v4h-4zM430 506h4v4h-4zM454 506h8v4h-8zM470 506h4v4h-4zM478 506h16v4h-16zM502 506h8v4h-8zM514 506h4v4h-4zM526 506h8v4h-8zM538 506h12v4h-12zM558 506h16v4h-16zM582 506h4v4h-4zM590 506h4v4h-4zM602 506h4v4h-4zM635 506h20v4h-20zM671 506h12v4h-12zM687 506h8v4h-8zM699 506h4v4h-4zM333 510h4v4h-4zM397 510h4v4h-4zM405 510h4v4h-4zM430 510h8v4h-8zM458 510h16v4h-16zM482 510h8v4h-8zM494 510h4v4h-4zM502 510h8v4h-8zM522 510h12v4h-12zM546 510h4v4h-4zM566 510h8v4h-8zM578 510h16v4h-16zM598 510h8v4h-8zM631 510h16v4h-16zM651 510h8v4h-8zM683 510h4v4h-4zM309 514h8v4h-8zM357 514h4v4h-4zM397 514h4v4h-4zM409 514h9v4h-9zM426 514h8v4h-8zM454 514h16v4h-16zM482 514h8v4h-8zM498 514h8v4h-8zM526 514h12v4h-12zM550 514h4v4h-4zM558 514h4v4h-4zM570 514h8v4h-8zM582 514h4v4h-4zM590 514h12v4h-12zM606 514h17v4h-17zM635 514h20v4h-20zM297 518h12v5h-12zM313 518h4v5h-4zM333 518h8v5h-8zM353 518h4v5h-4zM361 518h4v5h-4zM397 518h4v5h-4zM409 518h21v5h-21zM450 518h24v5h-24zM482 518h4v5h-4zM494 518h4v5h-4zM526 518h8v5h-8zM550 518h20v5h-20zM598 518h12v5h-12zM643 518h4v5h-4zM715 518h4v5h-4zM261 523h4v4h-4zM301 523h8v4h-8zM313 523h8v4h-8zM333 523h12v4h-12zM357 523h4v4h-4zM397 523h8v4h-8zM426 523h8v4h-8zM446 523h8v4h-8zM462 523h12v4h-12zM482 523h4v4h-4zM490 523h12v4h-12zM530 523h4v4h-4zM546 523h20v4h-20zM574 523h8v4h-8zM598 523h4v4h-4zM261 527h12v4h-12zM301 527h8v4h-8zM313 527h8v4h-8zM333 527h20v4h-20zM357 527h4v4h-4zM381 527h20v4h-20zM426 527h4v4h-4zM446 527h4v4h-4zM462 527h8v4h-8zM482 527h8v4h-8zM494 527h8v4h-8zM534 527h28v4h-28zM566 527h4v4h-4zM574 527h8v4h-8zM261 531h8v5h-8zM297 531h12v5h-12zM313 531h8v5h-8zM337 531h16v5h-16zM381 531h4v5h-4zM389 531h12v5h-12zM418 531h4v5h-4zM426 531h28v5h-28zM458 531h4v5h-4zM466 531h8v5h-8zM482 531h20v5h-20zM506 531h4v5h-4zM542 531h16v5h-16zM570 531h12v5h-12zM257 536h4v4h-4zM301 536h24v4h-24zM333 536h12v4h-12zM349 536h8v4h-8zM377 536h12v4h-12zM393 536h8v4h-8zM418 536h12v4h-12zM438 536h28v4h-28zM470 536h4v4h-4zM486 536h8v4h-8zM502 536h16v4h-16zM550 536h8v4h-8zM570 536h4v4h-4zM594 536h12v4h-12zM225 540h4v4h-4zM257 540h8v4h-8zM313 540h4v4h-4zM321 540h4v4h-4zM333 540h16v4h-16zM357 540h4v4h-4zM365 540h16v4h-16zM389 540h37v4h-37zM434 540h12v4h-12zM454 540h20v4h-20zM482 540h12v4h-12zM506 540h20v4h-20zM530 540h4v4h-4zM578 540h8v4h-8zM594 540h4v4h-4zM699 540h4v4h-4zM221 544h4v5h-4zM229 544h8v5h-8zM253 544h4v5h-4zM261 544h4v5h-4zM269 544h4v5h-4zM277 544h8v5h-8zM329 544h16v5h-16zM357 544h8v5h-8zM369 544h4v5h-4zM389 544h16v5h-16zM409 544h17v5h-17zM434 544h16v5h-16zM458 544h12v5h-12zM474 544h4v5h-4zM482 544h8v5h-8zM494 544h4v5h-4zM502 544h8v5h-8zM574 544h8v5h-8zM590 544h4v5h-4zM699 544h4v5h-4zM715 544h4v5h-4zM212 549h13v4h-13zM229 549h4v4h-4zM261 549h4v4h-4zM277 549h8v4h-8zM337 549h4v4h-4zM353 549h20v4h-20zM389 549h16v4h-16zM409 549h17v4h-17zM458 549h8v4h-8zM470 549h8v4h-8zM494 549h12v4h-12zM554 549h4v4h-4zM582 549h8v4h-8zM695 549h8v4h-8z"/><path fill="#202964" d="M711 428h4v4h-4zM715 432h4v4h-4zM703 449h4v5h-4zM566 454h4v4h-4zM659 454h4v4h-4zM679 454h4v4h-4zM699 454h8v4h-8zM566 458h4v4h-4zM618 458h5v4h-5zM651 458h8v4h-8zM679 458h4v4h-4zM699 458h8v4h-8zM618 462h5v5h-5zM679 462h4v5h-4zM691 462h12v5h-12zM707 462h4v5h-4zM715 462h4v5h-4zM610 467h4v4h-4zM618 467h9v4h-9zM691 467h28v4h-28zM606 471h4v4h-4zM614 471h4v4h-4zM675 471h24v4h-24zM703 471h16v4h-16zM594 475h4v5h-4zM687 475h8v5h-8zM707 475h8v5h-8zM590 480h8v4h-8zM602 480h8v4h-8zM631 480h8v4h-8zM667 480h24v4h-24zM594 484h12v4h-12zM618 484h5v4h-5zM655 484h4v4h-4zM671 484h8v4h-8zM687 484h4v4h-4zM594 488h8v5h-8zM659 488h8v5h-8zM671 488h8v5h-8zM687 488h4v5h-4zM695 488h16v5h-16zM590 493h8v4h-8zM623 493h4v4h-4zM651 493h4v4h-4zM659 493h8v4h-8zM675 493h8v4h-8zM711 493h8v4h-8zM594 497h8v4h-8zM618 497h5v4h-5zM627 497h4v4h-4zM647 497h12v4h-12zM663 497h8v4h-8zM675 497h8v4h-8zM695 497h4v4h-4zM715 497h4v4h-4zM397 501h8v5h-8zM558 501h4v5h-4zM594 501h4v5h-4zM618 501h5v5h-5zM627 501h12v5h-12zM651 501h8v5h-8zM663 501h16v5h-16zM695 501h4v5h-4zM715 501h4v5h-4zM401 506h4v4h-4zM474 506h4v4h-4zM550 506h8v4h-8zM594 506h8v4h-8zM618 506h5v4h-5zM627 506h8v4h-8zM655 506h8v4h-8zM667 506h4v4h-4zM695 506h4v4h-4zM401 510h4v4h-4zM474 510h4v4h-4zM510 510h8v4h-8zM534 510h12v4h-12zM550 510h16v4h-16zM594 510h4v4h-4zM618 510h13v4h-13zM671 510h12v4h-12zM687 510h16v4h-16zM401 514h8v4h-8zM470 514h8v4h-8zM506 514h8v4h-8zM522 514h4v4h-4zM538 514h12v4h-12zM554 514h4v4h-4zM562 514h8v4h-8zM578 514h4v4h-4zM586 514h4v4h-4zM623 514h12v4h-12zM655 514h4v4h-4zM675 514h12v4h-12zM699 514h4v4h-4zM715 514h4v4h-4zM309 518h4v5h-4zM401 518h8v5h-8zM474 518h8v5h-8zM498 518h12v5h-12zM522 518h4v5h-4zM534 518h16v5h-16zM570 518h28v5h-28zM610 518h17v5h-17zM635 518h8v5h-8zM647 518h8v5h-8zM309 523h4v4h-4zM405 523h21v4h-21zM454 523h8v4h-8zM478 523h4v4h-4zM502 523h8v4h-8zM526 523h4v4h-4zM534 523h12v4h-12zM582 523h4v4h-4zM594 523h4v4h-4zM602 523h8v4h-8zM639 523h16v4h-16zM667 523h12v4h-12zM309 527h4v4h-4zM401 527h17v4h-17zM422 527h4v4h-4zM450 527h12v4h-12zM470 527h12v4h-12zM502 527h20v4h-20zM526 527h8v4h-8zM562 527h4v4h-4zM582 527h4v4h-4zM594 527h8v4h-8zM639 527h8v4h-8zM667 527h8v4h-8zM309 531h4v5h-4zM385 531h4v5h-4zM401 531h17v5h-17zM422 531h4v5h-4zM454 531h4v5h-4zM474 531h8v5h-8zM502 531h4v5h-4zM510 531h24v5h-24zM538 531h4v5h-4zM558 531h4v5h-4zM566 531h4v5h-4zM582 531h8v5h-8zM594 531h16v5h-16zM618 531h5v5h-5zM639 531h8v5h-8zM691 531h8v5h-8zM345 536h4v4h-4zM401 536h17v4h-17zM430 536h8v4h-8zM466 536h4v4h-4zM474 536h12v4h-12zM518 536h28v4h-28zM558 536h4v4h-4zM578 536h16v4h-16zM606 536h8v4h-8zM618 536h9v4h-9zM635 536h8v4h-8zM691 536h16v4h-16zM381 540h8v4h-8zM426 540h8v4h-8zM446 540h8v4h-8zM474 540h8v4h-8zM526 540h4v4h-4zM534 540h24v4h-24zM570 540h8v4h-8zM586 540h8v4h-8zM598 540h12v4h-12zM614 540h9v4h-9zM639 540h4v4h-4zM683 540h8v4h-8zM695 540h4v4h-4zM703 540h4v4h-4zM711 540h8v4h-8zM225 544h4v5h-4zM373 544h8v5h-8zM385 544h4v5h-4zM405 544h4v5h-4zM426 544h8v5h-8zM450 544h8v5h-8zM470 544h4v5h-4zM510 544h48v5h-48zM570 544h4v5h-4zM586 544h4v5h-4zM594 544h8v5h-8zM691 544h8v5h-8zM703 544h12v5h-12zM265 549h4v4h-4zM273 549h4v4h-4zM373 549h4v4h-4zM405 549h4v4h-4zM426 549h4v4h-4zM434 549h12v4h-12zM454 549h4v4h-4zM466 549h4v4h-4zM506 549h4v4h-4zM518 549h12v4h-12zM534 549h4v4h-4zM546 549h8v4h-8zM558 549h4v4h-4zM570 549h4v4h-4zM590 549h8v4h-8zM614 549h4v4h-4zM643 549h8v4h-8zM691 549h4v4h-4zM703 549h8v4h-8z"/><path fill="#1f2860" d="M655 488h4v5h-4zM618 493h5v4h-5zM655 493h4v4h-4zM667 493h8v4h-8zM695 493h16v4h-16zM659 497h4v4h-4zM671 497h4v4h-4zM699 497h16v4h-16zM623 501h4v5h-4zM659 501h4v5h-4zM699 501h4v5h-4zM707 501h8v5h-8zM623 506h4v4h-4zM663 506h4v4h-4zM703 506h4v4h-4zM715 506h4v4h-4zM478 510h4v4h-4zM518 510h4v4h-4zM659 510h12v4h-12zM703 510h8v4h-8zM715 510h4v4h-4zM478 514h4v4h-4zM514 514h8v4h-8zM659 514h4v4h-4zM671 514h4v4h-4zM687 514h12v4h-12zM703 514h12v4h-12zM510 518h4v5h-4zM518 518h4v5h-4zM627 518h8v5h-8zM655 518h12v5h-12zM671 518h32v5h-32zM707 518h8v5h-8zM474 523h4v4h-4zM510 523h4v4h-4zM518 523h8v4h-8zM586 523h8v4h-8zM610 523h29v4h-29zM655 523h12v4h-12zM679 523h24v4h-24zM707 523h4v4h-4zM715 523h4v4h-4zM418 527h4v4h-4zM522 527h4v4h-4zM586 527h8v4h-8zM602 527h8v4h-8zM614 527h17v4h-17zM635 527h4v4h-4zM647 527h20v4h-20zM675 527h28v4h-28zM534 531h4v5h-4zM562 531h4v5h-4zM590 531h4v5h-4zM610 531h8v5h-8zM623 531h16v5h-16zM647 531h36v5h-36zM687 531h4v5h-4zM699 531h8v5h-8zM562 536h8v4h-8zM614 536h4v4h-4zM627 536h8v4h-8zM643 536h12v4h-12zM663 536h12v4h-12zM683 536h8v4h-8zM707 536h12v4h-12zM558 540h8v4h-8zM610 540h4v4h-4zM623 540h16v4h-16zM643 540h4v4h-4zM663 540h20v4h-20zM691 540h4v4h-4zM707 540h4v4h-4zM381 544h4v5h-4zM558 544h12v5h-12zM602 544h29v5h-29zM639 544h16v5h-16zM667 544h24v5h-24zM225 549h4v4h-4zM269 549h4v4h-4zM377 549h4v4h-4zM385 549h4v4h-4zM430 549h4v4h-4zM446 549h8v4h-8zM510 549h8v4h-8zM530 549h4v4h-4zM538 549h8v4h-8zM562 549h8v4h-8zM598 549h16v4h-16zM618 549h17v4h-17zM639 549h4v4h-4zM651 549h4v4h-4zM671 549h4v4h-4zM683 549h8v4h-8zM711 549h8v4h-8z"/><path fill="#1e265d" d="M703 501h4v5h-4zM707 506h8v4h-8zM711 510h4v4h-4zM663 514h8v4h-8zM514 518h4v5h-4zM667 518h4v5h-4zM703 518h4v5h-4zM514 523h4v4h-4zM703 523h4v4h-4zM711 523h4v4h-4zM610 527h4v4h-4zM631 527h4v4h-4zM703 527h16v4h-16zM683 531h4v5h-4zM707 531h12v5h-12zM655 536h8v4h-8zM675 536h8v4h-8zM566 540h4v4h-4zM647 540h16v4h-16zM631 544h8v5h-8zM655 544h12v5h-12zM381 549h4v4h-4zM635 549h4v4h-4zM663 549h8v4h-8zM675 549h8v4h-8z"/><path fill="#1d255a" d="M655 549h8v4h-8z"/></g>
<polygon fill="#4d4d4d" points="100,30 100,205.5 116.0,205.5 130.0,203.5 150.0,201.0 160.0,196.5 170.0,194.5 180.0,192.1 188.0,190.7 191.0,186.9 195.0,182.6 200.0,179.7 210.0,177.8 220.0,175.4 228.0,173.0 240.0,167.7 255.0,163.9 270.0,157.5 285.0,149.5 300.0,143.0 310.0,135.0 320.0,128.0 330.0,123.5 345.0,121.7 355.0,117.1 361.7,114.3 369.5,113.2 372.9,108.7 377.4,103.1 381.8,99.7 391.9,96.4 395.3,90.8 399.7,86.3 404.2,83.0 407.6,75.1 410.9,70.7 416.5,67.3 422.1,61.7 428.8,55.0 440.0,52.4 450.0,50.7 460.0,48.5 466.0,46.0 480,30"/>
<g filter="url(#bl)" opacity="0.75"><rect x="182" y="263" width="9" height="17" fill="#305ac8" opacity="0.6"/>
<rect x="370" y="474" width="25" height="3" fill="#34429f"/>
<rect x="361" y="510" width="7" height="4" fill="#3c4cb0"/></g>
<polyline fill="none" stroke="#000" stroke-width="2" points="116.0,205.5 130.0,203.5 150.0,201.0 160.0,196.5 170.0,194.5 180.0,192.1 188.0,190.7 191.0,186.9 195.0,182.6 200.0,179.7 210.0,177.8 220.0,175.4 228.0,173.0 240.0,167.7 255.0,163.9 270.0,157.5 285.0,149.5 300.0,143.0 310.0,135.0 320.0,128.0 330.0,123.5 345.0,121.7 355.0,117.1 361.7,114.3 369.5,113.2 372.9,108.7 377.4,103.1 381.8,99.7 391.9,96.4 395.3,90.8 399.7,86.3 404.2,83.0 407.6,75.1 410.9,70.7 416.5,67.3 422.1,61.7 428.8,55.0 440.0,52.4 450.0,50.7 460.0,48.5 466.0,46.0"/>
<ellipse cx="254.0" cy="165.5" rx="1.8" ry="1.1" fill="#fff"/><ellipse cx="286.7" cy="150.8" rx="1.8" ry="1.1" fill="#fff"/><ellipse cx="302.0" cy="142.6" rx="1.8" ry="1.1" fill="#fff"/><ellipse cx="338.0" cy="123.6" rx="1.8" ry="1.1" fill="#fff"/><ellipse cx="362.8" cy="114.6" rx="1.8" ry="1.1" fill="#fff"/><ellipse cx="377.3" cy="104.6" rx="1.8" ry="1.1" fill="#fff"/><ellipse cx="396.3" cy="90.2" rx="1.8" ry="1.1" fill="#fff"/><ellipse cx="409.8" cy="71.2" rx="1.8" ry="1.1" fill="#fff"/><ellipse cx="459.0" cy="49.0" rx="1.8" ry="1.1" fill="#fff"/>
<rect x="116" y="552" width="603" height="1" fill="#b8bccc"/>
<g stroke="#0a0c28" stroke-width="1" stroke-dasharray="1 3"><line x1="226.4" y1="49.3" x2="226.4" y2="553"/><line x1="366.9" y1="49.3" x2="366.9" y2="553"/><line x1="507.4" y1="49.3" x2="507.4" y2="553"/><line x1="647.9" y1="49.3" x2="647.9" y2="553"/><line x1="118.3" y1="131.1" x2="719" y2="131.1"/><line x1="118.3" y1="215.5" x2="719" y2="215.5"/><line x1="118.3" y1="300.2" x2="719" y2="300.2"/><line x1="118.3" y1="384.6" x2="719" y2="384.6"/><line x1="118.3" y1="469.0" x2="719" y2="469.0"/></g>
</g>
<rect x="114" y="46" width="607" height="508.5" fill="none" stroke="#000" stroke-width="4"/>
<g fill="#000"><rect x="224.2" y="40" width="4.5" height="4"/><rect x="224.2" y="556" width="4.5" height="4"/><rect x="364.6" y="40" width="4.5" height="4"/><rect x="364.6" y="556" width="4.5" height="4"/><rect x="505.1" y="40" width="4.5" height="4"/><rect x="505.1" y="556" width="4.5" height="4"/><rect x="645.6" y="40" width="4.5" height="4"/><rect x="645.6" y="556" width="4.5" height="4"/><rect x="108" y="128.8" width="4" height="4.5"/><rect x="723" y="128.8" width="4" height="4.5"/><rect x="108" y="213.2" width="4" height="4.5"/><rect x="723" y="213.2" width="4" height="4.5"/><rect x="108" y="297.9" width="4" height="4.5"/><rect x="723" y="297.9" width="4" height="4.5"/><rect x="108" y="382.4" width="4" height="4.5"/><rect x="723" y="382.4" width="4" height="4.5"/><rect x="108" y="466.8" width="4" height="4.5"/><rect x="723" y="466.8" width="4" height="4.5"/></g>
<text x="418" y="37.5" font-size="25" font-weight="bold" text-anchor="middle" fill="#000">Ocean Color (Chlorophyll-a), 300m res</text>
<rect x="736" y="46" width="35" height="507.5" fill="url(#cb)" stroke="#2a2a2a" stroke-width="0.9"/>
<g stroke="#262626" stroke-width="1"><line x1="765.5" y1="553.5" x2="770.5" y2="553.5"/><line x1="765.5" y1="502.8" x2="770.5" y2="502.8"/><line x1="765.5" y1="452.0" x2="770.5" y2="452.0"/><line x1="765.5" y1="401.2" x2="770.5" y2="401.2"/><line x1="765.5" y1="350.5" x2="770.5" y2="350.5"/><line x1="765.5" y1="299.8" x2="770.5" y2="299.8"/><line x1="765.5" y1="249.0" x2="770.5" y2="249.0"/><line x1="765.5" y1="198.2" x2="770.5" y2="198.2"/><line x1="765.5" y1="147.5" x2="770.5" y2="147.5"/><line x1="765.5" y1="96.8" x2="770.5" y2="96.8"/><line x1="765.5" y1="46.0" x2="770.5" y2="46.0"/></g>
<g fill="#262626" font-size="19.4"><text x="779" y="561.1">0</text><text x="779" y="510.4">0.5</text><text x="779" y="459.6">1</text><text x="779" y="408.9">1.5</text><text x="779" y="358.1">2</text><text x="779" y="307.4">2.5</text><text x="779" y="256.6">3</text><text x="779" y="205.8">3.5</text><text x="779" y="155.1">4</text><text x="779" y="104.3">4.5</text><text x="779" y="53.6">5</text></g>
<text x="716" y="29.7" font-size="25" fill="#262626">mg/m</text>
<text x="779.3" y="18.2" font-size="18.3" fill="#262626">3</text>
<g fill="#000" font-size="19" text-anchor="end">
<text x="103" y="137.8">36'</text>
<text x="103" y="222.2">30'</text>
<text x="103" y="391.3">18'</text>
<text x="103" y="475.7">12'</text>
</g>
<g fill="#000" font-size="24">
<text x="57" y="298">5</text>
<text x="70.8" y="285.3" font-size="18.5">o</text>
<text x="83.5" y="298">N</text>
<text x="100.6" y="330" text-anchor="end" font-size="24.8">24.00'</text>
<text x="357" y="594">0</text>
<text x="371" y="581.8" font-size="18.5">o</text>
</g>
<g fill="#000" font-size="19" text-anchor="middle">
<text x="227" y="580">10'</text>
<text x="508" y="580">10'</text>
<text x="648" y="580">20'</text>
</g>
<text x="367" y="615" font-size="22.9" fill="#262626">Longitude</text>
<text x="126.5" y="80.4" fill="#ff0000" font-size="31.3">Copernicus</text>
<text x="126.5" y="119.4" fill="#ff0000" font-size="31.3">01/12/2025</text>
</svg>
</body></html>
